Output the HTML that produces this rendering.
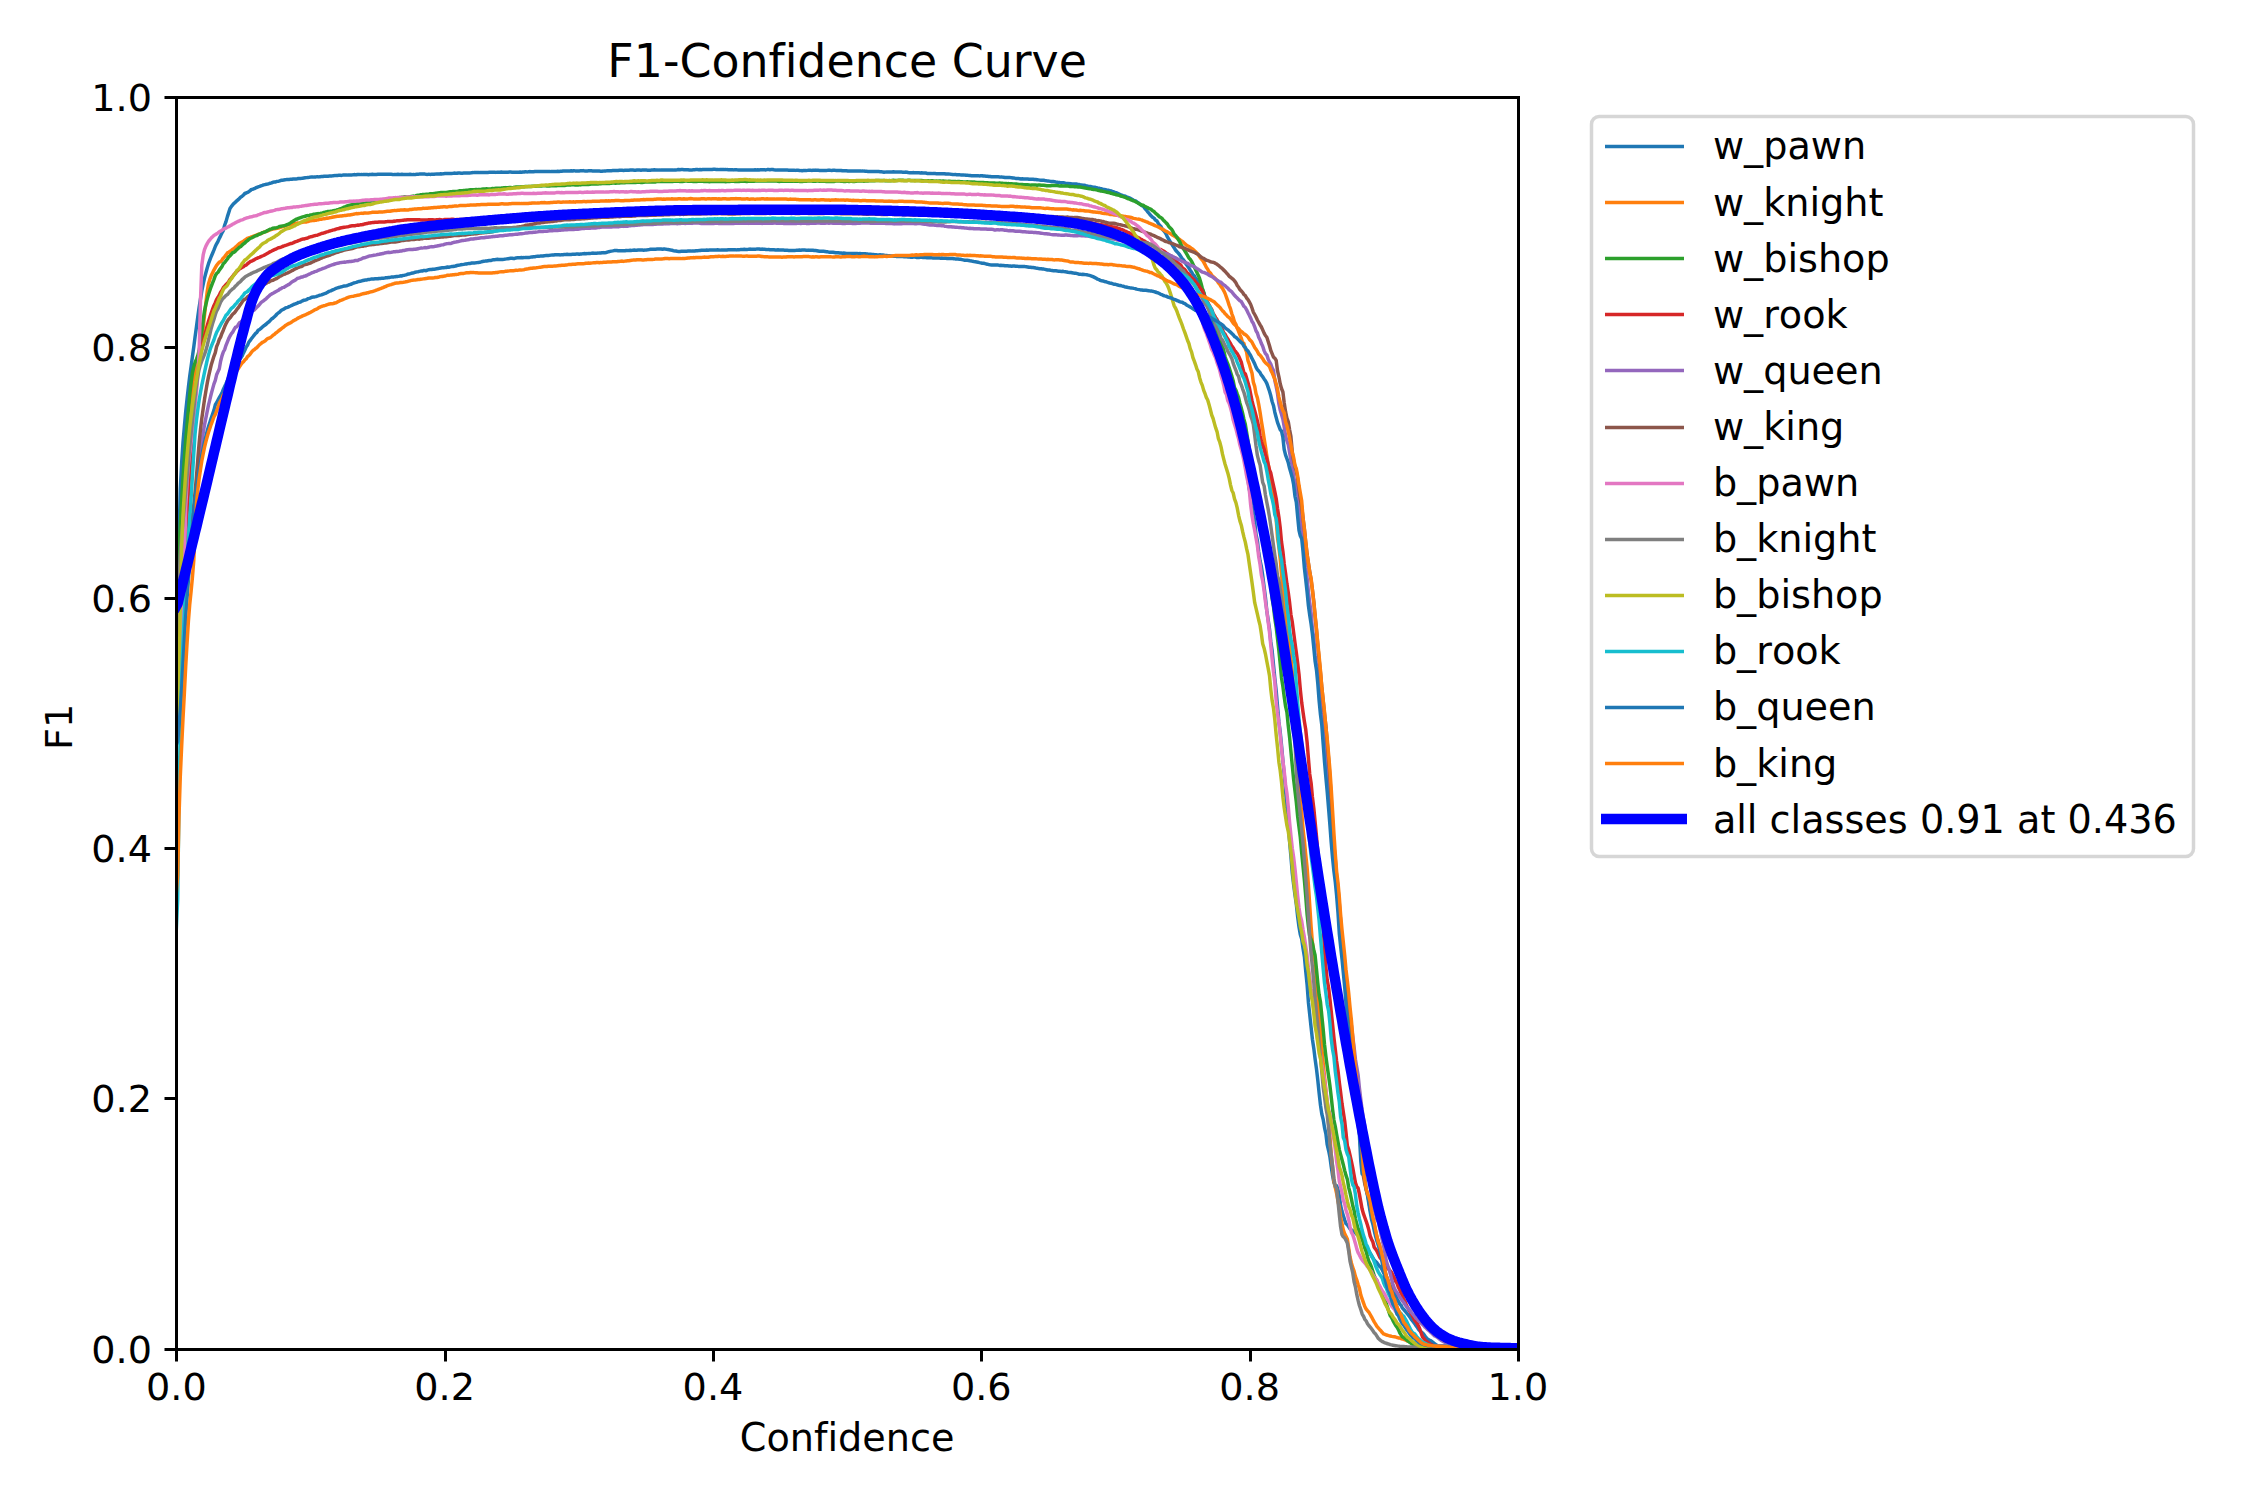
<!DOCTYPE html>
<html lang="en">
<head>
<meta charset="utf-8">
<title>F1-Confidence Curve</title>
<style>
html,body{margin:0;padding:0;background:#ffffff;}
body{width:2250px;height:1500px;overflow:hidden;}
svg{display:block;}
svg text{font-variant-ligatures:none;font-feature-settings:"liga" 0,"clig" 0;font-kerning:none;white-space:pre;}
</style>
</head>
<body>
<svg width="2250" height="1500" viewBox="0 0 2250 1500">
<rect x="0" y="0" width="2250" height="1500" fill="#ffffff"/>
<defs><clipPath id="axclip"><rect x="176.32" y="97.08" width="1341.58" height="1251.47"/></clipPath></defs>
<g fill="#000000">
<rect x="175" y="1349" width="3" height="12.5"/>
<rect x="444" y="1349" width="3" height="12.5"/>
<rect x="712" y="1349" width="3" height="12.5"/>
<rect x="980" y="1349" width="3" height="12.5"/>
<rect x="1249" y="1349" width="3" height="12.5"/>
<rect x="1517" y="1349" width="3" height="12.5"/>
<rect x="164.5" y="1348" width="12" height="3"/>
<rect x="164.5" y="1097" width="12" height="3"/>
<rect x="164.5" y="847" width="12" height="3"/>
<rect x="164.5" y="597" width="12" height="3"/>
<rect x="164.5" y="346" width="12" height="3"/>
<rect x="164.5" y="96" width="12" height="3"/>
</g>
<g clip-path="url(#axclip)" fill="none" stroke-linejoin="round" stroke-linecap="square" stroke-width="3.472">
<path stroke="#1f77b4" d="M176.3 640 177.7 615.6 179 538.3 180.3 488.8 181.7 462 183 442.4 184.4 426.4 185.7 411.7 187.1 398.8 188.4 387.2 189.7 376.5 191.1 366.5 192.4 356.7 193.8 346.7 195.1 336.6 196.5 326.6 197.8 316.8 199.1 307.6 200.5 298.9 201.8 291 203.2 284.1 204.5 278.1 205.9 272.7 207.2 268 208.5 263.7 209.9 259.9 211.2 256.5 212.6 253.3 213.9 250.2 215.3 246.5 216.6 243.8 218 241.3 219.3 238.4 220.6 235.9 222 232.8 223.3 230.7 224.7 225 226 221.6 227.4 216.6 228.7 212.6 230 208.4 231.4 206.4 232.7 204.8 234.1 203.3 235.4 202.2 236.8 200.7 238.1 199.8 239.4 198.5 240.8 197.1 242.1 196.2 243.5 195 244.8 193.5 246.2 193 247.5 192.4 248.8 191.7 250.2 190.6 251.5 189.4 252.9 189.2 254.2 188.7 255.6 187.9 256.9 187.3 258.2 186.8 259.6 186.4 260.9 185.9 262.3 185.4 263.6 184.9 265 184.6 266.3 184.3 267.6 184.1 269 183.7 270.3 183.2 271.7 182.9 273 182.2 274.4 182 275.7 181.9 277 181.4 278.4 181.2 279.7 180.9 281.1 180.3 282.4 180.2 283.8 180 285.1 179.8 286.4 179.6 287.8 179.5 289.1 179.4 290.5 179.3 291.8 179.2 293.2 179 294.5 179.1 295.8 179 297.2 178.8 298.5 178.5 299.9 178.5 301.2 178.4 302.6 178.2 303.9 178 305.2 177.8 306.6 177.6 307.9 177.4 309.3 177.3 310.6 177.1 313.3 177.1 314.6 176.9 316 176.9 317.3 176.7 318.7 176.9 320 176.7 321.4 176.6 322.7 176.6 324 176.3 326.7 176.3 328.1 176.2 329.4 176.1 330.8 176 332.1 175.9 333.4 175.7 334.8 175.6 336.1 175.4 337.5 175.4 338.8 175.3 340.2 175.3 341.5 175.4 342.8 175.1 346.9 175.1 348.2 174.9 349.6 174.9 350.9 175 352.2 174.9 353.6 174.7 354.9 174.6 356.3 174.8 357.6 174.5 359 174.4 360.3 174.6 361.6 174.4 363 174.6 364.3 174.6 365.7 174.5 367 174.6 368.4 174.7 369.7 174.5 371 174.4 372.4 174.3 373.7 174.4 375.1 174.5 376.4 174.5 377.8 174.3 380.4 174.3 381.8 174.2 385.8 174.2 387.2 174.3 388.5 174.2 389.8 174.2 391.2 174.3 392.5 174.4 393.9 174.6 395.2 174.6 396.6 174.5 397.9 174.3 399.2 174.5 400.6 174.4 401.9 174.3 403.3 174.4 404.6 174.5 406 174.4 408.6 174.4 410 174.3 411.3 174.4 412.7 174.6 414 174.6 415.4 174.4 416.7 174.3 418 174.3 419.4 174.1 420.7 174 422.1 174.1 423.4 174 424.8 174.1 426.1 174.3 427.4 174.4 428.8 174.2 430.1 174.4 431.5 174.3 432.8 174.2 434.2 174.2 435.5 174.1 436.8 173.9 438.2 174 439.5 174 440.9 173.8 442.2 173.9 443.6 173.7 444.9 173.6 446.2 173.5 447.6 173.5 448.9 173.4 450.3 173.5 451.6 173.4 453 173.3 454.3 173.1 455.6 173.2 457 173.3 458.3 173 459.7 173.1 461 173.2 462.4 173.2 463.7 173.1 465 173 466.4 172.9 467.7 173 469.1 172.9 470.4 172.9 471.8 172.7 473.1 172.6 474.4 172.4 475.8 172.4 477.1 172.5 478.5 172.4 479.8 172.6 481.2 172.5 482.5 172.4 483.8 172.5 486.5 172.5 487.9 172.4 489.2 172.3 491.9 172.3 493.3 172.2 494.6 172.2 495.9 172.4 497.3 172.2 498.6 172.3 500 172.2 501.3 172.1 502.7 172.2 504 172.2 505.3 172.3 506.7 172.2 508 172.2 509.4 172.1 510.7 172.1 512.1 172.2 513.4 172.2 514.7 172.3 516.1 172.3 517.4 172.2 518.8 172.2 520.1 172.1 521.5 172.2 522.8 172 524.1 172 525.5 171.7 526.8 171.9 528.2 171.8 529.5 171.6 530.9 171.7 532.2 171.8 533.5 171.7 534.9 171.5 537.6 171.5 538.9 171.6 540.3 171.5 544.3 171.5 545.6 171.6 547 171.5 548.3 171.5 549.7 171.4 551 171.6 552.3 171.6 553.7 171.5 555 171.4 556.4 171.4 557.7 171.3 559.1 171.5 560.4 171.3 561.7 171.2 563.1 171 564.4 171 565.8 171.1 567.1 171.1 568.5 171 569.8 170.9 571.1 170.8 572.5 171 573.8 170.7 575.2 170.9 576.5 170.9 577.9 171 579.2 170.9 580.5 170.8 581.9 170.8 583.2 170.6 584.6 170.9 585.9 171 587.3 170.9 588.6 170.8 589.9 170.7 591.3 170.8 592.6 170.9 594 170.9 595.3 171 598 171 599.3 171.1 600.7 171.2 602 171.2 603.4 171.1 604.7 170.9 606.1 170.9 607.4 170.7 611.4 170.7 612.8 170.6 615.5 170.6 616.8 170.5 618.1 170.5 619.5 170.3 622.2 170.3 623.5 170.4 624.9 170.3 626.2 170.2 628.9 170.2 630.2 170.1 632.9 170.1 634.3 170.2 635.6 170.2 636.9 170.1 639.6 170.1 641 170.2 642.3 170.1 643.7 170 645 170.1 646.3 170.1 647.7 170.2 650.4 170.2 651.7 170.1 653.1 170 654.4 169.8 655.7 169.9 657.1 169.9 658.4 170.1 659.8 170.1 661.1 169.9 662.5 170 663.8 170.1 665.1 170.1 666.5 170 667.8 169.9 669.2 170 670.5 170.1 671.9 170 673.2 170.1 674.5 169.9 675.9 169.9 677.2 169.8 678.6 169.5 679.9 169.7 681.3 169.6 682.6 169.6 683.9 169.7 686.6 169.7 688 169.8 689.3 170 690.7 170.1 692 169.9 693.3 169.8 694.7 169.7 696 169.6 697.4 169.6 698.7 169.7 700.1 169.6 701.4 169.7 702.7 169.5 706.8 169.5 708.1 169.6 709.5 169.5 712.1 169.5 713.5 169.3 714.8 169.3 716.2 169.4 717.5 169.4 718.9 169.6 720.2 169.4 721.5 169.4 722.9 169.5 724.2 169.6 725.6 169.4 726.9 169.6 728.3 169.7 729.6 169.8 730.9 169.7 732.3 169.7 733.6 169.9 735 169.7 736.3 169.7 737.7 169.9 739 170 740.3 170.1 741.7 170.1 743 170 744.4 170 745.7 170.1 747.1 170 748.4 169.9 749.7 170 751.1 170.1 752.4 170 753.8 169.9 755.1 169.8 756.5 169.9 757.8 169.8 759.1 169.9 760.5 169.8 761.8 169.7 763.2 169.8 764.5 169.8 765.9 169.9 767.2 169.6 768.5 169.5 769.9 169.7 771.2 169.6 772.6 169.5 773.9 169.8 775.3 169.9 776.6 170.1 778 170 780.6 170 782 170.1 783.3 170.1 784.7 170 786 170.1 787.4 170.1 788.7 170.2 790 170.3 791.4 170.2 794.1 170.2 795.4 170.4 796.8 170.2 798.1 170.3 799.4 170.4 800.8 170.6 802.1 170.7 803.5 170.5 804.8 170.6 806.2 170.6 807.5 170.4 808.8 170.2 810.2 170.2 811.5 170.4 812.9 170.3 814.2 170.3 815.6 170.1 816.9 170.3 818.2 170.3 819.6 170.4 820.9 170.4 822.3 170.5 825 170.5 826.3 170.4 827.6 170.3 829 170.1 830.3 170.3 831.7 170.4 833 170.3 834.4 170.2 835.7 170.4 837 170.5 838.4 170.4 839.7 170.5 841.1 170.5 842.4 170.8 846.4 170.8 847.8 171 849.1 170.9 850.5 170.9 851.8 171 854.5 171 855.8 170.9 857.2 171 858.5 171.1 861.2 171.1 862.6 170.9 863.9 171.1 865.2 171.2 866.6 171.3 867.9 171.4 869.3 171.5 870.6 171.4 872 171.5 873.3 171.4 874.6 171.5 876 171.6 878.7 171.6 880 171.7 881.4 171.8 882.7 171.9 884 172.2 885.4 172.1 886.7 171.9 888.1 171.9 889.4 172 890.8 171.9 892.1 172 893.4 171.8 894.8 172 896.1 171.9 897.5 172 898.8 172.1 901.5 172.1 902.8 172.2 904.2 172.3 905.5 172.1 906.9 172.2 908.2 172.5 909.6 172.7 912.2 172.7 913.6 172.6 914.9 172.8 919 172.8 920.3 172.9 921.6 172.8 923 172.9 924.3 172.9 925.7 173 927 173.4 931 173.4 932.4 173.6 935.1 173.6 936.4 173.7 939.1 173.7 940.4 173.8 943.1 173.8 944.5 173.7 945.8 174 947.2 173.9 948.5 173.9 949.8 174.1 951.2 174.3 952.5 174.4 953.9 174.6 955.2 174.4 956.6 174.7 957.9 174.8 959.2 174.7 960.6 174.9 963.3 174.9 964.6 175.1 966 175.2 967.3 175.2 968.6 175.4 970 175.4 971.3 175.7 972.7 175.7 974 175.8 975.4 175.8 976.7 175.7 978 175.7 979.4 175.9 980.7 175.8 982.1 175.7 983.4 176 984.8 176.1 986.1 176.2 987.4 176.3 988.8 176.5 990.1 176.5 991.5 176.7 994.2 176.7 995.5 176.8 996.8 176.7 998.2 176.8 999.5 176.9 1000.9 177.1 1002.2 177.1 1003.6 177.3 1004.9 177.5 1008.9 177.5 1010.3 177.6 1011.6 177.8 1013 178 1014.3 178.1 1015.6 178.4 1017 178.4 1018.3 178.5 1019.7 178.7 1021 179 1022.4 178.8 1023.7 178.9 1025 179 1026.4 179.1 1027.7 179 1029.1 179.2 1030.4 179.3 1031.8 179.2 1033.1 179.3 1034.4 179.5 1035.8 179.5 1037.1 179.7 1038.5 179.9 1039.8 180.1 1041.2 180.3 1042.5 180.2 1043.8 180.3 1045.2 180.6 1046.5 180.8 1047.9 180.9 1049.2 181.1 1050.6 181.4 1051.9 181.5 1053.3 181.6 1054.6 181.7 1055.9 182.1 1057.3 182.3 1058.6 182.6 1060 182.6 1061.3 182.8 1062.7 182.7 1064 182.8 1065.3 183.2 1066.7 183.5 1068 183.4 1069.4 183.6 1070.7 183.7 1072.1 183.9 1074.7 183.9 1076.1 184 1077.4 184.3 1078.8 184.5 1080.1 184.8 1081.5 184.9 1082.8 185.1 1084.1 185.3 1085.5 185.5 1086.8 186 1088.2 186.3 1089.5 186.4 1090.9 186.5 1092.2 187 1093.5 187.2 1094.9 187.3 1096.2 187.6 1097.6 188 1098.9 188.2 1100.3 188.7 1101.6 188.8 1102.9 189.2 1104.3 189.4 1105.6 189.7 1107 190.1 1108.3 190.3 1109.7 190.6 1111 190.9 1112.3 191.6 1113.7 191.8 1115 192.3 1116.4 192.7 1117.7 193.4 1119.1 194.1 1120.4 194.8 1121.7 195.1 1123.1 195.6 1124.4 196 1125.8 196.5 1127.1 197.1 1128.5 197.5 1129.8 198.1 1131.1 198.8 1132.5 199.7 1133.8 200.3 1135.2 200.8 1136.5 201.6 1137.9 202.6 1139.2 203.5 1140.5 204.6 1141.9 205.6 1143.2 206.2 1144.6 208 1145.9 209.5 1147.3 211.3 1148.6 212.8 1149.9 214.5 1151.3 215.9 1152.6 217.2 1154 218.1 1155.3 219.9 1156.7 220.7 1158 222.9 1159.3 224.9 1160.7 226.2 1162 228.6 1163.4 230.4 1164.7 231.9 1166.1 234.1 1167.4 236.9 1168.7 239.1 1170.1 241.4 1171.4 243.4 1172.8 245.8 1174.1 247.7 1175.5 250 1176.8 251.5 1178.1 252.9 1179.5 254.5 1180.8 256.5 1182.2 258.6 1183.5 260 1184.9 261.9 1186.2 264.3 1187.5 266.1 1188.9 268 1190.2 270.2 1191.6 272 1192.9 274.5 1194.3 275.7 1195.6 278.3 1196.9 279.5 1198.3 282.9 1199.6 285.8 1201 287 1202.3 289.3 1203.7 292.6 1205 297 1206.3 301.3 1207.7 305.7 1209 309.7 1210.4 315.8 1211.7 320.5 1213.1 325.9 1214.4 327.9 1215.7 333.3 1217.1 336.7 1218.4 342.8 1219.8 347.8 1221.1 352.3 1222.5 357.6 1223.8 362.2 1225.1 366.8 1226.5 371.9 1227.8 380.2 1229.2 387.6 1230.5 394.4 1231.9 398.5 1233.2 404.3 1234.5 408.5 1235.9 414.9 1237.2 420.9 1238.6 428.2 1239.9 433.1 1241.3 439.4 1242.6 447.5 1243.9 454.2 1245.3 460.1 1246.6 469.9 1248 479.7 1249.3 489.3 1250.7 496.7 1252 505.5 1253.3 513.4 1254.7 521.4 1256 534.5 1257.4 540.8 1258.7 552 1260.1 561 1261.4 566.7 1262.7 575.6 1264.1 586.9 1265.4 597.3 1266.8 610.8 1268.1 619.6 1269.5 629 1270.8 641.7 1272.1 650.4 1273.5 664.9 1274.8 678.1 1276.2 691 1277.5 705.8 1278.9 721.9 1280.2 731.8 1281.5 745.2 1282.9 760.7 1284.2 774.1 1285.6 791 1286.9 809.6 1288.3 824.4 1289.6 841.7 1290.9 856 1292.3 873.4 1293.6 884.4 1295 895 1296.3 904.1 1297.7 917.1 1299 927 1300.3 934.5 1301.7 938.9 1303 948.2 1304.4 956.7 1305.7 970.9 1307.1 984.6 1308.4 1002.2 1309.7 1014.4 1311.1 1027.3 1312.4 1039.2 1313.8 1048.4 1315.1 1059 1316.5 1069.1 1317.8 1080.2 1319.1 1092.9 1320.5 1105.3 1321.8 1114 1323.2 1119.5 1324.5 1127.5 1325.9 1133.8 1327.2 1144.7 1328.6 1150.5 1329.9 1156.8 1331.2 1166.5 1332.6 1175.7 1333.9 1182.6 1335.3 1185.7 1336.6 1185.7 1338 1189.5 1339.3 1195.6 1340.6 1205.4 1342 1211.3 1343.3 1215.4 1344.7 1220.1 1346 1223.6 1347.4 1224.8 1348.7 1226.9 1350 1228.9 1351.4 1229.9 1352.7 1230.8 1354.1 1232 1355.4 1232.8 1356.8 1234.3 1358.1 1234.9 1359.4 1235.8 1360.8 1237.2 1362.1 1238.7 1363.5 1240.5 1364.8 1242.9 1366.2 1245.7 1367.5 1249.3 1368.8 1251 1370.2 1253.1 1371.5 1255.3 1372.9 1257.8 1374.2 1260.1 1375.6 1261.4 1376.9 1262.8 1378.2 1264.7 1379.6 1266.3 1380.9 1267.4 1382.3 1270 1383.6 1272.6 1385 1273.5 1386.3 1276.2 1387.6 1279.8 1389 1283 1390.3 1285.7 1391.7 1288.1 1393 1290.7 1394.4 1293.2 1395.7 1295.7 1397 1298.9 1398.4 1301.3 1399.7 1303.9 1401.1 1305.2 1402.4 1308.1 1403.8 1309.5 1405.1 1311 1406.4 1312.7 1407.8 1314.3 1409.1 1316.1 1410.5 1318 1411.8 1320 1413.2 1321.8 1414.5 1323.4 1415.8 1325.4 1417.2 1327.2 1418.5 1329.3 1419.9 1330.8 1421.2 1331.8 1422.6 1333 1423.9 1334.4 1425.2 1336.5 1426.6 1338.1 1427.9 1339.4 1429.3 1340.1 1430.6 1340.6 1432 1341.7 1433.3 1342.7 1434.6 1343.8 1436 1344.7 1437.3 1345.5 1438.7 1346.1 1440 1346.4 1441.4 1346.5 1448.1 1346.5 1449.4 1346.4 1456.1 1346.4 1457.5 1346.3 1458.8 1346.4 1460.2 1346.4 1461.5 1346.5 1462.8 1346.4 1517.9 1346.4"/>
<path stroke="#ff7f0e" d="M176.3 650 177.7 632.3 179 575.4 180.3 539.2 181.7 513.5 183 491.3 184.4 470.6 185.7 451.7 187.1 435.1 188.4 420.9 189.7 408.1 191.1 396.2 192.4 385.7 193.8 376.7 195.1 369.4 196.5 364.3 197.8 360.5 199.1 356.5 200.5 350.9 201.8 340.7 203.2 327.4 204.5 315.3 205.9 302.7 207.2 291.6 208.5 283.8 209.9 279.2 211.2 275.6 212.6 272.7 213.9 270.1 215.3 267.6 216.6 265.3 218 263.7 219.3 262.2 220.6 261.7 222 260 223.3 258.1 224.7 256.6 226 254.9 227.4 252.9 228.7 252.4 230 251.2 231.4 250.4 232.7 249.3 234.1 248.5 235.4 247.2 236.8 246.1 238.1 244.7 239.4 243.5 240.8 242.7 242.1 242.1 243.5 241.1 244.8 240.1 246.2 239.2 247.5 238.3 248.8 237.8 250.2 237.3 251.5 236.8 252.9 236.3 254.2 235.9 255.6 235.5 256.9 234.9 258.2 234.3 259.6 233.9 260.9 233.6 262.3 232.9 263.6 232.2 265 231.8 266.3 231.4 267.6 231 269 230.2 270.3 229.9 271.7 229.4 273 229.1 274.4 228.8 275.7 228.5 277 228.2 278.4 228.1 279.7 227.7 281.1 227.2 282.4 226.6 283.8 226.3 285.1 225.8 286.4 225.4 287.8 225.1 289.1 224.9 290.5 224.6 291.8 224.4 293.2 223.9 294.5 223.6 295.8 223.4 297.2 223.1 298.5 223.1 299.9 222.9 301.2 222.6 302.6 222.3 303.9 221.9 305.2 222 306.6 221.9 307.9 221.6 309.3 221.1 310.6 220.9 312 220.5 313.3 220.5 314.6 220.4 316 220.2 317.3 219.9 318.7 219.7 320 219.3 321.4 219.2 322.7 218.9 324 218.7 325.4 218.5 326.7 218.1 328.1 218.2 329.4 217.8 330.8 217.6 332.1 217.3 333.4 217 334.8 216.7 336.1 216.5 337.5 216.3 338.8 216.3 340.2 215.9 341.5 216 342.8 215.8 344.2 215.6 345.5 215.5 346.9 215.3 348.2 214.9 349.6 215 350.9 214.7 352.2 214.6 353.6 214.2 354.9 213.9 356.3 213.6 357.6 213.7 359 213.6 360.3 213.4 361.6 213.2 363 213.4 364.3 213 365.7 212.9 367 213.1 368.4 212.9 369.7 212.8 371 212.6 372.4 212.3 373.7 212.2 377.8 212.2 379.1 212.1 380.4 212.1 381.8 212 383.1 211.9 384.5 211.7 385.8 211.6 387.2 211.3 389.8 211.3 391.2 211 392.5 210.8 393.9 210.6 395.2 210.6 396.6 210.4 397.9 210.3 399.2 210.2 400.6 210.1 401.9 210 403.3 210.1 404.6 209.8 406 209.9 408.6 209.9 410 209.5 411.3 209.5 412.7 209.3 414 209.1 415.4 209 416.7 208.9 418 208.8 419.4 208.7 420.7 208.7 422.1 208.5 423.4 208.2 424.8 208.4 426.1 208.2 427.4 208.2 428.8 208 430.1 208 431.5 207.8 432.8 207.7 434.2 207.5 435.5 207.5 436.8 207.4 438.2 207.2 439.5 207.2 440.9 207.1 442.2 207 443.6 206.8 444.9 206.8 446.2 206.9 447.6 206.9 448.9 206.6 450.3 206.6 451.6 206.5 453 206.3 454.3 206.1 455.6 206 457 206.1 458.3 205.9 459.7 205.6 461 205.5 462.4 205.4 466.4 205.4 467.7 205.2 469.1 205.2 470.4 205.1 471.8 205.1 473.1 204.9 474.4 205 475.8 205 477.1 204.8 478.5 204.7 479.8 204.7 481.2 204.6 485.2 204.6 486.5 204.5 487.9 204.3 489.2 204.2 493.3 204.2 494.6 204.3 495.9 204.2 497.3 204.3 498.6 204.2 500 204.1 501.3 203.8 502.7 203.8 504 203.9 505.3 204 506.7 203.9 508 204 509.4 203.8 510.7 203.7 512.1 203.6 520.1 203.6 521.5 203.4 522.8 203.6 524.1 203.5 525.5 203.4 526.8 203.4 528.2 203.5 529.5 203.3 530.9 203.3 532.2 203 533.5 203 534.9 202.9 536.2 203.1 537.6 202.9 538.9 202.9 540.3 202.8 541.6 202.6 542.9 202.7 544.3 202.6 545.6 202.7 547 202.9 548.3 202.7 549.7 202.7 551 202.4 552.3 202.4 553.7 202.3 555 202.2 556.4 202.2 557.7 202.1 559.1 202.1 560.4 202.2 561.7 202.2 563.1 202.1 564.4 202.1 565.8 201.9 567.1 201.9 568.5 202 569.8 201.8 571.1 201.9 572.5 202 573.8 201.8 575.2 202.2 576.5 201.7 577.9 201.8 580.5 201.8 581.9 201.7 583.2 201.6 584.6 201.6 585.9 201.7 587.3 201.5 589.9 201.5 591.3 201.4 592.6 201.3 594 201.3 595.3 201.2 596.7 201.3 598 201.3 599.3 201.2 600.7 201.1 602 201 603.4 200.9 604.7 200.9 606.1 200.8 607.4 200.9 608.7 200.8 610.1 200.9 611.4 200.8 612.8 200.7 614.1 200.7 615.5 200.6 616.8 200.5 618.1 200.6 619.5 200.6 620.8 200.8 623.5 200.8 624.9 200.5 626.2 200.5 627.5 200.4 630.2 200.4 631.6 200.2 632.9 200.2 634.3 200.1 635.6 200.1 636.9 199.9 638.3 200 639.6 199.9 641 199.8 642.3 199.7 643.7 199.6 645 199.7 646.3 199.6 647.7 199.5 649 199.4 650.4 199.5 651.7 199.5 653.1 199.4 654.4 199.3 655.7 199.2 657.1 199 661.1 199 662.5 199.2 663.8 199.1 665.1 199.2 666.5 199.1 667.8 199 669.2 198.9 670.5 199.1 671.9 198.8 673.2 198.9 674.5 199 675.9 199.1 677.2 199 678.6 198.8 679.9 198.8 681.3 199 682.6 199 683.9 198.8 685.3 198.9 688 198.9 689.3 198.7 690.7 198.6 692 198.7 693.3 198.9 694.7 198.9 696 199 697.4 199.1 698.7 198.9 700.1 198.9 701.4 198.8 704.1 198.8 705.4 198.9 706.8 198.9 708.1 198.7 709.5 198.7 710.8 198.9 712.1 198.8 713.5 198.7 714.8 198.7 716.2 198.8 717.5 198.9 718.9 198.8 720.2 198.9 721.5 198.9 722.9 198.8 724.2 198.7 725.6 198.8 726.9 198.9 728.3 199 729.6 198.9 730.9 198.8 732.3 198.7 735 198.7 736.3 198.6 737.7 198.8 739 198.7 740.3 198.8 741.7 198.9 745.7 198.9 747.1 198.7 748.4 199 749.7 199.2 751.1 199.1 752.4 199 753.8 199.1 755.1 199.3 756.5 199.1 757.8 199.1 759.1 198.9 760.5 198.9 761.8 198.8 763.2 198.8 764.5 198.9 765.9 199 767.2 198.8 768.5 198.9 769.9 199 772.6 199 773.9 199.1 775.3 199.1 776.6 198.9 778 199 779.3 199.1 786 199.1 787.4 199.2 788.7 199.4 790 199.1 791.4 199.2 792.7 199.3 794.1 199.2 795.4 199.2 796.8 199.6 798.1 199.5 799.4 199.7 800.8 199.8 802.1 199.7 804.8 199.7 806.2 199.8 810.2 199.8 811.5 200 812.9 200.1 814.2 199.8 815.6 199.8 816.9 199.9 819.6 199.9 820.9 199.8 823.6 199.8 825 199.9 826.3 199.9 827.6 200.1 829 200 830.3 200.2 831.7 200.1 833 200 834.4 200 835.7 199.8 837 199.9 838.4 199.9 839.7 200.1 841.1 199.9 842.4 200.1 843.8 200 845.1 200.2 846.4 200 847.8 200.1 849.1 200.2 850.5 200.3 851.8 200.4 853.2 200.3 854.5 200.5 855.8 200.5 857.2 200.6 858.5 200.6 859.9 200.7 861.2 200.7 862.6 200.6 863.9 200.5 865.2 200.6 866.6 200.7 870.6 200.7 872 200.8 873.3 200.8 874.6 200.7 876 201 877.3 201.1 878.7 201.1 880 201 881.4 201 882.7 201.1 884 201.2 888.1 201.2 889.4 201.1 890.8 201.3 892.1 201.3 893.4 201.6 894.8 201.5 896.1 201.4 897.5 201.4 898.8 201.3 900.2 201.2 901.5 201.2 902.8 201.3 904.2 201.4 905.5 201.5 906.9 201.6 908.2 201.6 909.6 201.5 910.9 201.5 912.2 201.6 913.6 201.6 914.9 201.8 916.3 202 919 202 920.3 201.9 921.6 201.9 923 202.2 924.3 202.3 925.7 202.6 927 202.6 928.4 202.8 929.7 202.9 931 203 932.4 202.9 936.4 202.9 937.8 203 939.1 203.3 940.4 203.2 941.8 203.4 943.1 203.4 944.5 203.3 945.8 203.3 947.2 203.2 948.5 203.3 949.8 203.4 951.2 203.7 952.5 203.9 953.9 204 955.2 204.1 956.6 204 957.9 204.1 959.2 204.2 960.6 204.3 961.9 204.3 963.3 204.6 964.6 204.8 966 204.8 967.3 204.9 968.6 205 971.3 205 972.7 204.9 974 205 975.4 205.2 976.7 205.3 978 205.3 979.4 205.2 980.7 205.2 982.1 205.3 983.4 205.4 984.8 205.5 986.1 205.7 987.4 205.8 988.8 205.7 990.1 205.8 991.5 205.9 992.8 206 995.5 206 996.8 206.1 998.2 206.2 999.5 206.2 1000.9 206.4 1004.9 206.4 1006.2 206.5 1008.9 206.5 1010.3 206.3 1013 206.3 1014.3 206.5 1015.6 206.7 1017 206.6 1018.3 206.7 1019.7 206.8 1021 206.9 1022.4 206.9 1023.7 207.1 1025 207.1 1026.4 207.2 1027.7 207.2 1029.1 207.3 1030.4 207.4 1031.8 207.7 1034.4 207.7 1035.8 207.8 1037.1 207.7 1038.5 207.8 1039.8 207.7 1041.2 207.9 1042.5 208.1 1043.8 208.3 1045.2 208.4 1046.5 208.3 1047.9 208.3 1049.2 208.4 1050.6 208.6 1051.9 208.8 1053.3 208.7 1054.6 208.9 1055.9 208.9 1057.3 209 1058.6 208.9 1060 208.9 1061.3 209 1064 209 1065.3 208.9 1066.7 209 1068 209.2 1069.4 209.5 1070.7 209.6 1072.1 209.9 1073.4 209.8 1074.7 209.9 1076.1 210 1077.4 210.3 1078.8 210.4 1080.1 210.3 1081.5 210.4 1082.8 210.6 1084.1 210.7 1085.5 211 1086.8 210.9 1088.2 211.1 1089.5 211.2 1090.9 211.5 1092.2 211.7 1093.5 212 1094.9 212.1 1096.2 212.2 1097.6 212.3 1098.9 212.6 1100.3 212.6 1101.6 213 1102.9 213.3 1104.3 213.4 1105.6 213.5 1107 213.7 1108.3 213.9 1109.7 214.4 1111 214.4 1112.3 214.6 1113.7 214.9 1115 214.9 1116.4 215.2 1117.7 215.4 1119.1 215.6 1120.4 215.7 1121.7 215.9 1123.1 216.2 1124.4 216.5 1125.8 216.6 1127.1 216.8 1128.5 216.9 1129.8 217.1 1131.1 217.5 1132.5 218 1133.8 218.4 1135.2 218.6 1136.5 218.9 1137.9 219.1 1139.2 219.2 1140.5 219.6 1141.9 219.9 1143.2 220.7 1144.6 221.1 1145.9 221.6 1147.3 222.1 1148.6 222.8 1149.9 223.3 1151.3 224 1152.6 224.4 1154 225.1 1155.3 225.8 1156.7 226.2 1158 226.8 1159.3 227.5 1160.7 228.4 1162 229 1163.4 229.8 1164.7 230.6 1166.1 231.4 1167.4 231.9 1168.7 232.7 1170.1 233.4 1171.4 234.3 1172.8 235.3 1174.1 236 1175.5 236.8 1176.8 237.8 1178.1 238.4 1179.5 239.4 1180.8 240.6 1182.2 241.3 1183.5 242.4 1184.9 243.7 1186.2 245 1187.5 245.8 1188.9 246.5 1190.2 247.4 1191.6 248.5 1192.9 249.3 1194.3 250.7 1195.6 251.8 1196.9 253.2 1198.3 254.9 1199.6 256.9 1201 258.5 1202.3 260 1203.7 262.1 1205 264.6 1206.3 267.3 1207.7 269.2 1209 271.7 1210.4 273 1211.7 275.1 1213.1 276.6 1214.4 277.6 1215.7 279 1217.1 280.6 1218.4 282.8 1219.8 284.4 1221.1 286.7 1222.5 288.4 1223.8 290.8 1225.1 293.5 1226.5 297.3 1227.8 301 1229.2 305.5 1230.5 308.9 1231.9 314 1233.2 317.4 1234.5 321.9 1235.9 324.4 1237.2 328 1238.6 331.4 1239.9 334.9 1241.3 338.1 1242.6 342.7 1243.9 343.4 1245.3 348.7 1246.6 352 1248 360.7 1249.3 364.1 1250.7 369.1 1252 373.1 1253.3 382.1 1254.7 386.4 1256 393.5 1257.4 397.9 1258.7 404.3 1260.1 412.5 1261.4 421.3 1262.7 429.1 1264.1 438.3 1265.4 446.6 1266.8 455.8 1268.1 463.5 1269.5 471.8 1270.8 482.8 1272.1 489.9 1273.5 498.9 1274.8 508.2 1276.2 519.1 1277.5 537.5 1278.9 547.1 1280.2 559.1 1281.5 574.8 1282.9 587.6 1284.2 602.5 1285.6 612.3 1286.9 625.4 1288.3 636.5 1289.6 646.9 1290.9 657.2 1292.3 671.6 1293.6 692.2 1295 711 1296.3 732.3 1297.7 758.3 1299 783.4 1300.3 801.3 1301.7 811.9 1303 828.6 1304.4 840.8 1305.7 854.3 1307.1 867.5 1308.4 884.9 1309.7 904.8 1311.1 926.6 1312.4 942.4 1313.8 952.3 1315.1 963.1 1316.5 981.5 1317.8 997.2 1319.1 1014.4 1320.5 1032.1 1321.8 1047.7 1323.2 1063.2 1324.5 1076.2 1325.9 1090.1 1327.2 1104.1 1328.6 1122.7 1329.9 1137 1331.2 1154 1332.6 1167.6 1333.9 1181.1 1335.3 1187.6 1336.6 1193.5 1338 1201.3 1339.3 1207.3 1340.6 1216.8 1342 1223.9 1343.3 1229.9 1344.7 1233.8 1346 1236.3 1347.4 1239.3 1348.7 1248.3 1350 1256.9 1351.4 1263 1352.7 1267.4 1354.1 1271.1 1355.4 1276.3 1356.8 1280.1 1358.1 1284.6 1359.4 1288.3 1360.8 1295.2 1362.1 1298.9 1363.5 1302.8 1364.8 1306.5 1366.2 1309.1 1367.5 1310.7 1368.8 1312.1 1370.2 1314.5 1371.5 1316.8 1372.9 1319.5 1374.2 1321.9 1375.6 1324.1 1376.9 1326.4 1378.2 1327.8 1379.6 1329.4 1380.9 1330.7 1382.3 1332.6 1383.6 1333.9 1385 1334.4 1386.3 1335 1387.6 1335.3 1389 1335.7 1390.3 1336 1391.7 1336.4 1393 1336.6 1394.4 1336.8 1395.7 1337 1397 1337.5 1398.4 1337.9 1399.7 1338 1401.1 1338.6 1402.4 1339 1403.8 1339.3 1405.1 1339.9 1406.4 1340.4 1407.8 1341.2 1409.1 1341.6 1410.5 1342.2 1411.8 1343 1413.2 1343.6 1414.5 1344.1 1415.8 1344.6 1417.2 1345.1 1418.5 1345.5 1419.9 1346.1 1421.2 1346.5 1422.6 1346.8 1426.6 1346.8 1427.9 1346.7 1432 1346.7 1433.3 1346.8 1434.6 1346.8 1436 1346.7 1437.3 1346.7 1438.7 1346.8 1505.8 1346.8 1507.2 1346.9 1508.5 1346.8 1509.8 1346.8 1511.2 1346.9 1512.5 1346.8 1517.9 1346.8"/>
<path stroke="#2ca02c" d="M176.3 620 177.7 603.4 179 554.4 180.3 524.1 181.7 500.2 183 478.2 184.4 458.2 185.7 440.2 187.1 424.3 188.4 409.3 189.7 395.1 191.1 382.7 192.4 373 193.8 366.7 195.1 362.5 196.5 359.1 197.8 355.6 199.1 350.8 200.5 342.9 201.8 331.8 203.2 320.1 204.5 310.8 205.9 304.4 207.2 299.1 208.5 294.5 209.9 290.3 211.2 286.5 212.6 282.9 213.9 279.6 215.3 275.6 216.6 273.5 218 272.3 219.3 270.1 220.6 268.4 222 266.5 223.3 263.8 224.7 262.5 226 260.8 227.4 259 228.7 256.8 230 255.8 231.4 254.3 232.7 252.6 234.1 252.3 235.4 251.1 236.8 249.6 238.1 248.5 239.4 247.3 240.8 246.5 242.1 245.1 243.5 243.9 244.8 243 246.2 241.5 247.5 240.6 248.8 239.4 250.2 238.5 251.5 238 252.9 237.3 254.2 236.5 255.6 235.8 256.9 235.5 258.2 234.7 259.6 234.1 260.9 233.6 262.3 232.7 263.6 232.3 265 231.8 266.3 231.3 267.6 230.5 269 229.8 270.3 229.2 271.7 228.8 273 228.2 274.4 228 275.7 227.9 277 227.6 278.4 227 279.7 226.4 281.1 226.3 282.4 225.9 283.8 225.7 285.1 225.4 286.4 224.9 287.8 224.3 289.1 223.8 290.5 222.9 291.8 222 293.2 221.1 294.5 220.4 295.8 219.5 297.2 219 298.5 218.4 299.9 217.9 301.2 217.5 302.6 216.9 303.9 216.6 305.2 216.3 306.6 215.7 307.9 215.6 309.3 215.4 310.6 214.9 312 214.7 313.3 214.3 314.6 214.2 316 213.9 317.3 213.7 318.7 213.6 320 213.4 321.4 213.1 322.7 212.9 324 212.4 325.4 212.1 326.7 212 328.1 211.5 329.4 211.6 330.8 211.3 332.1 211.1 333.4 210.7 334.8 210.4 336.1 210.1 337.5 209.7 338.8 209.4 340.2 208.7 341.5 208.4 342.8 207.8 344.2 207.1 345.5 206.6 346.9 206 348.2 205.6 349.6 205.2 350.9 205.1 352.2 204.6 353.6 204.4 354.9 204.2 356.3 204 357.6 203.5 359 203.2 360.3 202.7 361.6 202.5 363 202.3 364.3 202 365.7 201.9 367 201.6 368.4 201.4 369.7 201.3 371 201 372.4 200.7 373.7 200.8 375.1 200.6 376.4 200.3 377.8 200.1 379.1 200 380.4 199.8 381.8 199.7 383.1 199.7 384.5 199.6 385.8 199.4 387.2 199.2 388.5 199.1 389.8 199 391.2 198.8 392.5 198.7 393.9 198.7 395.2 198.3 396.6 198.2 397.9 197.9 399.2 197.6 400.6 197.6 401.9 197.3 403.3 197.1 404.6 196.7 406 196.9 407.3 196.9 408.6 196.8 410 196.6 411.3 196.4 412.7 196.2 414 196.1 415.4 195.9 416.7 195.5 418 195.3 419.4 195.1 420.7 194.8 422.1 194.6 424.8 194.6 426.1 194.3 427.4 194.3 428.8 194.1 430.1 193.8 431.5 193.7 432.8 193.7 434.2 193.6 435.5 193.3 436.8 193.1 438.2 193 439.5 192.7 440.9 192.6 442.2 192.5 443.6 192.4 446.2 192.4 447.6 192.2 448.9 192 450.3 191.8 451.6 191.7 453 191.6 454.3 191.5 455.6 191.5 457 191.4 458.3 191.1 459.7 190.8 461 190.7 462.4 190.7 463.7 190.6 465 190.5 466.4 190.2 467.7 190.2 469.1 190 470.4 189.8 471.8 189.7 473.1 189.8 474.4 189.7 475.8 189.6 477.1 189.6 478.5 189.4 479.8 189.4 481.2 189.3 482.5 189.1 483.8 189 485.2 188.9 486.5 188.8 487.9 188.9 490.6 188.9 491.9 188.6 493.3 188.6 494.6 188.4 495.9 188.3 497.3 188.3 498.6 188.2 500 188.3 501.3 188.1 502.7 188 504 187.8 505.3 187.6 506.7 187.8 508 187.7 509.4 187.6 510.7 187.6 512.1 187.7 513.4 187.5 514.7 187.2 516.1 187.1 517.4 187.1 518.8 187 520.1 186.9 521.5 186.7 522.8 186.8 524.1 186.7 525.5 186.5 526.8 186.5 528.2 186.4 529.5 186.5 530.9 186.5 532.2 186.3 533.5 186.2 534.9 186.2 536.2 186.3 537.6 186.1 540.3 186.1 541.6 185.9 542.9 185.8 545.6 185.8 547 185.9 548.3 185.8 549.7 185.9 551 185.8 552.3 185.7 553.7 185.8 555 185.6 556.4 185.7 557.7 185.6 559.1 185.5 560.4 185.5 561.7 185.4 563.1 185.4 564.4 185.5 565.8 185.2 567.1 185.1 568.5 185.1 569.8 184.9 571.1 184.9 572.5 184.7 573.8 184.8 575.2 184.9 576.5 185 577.9 185 579.2 184.7 580.5 184.9 581.9 184.6 583.2 184.5 584.6 184.5 585.9 184.4 588.6 184.4 589.9 184.3 591.3 184.1 592.6 184.1 594 183.9 595.3 184 596.7 184 598 183.9 599.3 183.8 600.7 183.7 602 183.5 603.4 183.5 604.7 183.4 606.1 183.5 607.4 183.4 610.1 183.4 611.4 183.2 612.8 183.1 614.1 183.1 615.5 183.2 616.8 183 618.1 182.8 619.5 182.9 620.8 182.8 622.2 182.8 623.5 182.7 624.9 182.7 626.2 182.4 628.9 182.4 630.2 182.5 631.6 182.5 632.9 182.4 634.3 182.5 635.6 182.5 636.9 182.3 638.3 182.2 639.6 182.3 641 182.4 642.3 182.4 643.7 182.3 645 182.1 646.3 182.1 647.7 182 649 182 650.4 181.9 655.7 181.9 657.1 181.6 658.4 181.6 659.8 181.5 661.1 181.4 662.5 181.4 663.8 181.5 665.1 181.6 666.5 181.6 667.8 181.5 669.2 181.4 670.5 181.3 671.9 181.5 673.2 181.4 674.5 181.2 675.9 181.2 677.2 181.3 678.6 181.3 679.9 181.4 681.3 181.5 682.6 181.4 683.9 181.3 685.3 181.1 686.6 181.1 688 181.2 689.3 181.1 690.7 181.3 692 181.3 693.3 181.5 694.7 181.5 696 181.4 697.4 181.4 698.7 181.2 701.4 181.2 702.7 181.3 704.1 181.5 708.1 181.5 709.5 181.7 710.8 181.6 712.1 181.5 714.8 181.5 716.2 181.3 717.5 181.4 721.5 181.4 722.9 181.5 724.2 181.6 725.6 181.7 726.9 181.5 728.3 181.4 729.6 181.5 730.9 181.3 733.6 181.3 735 181.5 739 181.5 740.3 181.2 741.7 181.2 743 181.3 744.4 181.2 745.7 181.4 747.1 181.4 748.4 181.3 749.7 181.3 751.1 181.2 752.4 181.3 753.8 181.3 755.1 181 756.5 181.1 759.1 181.1 760.5 180.9 761.8 180.8 763.2 181 764.5 181 765.9 180.9 771.2 180.9 772.6 181 773.9 181 775.3 181.1 776.6 181.1 778 181.3 779.3 181.4 780.6 181.3 782 181.2 783.3 181.3 786 181.3 787.4 181.1 788.7 181.2 790 181.3 791.4 181.3 792.7 181.2 798.1 181.2 799.4 181.4 800.8 181.4 802.1 181.5 803.5 181.2 804.8 181.1 806.2 181.2 807.5 181 808.8 181.1 811.5 181.1 812.9 181.2 814.2 181.1 815.6 181.2 816.9 181.1 818.2 181.1 819.6 181.3 820.9 181.2 822.3 181.1 823.6 181.2 825 181.3 826.3 181.5 827.6 181.5 829 181.4 830.3 181.4 831.7 181.5 833 181.5 834.4 181.4 835.7 181 837 180.9 838.4 181.1 839.7 181 841.1 181.2 842.4 181.3 843.8 181.4 845.1 181.6 846.4 181.3 847.8 181.3 849.1 181.5 850.5 181.3 851.8 181.3 853.2 181.5 854.5 181.4 855.8 181.3 857.2 181 861.2 181 862.6 180.9 863.9 181.2 865.2 181.1 866.6 180.9 867.9 180.9 869.3 180.8 870.6 180.7 874.6 180.7 876 180.5 877.3 180.5 878.7 180.6 880 180.5 881.4 180.6 882.7 180.6 884 180.5 885.4 180.7 888.1 180.7 889.4 180.6 890.8 180.7 892.1 180.5 893.4 180.3 894.8 180.4 897.5 180.4 898.8 180.3 900.2 180.3 901.5 180.2 902.8 180.3 904.2 180.5 905.5 180.4 906.9 180.5 908.2 180.3 909.6 180.3 910.9 180.5 912.2 180.6 913.6 180.6 914.9 180.5 916.3 180.4 917.6 180.5 920.3 180.5 921.6 180.6 923 180.7 928.4 180.7 929.7 180.9 931 180.8 932.4 180.7 933.7 181.1 935.1 181.2 936.4 181 937.8 181.2 939.1 181.1 940.4 181.1 941.8 181.2 943.1 181 944.5 181.3 945.8 181.3 947.2 181.4 948.5 181.3 949.8 181.3 951.2 181.4 955.2 181.4 956.6 181.7 957.9 181.6 959.2 181.6 960.6 181.7 961.9 181.7 963.3 181.9 966 181.9 967.3 181.8 968.6 181.9 970 182 971.3 182.1 972.7 182.1 974 181.9 975.4 182.3 976.7 182.5 978 182.6 983.4 182.6 984.8 182.7 987.4 182.7 988.8 182.9 990.1 183 991.5 182.9 992.8 183 994.2 182.9 995.5 183.2 998.2 183.2 999.5 183.1 1000.9 183.2 1002.2 183.3 1003.6 183.5 1006.2 183.5 1007.6 183.7 1008.9 183.6 1010.3 183.8 1011.6 183.8 1013 184 1015.6 184 1017 184.1 1018.3 184.3 1019.7 184.4 1021 184.5 1022.4 184.6 1023.7 184.7 1025 184.7 1026.4 184.8 1027.7 184.8 1029.1 184.9 1030.4 185.2 1031.8 185 1033.1 184.9 1034.4 185 1035.8 185.1 1037.1 185.2 1038.5 185.1 1039.8 185.1 1041.2 185.2 1042.5 185.2 1043.8 185.3 1045.2 185.4 1046.5 185.7 1050.6 185.7 1051.9 185.6 1054.6 185.6 1055.9 185.4 1057.3 185.6 1058.6 185.8 1060 185.9 1061.3 185.8 1062.7 186 1064 186.1 1065.3 186.1 1066.7 186 1068 186.1 1069.4 186.4 1070.7 186.4 1072.1 186.6 1073.4 186.6 1074.7 186.8 1076.1 186.7 1077.4 186.9 1078.8 186.9 1080.1 187 1081.5 187.3 1082.8 187.5 1084.1 187.7 1085.5 188 1086.8 188.3 1088.2 188.5 1089.5 188.7 1090.9 188.9 1092.2 189.3 1093.5 189.4 1094.9 189.6 1096.2 189.8 1097.6 190.2 1098.9 190.5 1100.3 190.9 1101.6 191 1102.9 191.4 1104.3 191.6 1105.6 191.9 1107 192.3 1108.3 192.5 1109.7 192.7 1111 193.3 1112.3 193.6 1113.7 194 1115 194.2 1116.4 194.8 1117.7 195.1 1119.1 195.3 1120.4 196 1121.7 196.3 1123.1 196.7 1124.4 197.2 1125.8 197.6 1127.1 198.3 1128.5 198.8 1129.8 199.2 1131.1 199.9 1132.5 200.5 1133.8 200.9 1135.2 201.5 1136.5 202.3 1137.9 203 1139.2 203.8 1140.5 204.5 1141.9 205 1143.2 205.3 1144.6 206.2 1145.9 206.9 1147.3 207.5 1148.6 208.3 1149.9 208.8 1151.3 209.6 1152.6 210.8 1154 211.6 1155.3 212.9 1156.7 214.2 1158 215.3 1159.3 216.7 1160.7 217.5 1162 218.4 1163.4 220.2 1164.7 221.4 1166.1 222.9 1167.4 224.1 1168.7 226.3 1170.1 227.9 1171.4 229 1172.8 231.1 1174.1 234 1175.5 235.4 1176.8 237 1178.1 239.2 1179.5 241.3 1180.8 244.3 1182.2 246.6 1183.5 248.9 1184.9 251 1186.2 253.2 1187.5 255.4 1188.9 258 1190.2 259.2 1191.6 261.4 1192.9 264 1194.3 266.9 1195.6 269.8 1196.9 272.5 1198.3 275.4 1199.6 278.5 1201 283.2 1202.3 288.2 1203.7 292.2 1205 297.8 1206.3 302.1 1207.7 305.3 1209 308.8 1210.4 311.2 1211.7 313.3 1213.1 316.1 1214.4 321.7 1215.7 324.1 1217.1 329 1218.4 333.7 1219.8 336.7 1221.1 341.8 1222.5 346.5 1223.8 350.8 1225.1 356.7 1226.5 360.7 1227.8 363.8 1229.2 367.8 1230.5 372.1 1231.9 376.4 1233.2 380.9 1234.5 387.6 1235.9 390.1 1237.2 393.9 1238.6 397.7 1239.9 403.2 1241.3 408.1 1242.6 413.1 1243.9 419.2 1245.3 424.2 1246.6 432.2 1248 440.7 1249.3 449 1250.7 457.5 1252 466.5 1253.3 472.9 1254.7 478.3 1256 483 1257.4 492.5 1258.7 497.7 1260.1 507.3 1261.4 518.1 1262.7 526.9 1264.1 537.4 1265.4 544.5 1266.8 551.1 1268.1 562.5 1269.5 573.5 1270.8 585.3 1272.1 598.1 1273.5 606.8 1274.8 618.2 1276.2 627.4 1277.5 638.6 1278.9 650.8 1280.2 663.5 1281.5 677.7 1282.9 686.6 1284.2 696.8 1285.6 706.4 1286.9 712.2 1288.3 726.2 1289.6 737.3 1290.9 751.2 1292.3 765.9 1293.6 779 1295 791 1296.3 802.1 1297.7 816.9 1299 827.1 1300.3 837.4 1301.7 852.9 1303 866.2 1304.4 880.4 1305.7 895.9 1307.1 914.2 1308.4 926.6 1309.7 936.3 1311.1 939.5 1312.4 943 1313.8 950.2 1315.1 955.3 1316.5 969.5 1317.8 982.8 1319.1 994.6 1320.5 1002.1 1321.8 1015.6 1323.2 1029.4 1324.5 1044.2 1325.9 1056.4 1327.2 1066.2 1328.6 1076.1 1329.9 1085.5 1331.2 1096.6 1332.6 1109.5 1333.9 1120 1335.3 1126.6 1336.6 1134.2 1338 1142.1 1339.3 1149.6 1340.6 1154.4 1342 1159.7 1343.3 1164.8 1344.7 1170.6 1346 1175.4 1347.4 1179.5 1348.7 1187.6 1350 1192.5 1351.4 1198.8 1352.7 1205.5 1354.1 1210.4 1355.4 1218.6 1356.8 1223.9 1358.1 1228.7 1359.4 1231.1 1360.8 1235.2 1362.1 1238.9 1363.5 1243.5 1364.8 1248.1 1366.2 1251.5 1367.5 1256.9 1368.8 1261.2 1370.2 1264 1371.5 1267.2 1372.9 1271.6 1374.2 1275.7 1375.6 1278.7 1376.9 1280.6 1378.2 1284.3 1379.6 1286.6 1380.9 1289.9 1382.3 1291.7 1383.6 1296.1 1385 1300 1386.3 1303.9 1387.6 1307.7 1389 1312.1 1390.3 1315.8 1391.7 1317.7 1393 1320.6 1394.4 1323.1 1395.7 1325.5 1397 1327.2 1398.4 1329.6 1399.7 1332.7 1401.1 1334.9 1402.4 1336.7 1403.8 1337.6 1405.1 1338.5 1406.4 1339.7 1407.8 1340.9 1409.1 1341.8 1410.5 1342.9 1411.8 1343.8 1413.2 1344.5 1414.5 1345 1415.8 1345.5 1417.2 1346 1418.5 1346.4 1419.9 1346.7 1421.2 1346.8 1468.2 1346.8 1469.6 1346.7 1470.9 1346.8 1504.5 1346.8 1505.8 1346.7 1507.2 1346.8 1517.9 1346.8"/>
<path stroke="#d62728" d="M176.3 660 177.7 652 179 624.8 180.3 602.2 181.7 585.4 183 571.3 184.4 554.9 185.7 534.6 187.1 513 188.4 492.3 189.7 471.6 191.1 451.3 192.4 432.3 193.8 415.2 195.1 398.8 196.5 383.9 197.8 371.5 199.1 362 200.5 354.2 201.8 347.6 203.2 341.5 204.5 335.9 205.9 330.7 207.2 325.8 208.5 321.3 209.9 317 211.2 313 212.6 309.2 213.9 305.7 215.3 302.7 216.6 299.4 218 297.3 219.3 295.1 220.6 292.2 222 290.3 223.3 287.7 224.7 286.1 226 284.6 227.4 283.4 228.7 281.7 230 279.4 231.4 278 232.7 276.2 234.1 274.4 235.4 273.1 236.8 271.4 238.1 270.2 239.4 268.9 240.8 268.2 242.1 267.3 243.5 266.7 244.8 265.5 246.2 265.1 247.5 263.7 248.8 262.8 250.2 261.7 251.5 261.2 252.9 260.4 254.2 259.8 255.6 258.8 256.9 258.4 258.2 257.7 259.6 257.3 260.9 256.6 262.3 256 263.6 255.5 265 254.7 266.3 254 267.6 253.3 269 252.3 270.3 251.7 271.7 251 273 250.3 274.4 249.7 275.7 249.2 277 248.5 278.4 247.8 279.7 247.5 281.1 247.1 282.4 246.5 283.8 246 285.1 245.5 286.4 245.1 287.8 244.6 289.1 244.1 290.5 243.6 291.8 243.5 293.2 242.8 294.5 242.2 295.8 241.6 297.2 241.3 298.5 240.6 299.9 240.1 301.2 239.5 302.6 239.1 303.9 239 305.2 238.6 306.6 238.3 307.9 237.8 309.3 237.2 310.6 236.8 312 236.5 313.3 236.1 314.6 235.7 316 235.4 317.3 235.2 318.7 234.7 320 234.2 321.4 233.5 322.7 233.3 324 232.9 325.4 232.5 326.7 231.9 328.1 231.6 329.4 231 330.8 230.7 332.1 230.3 333.4 229.9 334.8 229.7 336.1 229.1 337.5 228.7 338.8 228.5 340.2 228 341.5 227.7 342.8 227.5 344.2 227.3 345.5 227.1 346.9 226.9 348.2 226.7 349.6 226.3 350.9 226 352.2 225.8 353.6 225.8 354.9 225.7 356.3 225.4 357.6 225.1 359 225.2 360.3 224.8 361.6 224.7 363 224.6 364.3 224 365.7 223.7 367 223.6 368.4 223.1 369.7 223.1 371 222.8 372.4 222.6 373.7 222.5 375.1 222.3 376.4 222.3 377.8 222.2 379.1 221.9 380.4 222 381.8 222.1 383.1 222 384.5 222 385.8 221.8 387.2 221.6 388.5 221.5 389.8 221.4 391.2 221.5 392.5 221.5 393.9 221.1 395.2 221.2 396.6 220.8 397.9 220.8 399.2 220.7 400.6 220.6 401.9 220.4 403.3 220.2 404.6 220.1 406 220 407.3 219.8 408.6 219.8 410 219.7 411.3 219.8 412.7 219.8 414 219.7 415.4 219.8 419.4 219.8 420.7 219.9 422.1 220 423.4 220.1 424.8 220 426.1 219.9 427.4 219.9 428.8 219.8 432.8 219.8 434.2 219.9 435.5 220 436.8 219.8 438.2 219.7 439.5 219.6 440.9 219.7 442.2 219.9 443.6 219.8 444.9 219.5 446.2 219.6 447.6 219.5 448.9 219.5 450.3 219.4 451.6 219.2 453 219.3 454.3 219.6 455.6 219.7 457 219.5 458.3 219.5 459.7 219.4 461 219.7 462.4 219.6 463.7 219.5 465 219.7 466.4 219.6 467.7 219.7 469.1 219.7 470.4 219.6 471.8 219.6 473.1 219.4 475.8 219.4 477.1 219.3 478.5 219.2 479.8 219.3 481.2 219.3 482.5 219.2 483.8 219.3 485.2 219.2 486.5 219.1 487.9 219.1 489.2 219 490.6 219 491.9 218.7 493.3 218.6 494.6 218.7 495.9 218.7 497.3 218.4 498.6 218.2 500 218 501.3 217.9 502.7 218 504 217.8 505.3 217.7 506.7 217.5 508 217.6 509.4 217.4 510.7 217.5 512.1 217.3 513.4 217.2 514.7 217 516.1 216.7 517.4 216.8 518.8 216.5 520.1 216.2 521.5 216.1 522.8 216 524.1 215.8 525.5 215.8 526.8 215.5 528.2 215.3 529.5 215.4 530.9 215.4 532.2 215.2 533.5 215.1 534.9 215 536.2 215 537.6 214.7 538.9 214.6 540.3 214.3 541.6 214 542.9 213.6 544.3 213.7 545.6 213.6 547 213.6 548.3 213.7 549.7 213.5 551 213.4 552.3 213.3 553.7 213.3 555 213.1 556.4 213.1 557.7 213 559.1 213 560.4 212.8 561.7 212.7 563.1 212.4 564.4 212.4 565.8 212.3 567.1 212.4 568.5 212.3 573.8 212.3 575.2 212.2 576.5 212 577.9 212 579.2 211.9 580.5 211.8 581.9 211.7 583.2 211.8 584.6 211.8 585.9 211.7 587.3 211.7 588.6 211.6 589.9 211.3 591.3 211.4 592.6 211.3 594 211.1 595.3 211 596.7 211 598 210.9 599.3 211 600.7 211 602 210.7 603.4 210.7 604.7 210.8 606.1 210.8 607.4 210.6 608.7 210.5 610.1 210.3 612.8 210.3 614.1 210.4 615.5 210.3 616.8 210.2 618.1 210.1 619.5 210.2 620.8 210 622.2 210.1 623.5 210 624.9 210 626.2 209.9 627.5 210 628.9 210 630.2 209.9 631.6 209.8 632.9 209.8 634.3 209.6 635.6 209.4 638.3 209.4 639.6 209.2 641 209.1 642.3 209 643.7 209 645 208.9 646.3 208.9 647.7 209.1 649 209.1 650.4 209.2 651.7 209.2 653.1 209.3 654.4 209.1 655.7 209 657.1 209 658.4 209.1 661.1 209.1 662.5 209 663.8 209 665.1 208.9 666.5 209 667.8 209 669.2 208.9 670.5 208.8 671.9 208.9 673.2 208.7 674.5 208.8 675.9 208.7 677.2 208.6 678.6 208.5 679.9 208.5 681.3 208.6 682.6 208.6 683.9 208.8 685.3 208.7 686.6 208.7 688 209 689.3 208.8 690.7 208.6 692 208.6 693.3 208.5 694.7 208.5 696 208.6 697.4 208.5 698.7 208.4 701.4 208.4 702.7 208.2 704.1 208.4 706.8 208.4 708.1 208.5 710.8 208.5 712.1 208.6 716.2 208.6 717.5 208.5 718.9 208.6 720.2 208.6 721.5 208.5 722.9 208.4 724.2 208.3 725.6 208.1 726.9 208.2 728.3 208.3 729.6 208.3 730.9 208.4 732.3 208.7 733.6 208.8 735 208.6 736.3 208.5 737.7 208.3 739 208.2 740.3 208.3 741.7 208.6 743 208.7 744.4 208.6 748.4 208.6 749.7 208.3 751.1 208.2 752.4 208.3 753.8 208.3 755.1 208.4 756.5 208.4 757.8 208.5 759.1 208.4 760.5 208.4 761.8 208.6 763.2 208.5 764.5 208.4 765.9 208.5 767.2 208.3 768.5 208.1 769.9 208.3 771.2 208.4 772.6 208.5 773.9 208.4 775.3 208.5 778 208.5 779.3 208.3 780.6 208.4 782 208.5 783.3 208.6 784.7 208.4 786 208.3 787.4 208.5 790 208.5 791.4 208.4 792.7 208.5 794.1 208.4 795.4 208.4 796.8 208.3 799.4 208.3 800.8 208.6 802.1 208.5 803.5 208.4 804.8 208.6 806.2 208.5 807.5 208.4 808.8 208.5 810.2 208.7 811.5 208.3 812.9 208.5 814.2 208.6 815.6 208.6 816.9 208.3 818.2 208.3 819.6 208.2 820.9 208.4 822.3 208.5 823.6 208.4 825 208.5 827.6 208.5 829 208.4 830.3 208.4 831.7 208.5 833 208.6 837 208.6 838.4 208.3 839.7 208.4 841.1 208.5 842.4 208.6 843.8 208.5 845.1 208.7 846.4 208.8 847.8 208.8 849.1 208.7 850.5 208.6 851.8 208.9 853.2 208.7 854.5 208.8 855.8 208.9 857.2 208.9 858.5 208.8 859.9 209 861.2 209 862.6 209.1 863.9 209.2 865.2 209 867.9 209 869.3 209.2 873.3 209.2 874.6 209.3 876 209.2 877.3 209.3 880 209.3 881.4 209.4 882.7 209.2 884 209.4 888.1 209.4 889.4 209.6 890.8 209.4 892.1 209.6 893.4 209.7 894.8 209.8 896.1 209.9 897.5 210 898.8 209.8 900.2 210 901.5 210.1 902.8 210.2 904.2 210.3 905.5 210.4 906.9 210.4 908.2 210.5 909.6 210.7 910.9 210.5 912.2 210.7 914.9 210.7 916.3 210.8 917.6 210.9 919 211.1 920.3 211 921.6 210.9 923 210.9 924.3 211 925.7 210.8 927 211 928.4 210.9 929.7 211 931 211.2 932.4 211.1 933.7 211.3 935.1 211.4 937.8 211.4 939.1 211.5 940.4 211.6 941.8 211.7 943.1 211.8 944.5 212 945.8 211.9 947.2 212 948.5 212.1 949.8 212.1 951.2 212.2 952.5 212.2 953.9 212.3 955.2 212.3 956.6 212.4 957.9 212.5 959.2 212.5 960.6 212.7 963.3 212.7 964.6 212.8 966 212.9 967.3 213 968.6 212.9 970 213.1 971.3 213.1 972.7 213.3 974 213.3 975.4 213.4 976.7 213.5 978 213.7 979.4 213.8 982.1 213.8 983.4 213.9 984.8 214.2 986.1 214.2 987.4 214.3 988.8 214.4 990.1 214.4 991.5 214.7 992.8 214.5 994.2 214.9 995.5 214.7 996.8 214.8 998.2 215.1 999.5 214.9 1000.9 214.9 1002.2 215.2 1003.6 215.3 1004.9 215.3 1006.2 215.5 1007.6 215.4 1008.9 215.6 1010.3 215.7 1011.6 215.8 1013 216 1014.3 216.1 1015.6 216.4 1019.7 216.4 1021 216.3 1022.4 216.4 1023.7 216.5 1026.4 216.5 1027.7 216.7 1029.1 217 1030.4 217.1 1031.8 217.3 1033.1 217.5 1034.4 217.6 1035.8 217.8 1037.1 217.9 1038.5 218 1039.8 218.3 1041.2 218.1 1042.5 218 1043.8 218.1 1045.2 218.2 1046.5 218.3 1047.9 218.7 1049.2 218.7 1050.6 218.8 1051.9 218.9 1053.3 219.1 1054.6 219.1 1055.9 219.2 1057.3 219.3 1060 219.3 1061.3 219.4 1062.7 219.4 1064 219.3 1065.3 219.7 1066.7 219.9 1068 220 1069.4 220.3 1070.7 220.6 1072.1 220.8 1073.4 220.8 1074.7 221 1076.1 221.1 1077.4 221.1 1078.8 221.2 1080.1 221.4 1081.5 221.8 1082.8 221.9 1084.1 221.9 1085.5 222.1 1086.8 222.3 1088.2 222.4 1089.5 222.7 1090.9 222.8 1092.2 223 1093.5 223.4 1094.9 223.6 1096.2 223.9 1097.6 224.2 1098.9 224.5 1100.3 224.7 1101.6 224.8 1102.9 225 1104.3 225.3 1105.6 225.4 1107 225.6 1108.3 226 1109.7 226.3 1111 226.5 1112.3 226.9 1113.7 227 1115 227.3 1116.4 227.6 1117.7 228.3 1119.1 228.6 1120.4 229.2 1121.7 229.4 1123.1 230 1124.4 230.9 1125.8 231.4 1127.1 232.1 1128.5 232.6 1129.8 233.2 1131.1 234 1132.5 234.7 1133.8 235.3 1135.2 235.9 1136.5 237 1137.9 237.5 1139.2 238.1 1140.5 239.2 1141.9 239.7 1143.2 240.6 1144.6 241.2 1145.9 242.2 1147.3 242.8 1148.6 243.7 1149.9 244.4 1151.3 244.9 1152.6 245.6 1154 246.2 1155.3 246.8 1156.7 247.6 1158 248.4 1159.3 249.1 1160.7 249.5 1162 250.3 1163.4 251 1164.7 251.8 1166.1 252.9 1167.4 253.8 1168.7 254.8 1170.1 255.7 1171.4 257.2 1172.8 258.3 1174.1 259.2 1175.5 260.6 1176.8 261.9 1178.1 263.3 1179.5 264.2 1180.8 265.2 1182.2 267.6 1183.5 268.6 1184.9 269.7 1186.2 271.6 1187.5 273.3 1188.9 274.1 1190.2 276.2 1191.6 277.7 1192.9 278.8 1194.3 280.4 1195.6 282.1 1196.9 283.5 1198.3 285 1199.6 287.4 1201 289.1 1202.3 291 1203.7 294.3 1205 297 1206.3 299.9 1207.7 302.4 1209 304.8 1210.4 307.4 1211.7 309.4 1213.1 313.3 1214.4 315.4 1215.7 317.6 1217.1 319.8 1218.4 323.1 1219.8 324.5 1221.1 327.1 1222.5 330.1 1223.8 333 1225.1 334.3 1226.5 337 1227.8 338.9 1229.2 341.6 1230.5 343.5 1231.9 346.2 1233.2 347.8 1234.5 350.4 1235.9 352 1237.2 353.6 1238.6 356 1239.9 359 1241.3 362.2 1242.6 367.8 1243.9 372.5 1245.3 373.7 1246.6 378.1 1248 382.7 1249.3 387.4 1250.7 394.4 1252 400.7 1253.3 406.1 1254.7 410.8 1256 415.7 1257.4 421.2 1258.7 426.8 1260.1 435.5 1261.4 441.4 1262.7 445.7 1264.1 449.2 1265.4 454.3 1266.8 459 1268.1 464.1 1269.5 469.9 1270.8 473 1272.1 479.3 1273.5 485.6 1274.8 491.6 1276.2 498.5 1277.5 508.3 1278.9 517.2 1280.2 527.7 1281.5 541.8 1282.9 551.4 1284.2 563.7 1285.6 573.5 1286.9 583.6 1288.3 592.8 1289.6 602.6 1290.9 614.5 1292.3 622.1 1293.6 632.1 1295 642.9 1296.3 652.5 1297.7 663.5 1299 674.4 1300.3 689.4 1301.7 702.6 1303 712.1 1304.4 721.4 1305.7 729.3 1307.1 742.1 1308.4 758.1 1309.7 773.9 1311.1 782.9 1312.4 796.9 1313.8 808.2 1315.1 821.7 1316.5 836.5 1317.8 851.9 1319.1 873 1320.5 890.1 1321.8 907.5 1323.2 926.7 1324.5 950.3 1325.9 967.5 1327.2 980.2 1328.6 987.5 1329.9 999 1331.2 1011.1 1332.6 1024.8 1333.9 1037.5 1335.3 1049.4 1336.6 1060.9 1338 1070.8 1339.3 1082.1 1340.6 1092.2 1342 1103.6 1343.3 1111.9 1344.7 1120.9 1346 1132.6 1347.4 1145.9 1348.7 1149.6 1350 1155.2 1351.4 1161.5 1352.7 1167.5 1354.1 1175.3 1355.4 1182.6 1356.8 1186.9 1358.1 1188.1 1359.4 1194.1 1360.8 1201.9 1362.1 1209.1 1363.5 1213.9 1364.8 1217.5 1366.2 1221.3 1367.5 1225.2 1368.8 1229.9 1370.2 1236 1371.5 1239.2 1372.9 1242.1 1374.2 1247.2 1375.6 1249.1 1376.9 1251 1378.2 1253.8 1379.6 1256.9 1380.9 1258.8 1382.3 1260.6 1383.6 1263.3 1385 1265.4 1386.3 1266.7 1387.6 1268.2 1389 1269.6 1390.3 1270.9 1391.7 1272.6 1393 1275.5 1394.4 1278.3 1395.7 1281.4 1397 1283.1 1398.4 1287.4 1399.7 1289.7 1401.1 1293 1402.4 1295.7 1403.8 1299.6 1405.1 1301.5 1406.4 1305.1 1407.8 1307.7 1409.1 1310.5 1410.5 1312.3 1411.8 1314.7 1413.2 1317 1414.5 1320.1 1415.8 1321.5 1417.2 1323.6 1418.5 1326 1419.9 1329.2 1421.2 1333.2 1422.6 1337.1 1423.9 1338.6 1425.2 1340.3 1426.6 1341.5 1427.9 1342.5 1429.3 1343.3 1430.6 1344.2 1432 1344.9 1433.3 1345.7 1434.6 1346 1436 1346 1437.3 1346.1 1438.7 1346.1 1440 1346 1480.3 1346 1481.6 1346.1 1483 1346 1484.3 1346.1 1488.4 1346.1 1489.7 1346 1491 1346.1 1492.4 1346.1 1493.7 1346 1495.1 1346.1 1504.5 1346.1 1505.8 1346 1509.8 1346 1511.2 1346.1 1512.5 1346.1 1513.9 1346 1516.6 1346 1517.9 1346.1"/>
<path stroke="#9467bd" d="M176.3 640 177.7 638 179 630.3 180.3 622.4 181.7 614.3 183 606 184.4 597.7 185.7 589.5 187.1 581.4 188.4 572.4 189.7 562.1 191.1 548.7 192.4 531.6 193.8 513.8 195.1 498.8 196.5 486.1 197.8 473.9 199.1 462.4 200.5 451.6 201.8 441.7 203.2 432.8 204.5 424.9 205.9 417.8 207.2 411.3 208.5 405.1 209.9 399.4 211.2 394 212.6 388.9 213.9 384.1 215.3 380.3 216.6 374.8 218 371.6 219.3 368.7 220.6 361.3 222 355.9 223.3 352 224.7 349.5 226 345.3 227.4 341.8 228.7 338.6 230 336 231.4 333.7 232.7 332.1 234.1 329.5 235.4 327.4 236.8 326.7 238.1 325 239.4 322.8 240.8 322.1 242.1 320.7 243.5 319.6 244.8 317.9 246.2 316.4 247.5 315.1 248.8 313.1 250.2 312.1 251.5 311.2 252.9 310.7 254.2 309.9 255.6 308.5 256.9 307.1 258.2 306 259.6 304.4 260.9 302.7 262.3 301.6 263.6 300.7 265 299.6 266.3 298.6 267.6 297.3 269 296 270.3 294.7 271.7 293.9 273 293.2 274.4 292.4 275.7 291.7 277 291 278.4 290.3 279.7 289.2 281.1 288.6 282.4 287.6 283.8 287.4 285.1 286.6 286.4 285.7 287.8 284.9 289.1 284.3 290.5 283.2 291.8 282 293.2 281.2 294.5 280.6 295.8 279.7 297.2 278.5 298.5 278.1 299.9 277.8 301.2 277.1 302.6 277 303.9 276.3 305.2 276 306.6 275.5 307.9 274.8 309.3 274.1 310.6 273.5 312 272.7 313.3 272.4 314.6 271.7 316 271.3 317.3 270.8 318.7 270.1 320 269.6 321.4 269.1 322.7 268.5 324 268.1 325.4 267.6 326.7 267 328.1 266.4 329.4 265.8 330.8 265.3 332.1 264.9 333.4 264.5 334.8 264 336.1 263.6 337.5 263.3 338.8 263 340.2 262.6 341.5 262.4 342.8 262.3 344.2 262.1 345.5 262.2 346.9 261.8 348.2 261.7 349.6 261.5 350.9 261.5 352.2 261.3 353.6 261.1 354.9 260.6 356.3 260.6 357.6 260.5 359 259.7 360.3 259.3 361.6 258.9 363 258 364.3 257.8 365.7 257.3 367 256.9 368.4 256.3 369.7 255.9 371 255.8 372.4 255.6 373.7 255.3 375.1 255.1 376.4 254.9 377.8 254.4 379.1 254.3 380.4 254 381.8 253.7 383.1 253.6 384.5 253 385.8 252.8 387.2 252.4 388.5 252.3 389.8 252.4 391.2 252.3 392.5 252.1 393.9 251.7 395.2 251.7 396.6 251.4 397.9 251.4 399.2 251.3 400.6 251 401.9 250.9 403.3 250.4 404.6 250.4 406 250 407.3 249.8 408.6 249.6 411.3 249.6 412.7 249.5 414 249.3 415.4 249.3 416.7 249 418 248.7 419.4 248.4 420.7 248.1 422.1 248.1 423.4 247.9 424.8 247.6 426.1 247.7 427.4 247.5 428.8 247.2 430.1 246.9 431.5 246.6 432.8 246.8 434.2 246.6 435.5 246.2 436.8 246 438.2 245.7 439.5 245.6 440.9 245.1 442.2 244.9 443.6 244.7 444.9 244.2 446.2 243.8 447.6 243.6 448.9 243.4 450.3 243.5 451.6 243.2 453 242.6 454.3 242.3 455.6 242.1 457 241.8 458.3 241.6 459.7 241.2 461 240.8 462.4 240.5 463.7 240.4 465 240.2 466.4 239.9 467.7 239.8 469.1 239.5 470.4 239.1 471.8 239.1 473.1 239 474.4 238.7 475.8 238.5 477.1 238.4 478.5 238.2 479.8 238 481.2 237.8 482.5 237.7 483.8 237.8 485.2 237.5 486.5 237.2 487.9 237.2 489.2 237 490.6 236.9 491.9 236.7 493.3 236.5 494.6 236.4 495.9 236.3 497.3 236.3 498.6 236 500 235.8 501.3 235.7 502.7 235.7 504 235.5 505.3 235.3 506.7 235.2 508 235.1 509.4 234.8 510.7 234.7 512.1 234.7 513.4 234.6 514.7 234.4 516.1 234.2 517.4 234.2 518.8 233.9 520.1 233.8 521.5 233.8 522.8 233.6 524.1 233.4 525.5 233.1 526.8 233 528.2 232.8 529.5 232.5 530.9 232.6 532.2 232.5 533.5 232.3 534.9 232.2 536.2 232.1 537.6 231.9 538.9 231.6 540.3 231.5 541.6 231.6 542.9 231.5 544.3 231.3 545.6 231.3 547 231.2 548.3 230.9 549.7 230.8 552.3 230.8 553.7 230.6 555 230.3 556.4 230.4 557.7 230.4 559.1 230.3 560.4 230.2 561.7 230.1 563.1 230.1 564.4 229.9 565.8 229.7 567.1 229.7 568.5 229.6 571.1 229.6 572.5 229.3 573.8 229.4 575.2 229.3 576.5 229.3 577.9 229.2 579.2 229 580.5 228.8 581.9 228.6 583.2 228.5 584.6 228.4 585.9 228.1 587.3 228.3 588.6 228.2 589.9 228.3 591.3 228.1 592.6 228.1 594 228 595.3 228.1 596.7 227.8 598 227.6 599.3 227.6 600.7 227.2 602 227.1 603.4 227 604.7 226.9 610.1 226.9 611.4 227 612.8 226.8 615.5 226.8 616.8 226.7 618.1 226.9 619.5 226.6 620.8 226.3 622.2 226.2 623.5 226.4 624.9 226.2 627.5 226.2 628.9 225.9 630.2 225.7 631.6 225.5 632.9 225.5 634.3 225.4 635.6 225.3 636.9 225.2 638.3 225.1 639.6 224.9 641 224.8 642.3 224.7 643.7 224.6 649 224.6 650.4 224.4 651.7 224.5 653.1 224.4 654.4 224.3 655.7 224.3 657.1 224.1 658.4 224.1 659.8 224 661.1 223.8 662.5 224 663.8 223.7 665.1 223.9 666.5 223.7 667.8 223.8 669.2 223.7 670.5 223.6 671.9 223.5 673.2 223.4 674.5 223.3 675.9 223.4 677.2 223.7 678.6 223.6 679.9 223.6 681.3 223.3 683.9 223.3 685.3 223.4 686.6 223.3 689.3 223.3 690.7 223.2 692 223.4 693.3 223.1 698.7 223.1 700.1 223.3 701.4 223.5 702.7 223.6 704.1 223.4 708.1 223.4 709.5 223.5 710.8 223.5 712.1 223.6 713.5 223.5 714.8 223.2 716.2 223.1 717.5 223.3 718.9 223.4 720.2 223.6 721.5 223.4 724.2 223.4 725.6 223.6 726.9 223.5 729.6 223.5 730.9 223.6 732.3 223.5 733.6 223.4 735 223.3 736.3 223.2 741.7 223.2 743 223.3 744.4 223.2 745.7 223.3 747.1 223.2 748.4 223.4 749.7 223.2 753.8 223.2 755.1 223.3 756.5 223.1 757.8 223.2 760.5 223.2 761.8 223.4 763.2 223.3 764.5 223.3 765.9 223.1 767.2 223.2 769.9 223.2 771.2 223.1 772.6 223.3 773.9 223.1 775.3 223.1 776.6 223.2 778 223.2 779.3 223.3 780.6 223.3 782 223.2 783.3 223.4 787.4 223.4 788.7 223.3 790 223.5 791.4 223.4 792.7 223.3 794.1 223.4 795.4 223.3 796.8 223.4 798.1 223.2 799.4 223.3 800.8 223.4 802.1 223.3 803.5 223.3 804.8 223.2 806.2 223.4 807.5 223.5 808.8 223.5 810.2 223.2 811.5 223.3 812.9 223.2 814.2 223.3 815.6 223.3 816.9 223.1 819.6 223.1 820.9 223.3 822.3 223.3 823.6 223.2 825 223.3 826.3 223.1 827.6 223.1 829 223.2 830.3 223.1 831.7 223.1 833 223.2 834.4 223.3 835.7 223.2 837 223.1 838.4 223.3 841.1 223.3 842.4 223.4 845.1 223.4 846.4 223.3 847.8 223.2 849.1 223.3 850.5 223.2 851.8 223.4 855.8 223.4 857.2 223.3 858.5 223.2 859.9 223.2 861.2 223 862.6 223 863.9 222.9 865.2 223 866.6 222.9 867.9 223 869.3 223 870.6 223.2 872 223.3 873.3 223.2 874.6 223.3 878.7 223.3 880 223.1 881.4 223.2 882.7 223.2 884 223.1 885.4 223.4 886.7 223.5 888.1 223.6 889.4 223.4 890.8 223.4 892.1 223.5 893.4 223.7 894.8 223.9 896.1 223.7 898.8 223.7 900.2 223.8 901.5 223.7 902.8 223.5 904.2 223.6 905.5 223.5 908.2 223.5 909.6 223.4 910.9 223.5 912.2 223.4 913.6 223.6 914.9 223.7 916.3 223.7 917.6 223.6 919 223.4 920.3 223.6 921.6 223.8 923 224.1 924.3 224.2 925.7 224.2 927 224.6 928.4 224.8 929.7 224.9 931 225 932.4 225.1 933.7 225 935.1 225.2 936.4 225.4 937.8 225.5 939.1 225.4 940.4 225.5 941.8 225.8 943.1 225.7 944.5 226.2 945.8 226.4 947.2 226.6 948.5 226.8 949.8 226.7 951.2 226.7 952.5 227 953.9 227.1 955.2 227.2 956.6 227.2 957.9 227.4 959.2 227.6 960.6 227.6 961.9 227.7 963.3 227.8 964.6 227.9 966 228.1 967.3 228.2 968.6 228.4 970 228.3 971.3 228.4 972.7 228.5 974 228.8 975.4 228.8 976.7 228.7 978 228.7 979.4 228.8 980.7 228.9 982.1 229 983.4 228.9 984.8 228.9 986.1 229 987.4 229.2 988.8 229.3 990.1 229.3 991.5 229.2 992.8 229.4 994.2 229.9 995.5 229.9 996.8 229.8 998.2 229.8 999.5 229.9 1000.9 229.7 1002.2 229.8 1003.6 229.9 1004.9 230.3 1006.2 230.2 1007.6 230.5 1008.9 230.7 1010.3 230.6 1011.6 230.8 1013 230.8 1014.3 231 1015.6 231.2 1017 231.2 1018.3 231.3 1019.7 231.3 1021 231.4 1022.4 231.7 1023.7 231.8 1025 231.8 1026.4 231.9 1027.7 232.1 1029.1 232.2 1030.4 232.3 1031.8 232.2 1033.1 232.4 1034.4 232.5 1035.8 232.6 1037.1 232.7 1038.5 232.8 1039.8 233 1041.2 233.2 1042.5 233.4 1043.8 233.6 1045.2 233.8 1046.5 233.8 1047.9 234 1049.2 234.1 1050.6 234.4 1051.9 234.6 1053.3 234.8 1054.6 234.8 1055.9 234.7 1057.3 234.9 1058.6 234.9 1060 235.1 1061.3 235.3 1062.7 235.2 1064 235.3 1065.3 235 1066.7 235 1068 235.2 1069.4 235.3 1070.7 235.4 1072.1 235.6 1073.4 235.7 1074.7 235.7 1076.1 235.8 1077.4 235.7 1078.8 235.6 1080.1 235.6 1081.5 235.7 1082.8 235.7 1084.1 235.8 1085.5 235.9 1086.8 236 1088.2 236 1089.5 236.4 1090.9 236.3 1092.2 236.4 1093.5 236.7 1094.9 236.8 1096.2 236.8 1097.6 236.9 1098.9 237 1100.3 237.1 1101.6 237.2 1102.9 237.4 1104.3 237.6 1105.6 237.6 1107 238.2 1108.3 238.2 1109.7 238.5 1111 238.7 1112.3 238.9 1113.7 239 1115 239.4 1116.4 239.7 1117.7 240 1119.1 240.2 1120.4 240.5 1121.7 240.7 1123.1 240.9 1124.4 241.1 1125.8 241.3 1127.1 241.5 1128.5 241.6 1129.8 242 1131.1 242.6 1132.5 242.8 1133.8 243.1 1135.2 243.4 1136.5 243.6 1137.9 244 1139.2 244.4 1140.5 244.9 1141.9 245.4 1143.2 246.1 1144.6 246.5 1145.9 246.7 1147.3 247.4 1148.6 247.8 1149.9 248.1 1151.3 249 1152.6 249.4 1154 249.8 1155.3 250.2 1156.7 250.4 1158 250.7 1159.3 251.1 1160.7 251.5 1162 251.8 1163.4 252.6 1164.7 253.2 1166.1 253.5 1167.4 254.1 1168.7 254.5 1170.1 255.3 1171.4 255.7 1172.8 256.7 1174.1 257.2 1175.5 257.9 1176.8 258.6 1178.1 259.3 1179.5 260 1180.8 260.5 1182.2 261.4 1183.5 262 1184.9 262.3 1186.2 262.8 1187.5 263.3 1188.9 264.2 1190.2 265.1 1191.6 265.6 1192.9 266.2 1194.3 266.7 1195.6 267.8 1196.9 268.6 1198.3 269.3 1199.6 270.3 1201 271.2 1202.3 272.1 1203.7 272.4 1205 272.9 1206.3 273.5 1207.7 274 1209 275.2 1210.4 275.8 1211.7 276.4 1213.1 277.2 1214.4 278.4 1215.7 279.3 1217.1 280.3 1218.4 281.1 1219.8 281.8 1221.1 282.4 1222.5 283.8 1223.8 284.9 1225.1 285.8 1226.5 287.1 1227.8 288.1 1229.2 289.9 1230.5 290.8 1231.9 291.9 1233.2 293.7 1234.5 295.3 1235.9 296.8 1237.2 298.1 1238.6 299.5 1239.9 300.8 1241.3 301.6 1242.6 303.9 1243.9 306.3 1245.3 307.5 1246.6 309.8 1248 312.7 1249.3 315.2 1250.7 318.2 1252 321.4 1253.3 323.3 1254.7 326.8 1256 330.8 1257.4 333 1258.7 337.2 1260.1 340 1261.4 343.6 1262.7 346.3 1264.1 350.6 1265.4 353.5 1266.8 354.9 1268.1 358.9 1269.5 361.9 1270.8 364.2 1272.1 367.9 1273.5 370.6 1274.8 380.4 1276.2 386.6 1277.5 393.4 1278.9 404 1280.2 410 1281.5 414.2 1282.9 419.3 1284.2 426.7 1285.6 436 1286.9 440.7 1288.3 444.7 1289.6 452.5 1290.9 459.9 1292.3 465.8 1293.6 476.9 1295 482.3 1296.3 490.6 1297.7 493.3 1299 503 1300.3 515.8 1301.7 528 1303 541 1304.4 556.3 1305.7 567.8 1307.1 577.9 1308.4 591.6 1309.7 602.5 1311.1 613.1 1312.4 628.6 1313.8 638.5 1315.1 655.2 1316.5 666.2 1317.8 673.4 1319.1 684.5 1320.5 697.4 1321.8 712.5 1323.2 723 1324.5 734.6 1325.9 748.3 1327.2 767.2 1328.6 784 1329.9 802.1 1331.2 819.7 1332.6 834.7 1333.9 850.7 1335.3 868.2 1336.6 879 1338 894.7 1339.3 910.9 1340.6 927.5 1342 941.4 1343.3 958.5 1344.7 972.6 1346 982.5 1347.4 993.3 1348.7 1006.3 1350 1015.3 1351.4 1025.3 1352.7 1036.2 1354.1 1047.1 1355.4 1059.2 1356.8 1067.5 1358.1 1075 1359.4 1088 1360.8 1099.5 1362.1 1109.8 1363.5 1118.7 1364.8 1126.3 1366.2 1139 1367.5 1148.2 1368.8 1162.1 1370.2 1177.8 1371.5 1195 1372.9 1204.4 1374.2 1209.6 1375.6 1214 1376.9 1219.7 1378.2 1221.4 1379.6 1227.6 1380.9 1233.6 1382.3 1240.2 1383.6 1245.9 1385 1253.5 1386.3 1261 1387.6 1265.2 1389 1268.8 1390.3 1273.7 1391.7 1279.8 1393 1284.2 1394.4 1288.5 1395.7 1290.8 1397 1292.5 1398.4 1294.6 1399.7 1297 1401.1 1298.9 1402.4 1300.9 1403.8 1302.5 1405.1 1304.6 1406.4 1306.6 1407.8 1308.2 1409.1 1309.4 1410.5 1311 1411.8 1313.1 1413.2 1314.6 1414.5 1316.1 1415.8 1318.1 1417.2 1319.2 1418.5 1320.8 1419.9 1322 1421.2 1323.2 1422.6 1324.5 1423.9 1325.7 1425.2 1327.3 1426.6 1328.5 1427.9 1329.9 1429.3 1330.9 1430.6 1332.3 1432 1333.5 1433.3 1334.7 1434.6 1335.9 1436 1336.5 1437.3 1337.3 1438.7 1338.3 1440 1339.6 1441.4 1340.4 1442.7 1341.1 1444 1342 1445.4 1342.6 1446.7 1343.3 1448.1 1343.9 1449.4 1344.4 1450.8 1344.9 1452.1 1345.3 1453.4 1345.8 1454.8 1346.1 1456.1 1346.4 1464.2 1346.4 1465.5 1346.5 1466.9 1346.4 1468.2 1346.5 1469.6 1346.4 1470.9 1346.5 1474.9 1346.5 1476.3 1346.4 1477.6 1346.5 1479 1346.4 1491 1346.4 1492.4 1346.5 1493.7 1346.4 1517.9 1346.4"/>
<path stroke="#8c564b" d="M176.3 640 177.7 636.8 179 625.2 180.3 613.8 181.7 602.6 183 591.6 184.4 580.9 185.7 570.3 187.1 559.5 188.4 548.8 189.7 538.4 191.1 527.8 192.4 516.7 193.8 504.9 195.1 491.6 196.5 476 197.8 459.3 199.1 443.3 200.5 429.4 201.8 418.5 203.2 408.5 204.5 399.4 205.9 391 207.2 383.4 208.5 376.6 209.9 370.5 211.2 365.1 212.6 360.5 213.9 356.3 215.3 352.7 216.6 346.7 218 343.3 219.3 339.4 220.6 337.1 222 333.2 223.3 330.2 224.7 326.6 226 323.8 227.4 321.1 228.7 319.3 230 317.9 231.4 315.9 232.7 314.2 234.1 313.2 235.4 311.6 236.8 309.5 238.1 307.9 239.4 306.1 240.8 304.1 242.1 302.1 243.5 300.1 244.8 299.4 246.2 298.4 247.5 297 248.8 296 250.2 294.8 251.5 293.4 252.9 292.4 254.2 291.8 255.6 290.5 256.9 289.4 258.2 288 259.6 286.9 260.9 286 262.3 285.3 263.6 284.5 265 284 266.3 283.2 267.6 282.3 269 282 270.3 281.1 271.7 280.5 273 280.3 274.4 279.5 275.7 278.9 277 278.3 278.4 277.4 279.7 276.3 281.1 275.9 282.4 275 283.8 274.4 285.1 274.1 286.4 273.3 287.8 272.8 289.1 272.2 290.5 271.5 291.8 270.8 293.2 270.1 294.5 269.3 295.8 268.5 297.2 268 298.5 267.5 299.9 266.9 301.2 266.6 302.6 265.9 303.9 264.9 305.2 264.6 306.6 264.3 307.9 263.9 309.3 263.4 310.6 263 312 262.2 313.3 261.7 314.6 260.8 316 260.5 317.3 260 318.7 259.4 320 258.7 321.4 258.1 322.7 257.4 324 257.1 325.4 256.4 326.7 256.2 328.1 255.7 329.4 255.4 330.8 254.7 332.1 254.2 333.4 253.8 334.8 253.1 336.1 252.7 337.5 252.3 338.8 251.8 340.2 251.4 341.5 251 342.8 250.6 344.2 250.2 345.5 249.8 346.9 249.6 348.2 249.4 349.6 249.1 350.9 248.9 352.2 248.6 353.6 248.1 354.9 247.7 356.3 247.1 357.6 246.8 359 246.7 360.3 246.4 361.6 246.3 363 246.2 364.3 245.9 365.7 245.7 367 245.4 368.4 245.1 369.7 244.9 371 244.7 372.4 244.6 373.7 244.4 375.1 244.3 376.4 244.1 377.8 244 379.1 243.8 380.4 243.6 381.8 243.4 383.1 243.3 384.5 243 385.8 243 387.2 242.8 388.5 242.5 389.8 242.3 391.2 242.1 392.5 242.1 393.9 242 395.2 241.9 396.6 241.8 397.9 241.4 399.2 241.3 400.6 240.9 401.9 240.6 403.3 240.5 404.6 240.3 406 240.1 407.3 240.1 408.6 240 410 239.7 411.3 239.4 412.7 239.5 414 239.5 415.4 239.3 416.7 239.1 418 239.1 419.4 239.2 420.7 238.8 422.1 238.8 423.4 238.4 424.8 238.2 426.1 238.4 427.4 238.2 428.8 238.2 430.1 237.9 431.5 237.8 434.2 237.8 435.5 237.5 436.8 237.3 438.2 237.1 439.5 237.3 440.9 237.1 442.2 237 443.6 236.9 444.9 236.6 446.2 236.7 447.6 236.6 448.9 236.3 450.3 236.2 451.6 236 453 235.8 454.3 235.4 455.6 235.6 457 235.4 459.7 235.4 461 235.2 462.4 235.1 463.7 235.1 465 235 466.4 234.7 467.7 234.5 469.1 234.2 470.4 234.2 471.8 234.1 473.1 234 474.4 233.7 475.8 233.9 477.1 233.7 478.5 233.3 479.8 233.1 481.2 232.9 482.5 232.8 483.8 232.7 485.2 232.4 486.5 232.4 487.9 232.3 489.2 232.2 490.6 232 491.9 231.7 493.3 231.6 494.6 231.2 495.9 230.9 497.3 230.5 498.6 230.3 500 230.1 501.3 229.8 502.7 229.5 504 229.3 505.3 229 506.7 228.7 508 228.6 509.4 228.3 510.7 228.3 512.1 227.9 513.4 227.6 514.7 227.4 516.1 227.3 517.4 227.1 518.8 227 520.1 226.7 521.5 226.5 522.8 226.2 524.1 225.9 525.5 225.3 526.8 225.2 528.2 224.9 529.5 224.8 530.9 224.5 532.2 224.3 533.5 223.9 534.9 223.8 536.2 223.3 537.6 223 538.9 223 540.3 222.9 541.6 222.4 542.9 222.4 544.3 222.3 545.6 222.1 547 222 548.3 221.8 549.7 221.7 551 221.6 552.3 221.6 553.7 221.3 555 221.1 556.4 221 557.7 220.6 559.1 220.6 560.4 220.5 561.7 220.2 563.1 220.1 564.4 219.8 569.8 219.8 571.1 219.5 572.5 219.5 573.8 219.4 575.2 219.3 576.5 219.1 577.9 219.1 579.2 218.9 580.5 219 581.9 218.8 583.2 218.7 584.6 218.7 585.9 218.4 587.3 218.4 588.6 218.3 589.9 218.2 591.3 217.9 592.6 217.9 594 217.8 595.3 217.8 596.7 217.7 598 217.5 599.3 217.4 600.7 217.4 602 217.2 603.4 217.3 604.7 217.1 606.1 217.2 607.4 217.1 608.7 217.2 610.1 217.1 611.4 217.1 612.8 216.9 614.1 216.8 615.5 216.7 616.8 216.5 618.1 216.6 619.5 216.7 620.8 216.5 622.2 216.3 623.5 216.2 624.9 216.3 626.2 216.2 627.5 216.2 628.9 216.1 630.2 216.2 631.6 216.3 632.9 215.9 635.6 215.9 636.9 215.6 638.3 215.5 639.6 215.5 641 215.4 642.3 215.6 643.7 215.4 645 215.5 646.3 215.6 647.7 215.4 649 215.3 653.1 215.3 654.4 215.2 655.7 215.2 657.1 215 658.4 215 659.8 214.9 661.1 214.9 662.5 214.8 663.8 214.9 665.1 214.7 669.2 214.7 670.5 214.6 671.9 214.5 673.2 214.4 674.5 214.4 675.9 214.3 678.6 214.3 679.9 214.4 681.3 214.3 682.6 214.3 683.9 214.4 685.3 214.2 686.6 214.2 688 214.1 692 214.1 693.3 213.9 694.7 214 696 213.9 697.4 214 698.7 213.9 701.4 213.9 702.7 213.7 704.1 213.8 705.4 213.7 706.8 213.7 708.1 213.6 709.5 213.6 710.8 213.7 712.1 213.8 714.8 213.8 716.2 213.6 717.5 213.8 718.9 213.6 720.2 213.6 721.5 213.7 724.2 213.7 725.6 213.6 726.9 213.8 728.3 213.9 729.6 213.9 730.9 214 732.3 213.9 733.6 213.9 735 214 736.3 213.8 737.7 213.8 739 213.7 740.3 213.7 741.7 213.5 743 213.4 744.4 213.5 745.7 213.6 747.1 213.5 748.4 213.6 749.7 213.5 751.1 213.3 753.8 213.3 755.1 213.6 756.5 213.4 757.8 213.5 759.1 213.4 760.5 213.6 763.2 213.6 764.5 213.5 765.9 213.4 767.2 213.3 768.5 213.3 769.9 213.4 771.2 213.4 772.6 213.2 773.9 213.2 775.3 213.1 776.6 213.1 778 213.2 780.6 213.2 782 213.1 783.3 213.1 784.7 213.2 786 213.1 787.4 213.2 788.7 213.1 790 213.3 791.4 213.4 792.7 213.3 794.1 213.3 795.4 213.4 796.8 213.4 798.1 213.5 799.4 213.4 800.8 213.3 802.1 213.2 804.8 213.2 806.2 213.3 807.5 213.3 808.8 213.5 810.2 213.5 811.5 213.6 812.9 213.4 814.2 213.4 815.6 213.5 819.6 213.5 820.9 213.4 822.3 213.5 823.6 213.6 825 213.3 826.3 213.2 827.6 213.3 830.3 213.3 831.7 213.2 833 213.3 834.4 213.4 835.7 213.5 837 213.5 838.4 213.6 839.7 213.6 841.1 213.7 842.4 213.6 843.8 213.7 847.8 213.7 849.1 213.6 850.5 213.7 851.8 213.8 853.2 213.6 854.5 213.8 855.8 213.7 857.2 213.7 858.5 213.9 859.9 213.8 861.2 213.8 862.6 214 863.9 214.1 865.2 214.1 866.6 214.2 867.9 214.2 869.3 214 870.6 214.1 873.3 214.1 874.6 214 876 214.2 877.3 214.1 878.7 214.2 880 214.3 881.4 214.4 882.7 214.5 884 214.6 885.4 214.3 886.7 214.4 888.1 214.4 889.4 214.2 890.8 214.2 892.1 214.4 893.4 214.5 897.5 214.5 898.8 214.6 900.2 214.5 901.5 214.6 902.8 214.7 904.2 214.5 905.5 214.7 906.9 214.6 908.2 214.6 909.6 214.8 910.9 214.9 912.2 214.8 913.6 214.9 914.9 215 916.3 214.8 917.6 214.8 919 214.9 920.3 215 921.6 214.9 924.3 214.9 925.7 214.8 927 214.7 928.4 214.6 929.7 214.7 931 214.9 932.4 214.7 937.8 214.7 939.1 214.9 940.4 215 941.8 215.1 943.1 215 944.5 215.1 945.8 215.2 947.2 215.3 948.5 215.3 949.8 215.2 953.9 215.2 955.2 215.3 956.6 215.5 957.9 215.4 959.2 215.4 960.6 215.3 961.9 215.3 963.3 215.4 964.6 215.4 966 215.5 968.6 215.5 970 215.6 971.3 215.7 972.7 215.7 974 215.8 975.4 215.9 976.7 215.7 978 215.8 979.4 215.8 980.7 215.9 982.1 216 983.4 215.9 984.8 215.9 986.1 216 987.4 215.9 988.8 215.9 990.1 215.8 991.5 216 992.8 216.1 999.5 216.1 1000.9 216 1002.2 215.9 1003.6 216.1 1004.9 216.2 1007.6 216.2 1008.9 216.1 1010.3 215.9 1011.6 216.2 1013 216.3 1014.3 216.3 1015.6 216.4 1017 216.6 1018.3 216.5 1019.7 216.5 1021 216.8 1022.4 216.8 1023.7 216.7 1025 216.7 1026.4 216.6 1027.7 216.7 1030.4 216.7 1031.8 216.6 1033.1 216.9 1034.4 216.8 1035.8 216.7 1037.1 216.6 1038.5 216.9 1039.8 216.9 1041.2 216.8 1042.5 216.8 1043.8 216.9 1045.2 216.8 1046.5 216.7 1047.9 216.7 1049.2 216.8 1050.6 216.8 1051.9 216.7 1053.3 216.6 1054.6 216.9 1055.9 216.9 1057.3 216.8 1058.6 217.1 1060 216.9 1061.3 217 1062.7 217 1064 217.2 1065.3 217.3 1066.7 217.1 1068 217.1 1069.4 217.4 1070.7 217.5 1072.1 217.5 1073.4 217.7 1074.7 217.6 1076.1 217.5 1077.4 217.6 1078.8 217.7 1080.1 217.9 1081.5 218.2 1082.8 218.4 1084.1 218.6 1085.5 218.9 1086.8 218.9 1088.2 219.1 1089.5 219.3 1090.9 219.4 1092.2 219.5 1093.5 219.8 1094.9 220 1096.2 220.4 1097.6 220.6 1098.9 220.7 1100.3 220.9 1101.6 221.2 1102.9 221.4 1104.3 221.9 1105.6 222.3 1107 222.6 1108.3 222.9 1109.7 223.1 1111 223.3 1113.7 223.3 1115 223.5 1116.4 223.9 1117.7 224.3 1119.1 224.6 1120.4 224.8 1121.7 225.1 1123.1 225.4 1124.4 225.6 1125.8 226.1 1127.1 226.4 1128.5 226.9 1129.8 227.2 1131.1 227.8 1132.5 228.3 1133.8 228.7 1135.2 229.2 1136.5 229.3 1137.9 229.6 1139.2 230.1 1140.5 230.6 1141.9 231.2 1143.2 231.7 1144.6 232.1 1145.9 232.7 1147.3 233 1148.6 233.7 1149.9 234 1151.3 234.5 1152.6 235.2 1154 235.7 1155.3 236.3 1156.7 237 1158 237.7 1159.3 238.2 1160.7 238.8 1162 239.7 1163.4 240.2 1164.7 241 1166.1 241.5 1167.4 242 1168.7 242.5 1170.1 242.9 1171.4 243.3 1172.8 243.7 1174.1 244.4 1175.5 244.9 1176.8 245.3 1178.1 245.9 1179.5 246.8 1180.8 247.1 1182.2 247.5 1183.5 247.8 1184.9 248.4 1186.2 249 1187.5 249.6 1188.9 250.4 1190.2 250.9 1191.6 251.4 1192.9 251.8 1194.3 252.3 1195.6 253.1 1196.9 253.8 1198.3 254.5 1199.6 255.7 1201 257 1202.3 257.9 1203.7 258.3 1205 259.3 1206.3 260.2 1207.7 260.5 1209 261 1210.4 261.8 1211.7 262.1 1213.1 262.3 1214.4 262.7 1215.7 263.5 1217.1 264.3 1218.4 265.3 1219.8 266.6 1221.1 267.6 1222.5 268.8 1223.8 270.2 1225.1 271.3 1226.5 273 1227.8 274.4 1229.2 276.3 1230.5 277.2 1231.9 278.3 1233.2 279.4 1234.5 280.9 1235.9 282.8 1237.2 285.5 1238.6 287.3 1239.9 289.5 1241.3 291 1242.6 292.4 1243.9 294.5 1245.3 295.6 1246.6 298 1248 299.6 1249.3 301.9 1250.7 304.5 1252 308 1253.3 312.1 1254.7 314.5 1256 317 1257.4 320 1258.7 322.3 1260.1 324.9 1261.4 327 1262.7 329.9 1264.1 333.1 1265.4 335.5 1266.8 337.3 1268.1 341.3 1269.5 345.7 1270.8 350.5 1272.1 353.6 1273.5 357.2 1274.8 358.2 1276.2 360.4 1277.5 370.7 1278.9 376.8 1280.2 383.7 1281.5 388.5 1282.9 392 1284.2 402.8 1285.6 411.9 1286.9 418 1288.3 421.9 1289.6 429.8 1290.9 436.4 1292.3 451.8 1293.6 460.4 1295 466.3 1296.3 471.2 1297.7 478.7 1299 489.7 1300.3 498.7 1301.7 506.9 1303 517.6 1304.4 529 1305.7 542.1 1307.1 554.1 1308.4 563.2 1309.7 571.3 1311.1 580.1 1312.4 589.7 1313.8 601.6 1315.1 616.2 1316.5 629.9 1317.8 644.9 1319.1 659.5 1320.5 673 1321.8 687.1 1323.2 700.6 1324.5 713.9 1325.9 725.9 1327.2 742.1 1328.6 759 1329.9 777.2 1331.2 798.1 1332.6 825.1 1333.9 845.1 1335.3 859.4 1336.6 876.8 1338 887.8 1339.3 903.3 1340.6 920.3 1342 941.2 1343.3 950.4 1344.7 962.8 1346 976.5 1347.4 988.9 1348.7 1002 1350 1014.3 1351.4 1029.9 1352.7 1051.2 1354.1 1064.7 1355.4 1078 1356.8 1090.4 1358.1 1112.4 1359.4 1131.3 1360.8 1147.9 1362.1 1165.2 1363.5 1176.8 1364.8 1184 1366.2 1189.7 1367.5 1194.6 1368.8 1200.6 1370.2 1209.5 1371.5 1214.1 1372.9 1220.8 1374.2 1225.2 1375.6 1231.3 1376.9 1237 1378.2 1241 1379.6 1245.8 1380.9 1252 1382.3 1258.6 1383.6 1264.3 1385 1271.5 1386.3 1276.1 1387.6 1280.6 1389 1284.9 1390.3 1288.5 1391.7 1292.4 1393 1296.2 1394.4 1300.1 1395.7 1303.9 1397 1307.3 1398.4 1311 1399.7 1314.3 1401.1 1318.3 1402.4 1320.9 1403.8 1322.7 1405.1 1324.7 1406.4 1326.2 1407.8 1327.9 1409.1 1329.5 1410.5 1332 1411.8 1333.6 1413.2 1335.3 1414.5 1336.9 1415.8 1338.1 1417.2 1339.5 1418.5 1340.8 1419.9 1341.9 1421.2 1343 1422.6 1343.8 1423.9 1344.3 1425.2 1344.7 1426.6 1345.1 1427.9 1345.4 1429.3 1345.7 1430.6 1345.9 1432 1346.1 1433.3 1346.3 1434.6 1346.4 1436 1346.5 1437.3 1346.6 1450.8 1346.6 1452.1 1346.5 1453.4 1346.6 1469.6 1346.6 1470.9 1346.5 1472.2 1346.5 1473.6 1346.6 1500.4 1346.6 1501.8 1346.5 1503.1 1346.6 1513.9 1346.6 1515.2 1346.5 1516.6 1346.6 1517.9 1346.5"/>
<path stroke="#e377c2" d="M176.3 690 177.7 689.5 179 680.3 180.3 662 181.7 637.9 183 609.6 184.4 564.4 185.7 507.6 187.1 482.1 188.4 465.6 189.7 453.4 191.1 442.7 192.4 431 193.8 416.9 195.1 404.6 196.5 392 197.8 376.1 199.1 353.7 200.5 299.8 201.8 265.2 203.2 254.9 204.5 249.6 205.9 246.1 207.2 243.6 208.5 241.4 209.9 239.6 211.2 238.1 212.6 236.7 213.9 235.5 215.3 234.6 216.6 233.9 218 232.9 219.3 231.8 220.6 231.1 222 230.2 223.3 229.2 224.7 228.7 226 228.1 227.4 227.2 228.7 226.7 230 225.8 231.4 225.1 232.7 224.1 234.1 223.6 235.4 222.8 236.8 222 238.1 221.4 239.4 220.8 240.8 220.2 242.1 219.8 243.5 219.3 244.8 218.6 246.2 218.1 247.5 217.7 248.8 217.4 250.2 216.9 251.5 216.8 252.9 216.3 254.2 215.9 255.6 215.8 256.9 215.5 258.2 214.8 259.6 214.3 260.9 213.8 262.3 213.3 263.6 212.8 265 212.5 266.3 212.4 267.6 212 269 211.6 270.3 211.3 271.7 211 273 210.7 274.4 210.3 275.7 209.8 277 209.6 278.4 209.5 279.7 209.3 281.1 208.8 282.4 208.7 283.8 208.4 285.1 208.3 286.4 208 287.8 207.8 289.1 207.7 290.5 207.6 291.8 207.6 293.2 207 294.5 206.9 295.8 206.9 297.2 206.7 298.5 206.7 299.9 206.4 301.2 206.2 302.6 205.9 303.9 205.8 305.2 205.6 306.6 205.6 307.9 205.2 309.3 205.1 310.6 204.8 312 204.6 313.3 204.4 314.6 204.3 316 204.2 317.3 204.2 318.7 203.8 321.4 203.8 322.7 203.6 324 203.4 325.4 203.3 326.7 203.2 328.1 203.2 329.4 203 330.8 202.8 332.1 202.7 333.4 202.6 334.8 202.5 336.1 202.6 337.5 202.4 338.8 202.4 340.2 202 341.5 202 342.8 201.9 344.2 202 345.5 201.7 346.9 201.7 348.2 201.6 349.6 201.2 350.9 201.3 352.2 201.3 353.6 201.1 354.9 201.2 356.3 201.1 357.6 201.1 359 201 360.3 200.7 361.6 200.5 363 200.3 364.3 200.3 365.7 200 367 200 368.4 200.1 369.7 199.9 371 199.8 372.4 199.8 373.7 199.6 375.1 199.6 376.4 199.5 377.8 199.4 379.1 199.4 380.4 199.2 381.8 199.2 383.1 199 384.5 199 385.8 198.7 387.2 198.4 388.5 198.1 389.8 198 391.2 197.9 392.5 198 393.9 197.8 395.2 197.6 396.6 197.7 397.9 197.6 399.2 197.6 400.6 197.4 401.9 197.5 403.3 197.3 404.6 197.3 406 197.2 407.3 197.1 410 197.1 411.3 197 412.7 196.8 414 196.9 415.4 196.8 416.7 196.8 418 196.9 419.4 196.8 420.7 196.7 422.1 196.8 423.4 196.8 424.8 196.7 426.1 196.6 427.4 196.7 428.8 196.7 430.1 196.5 431.5 196.5 432.8 196.3 434.2 196.5 435.5 196.3 436.8 196.1 439.5 196.1 440.9 196 442.2 196 443.6 195.9 444.9 196 446.2 196.2 447.6 196.1 448.9 196 450.3 195.9 451.6 196 453 195.8 454.3 195.8 455.6 195.7 457 195.8 458.3 195.6 459.7 195.7 461 195.5 462.4 195.6 463.7 195.5 465 195.4 466.4 195.5 467.7 195.4 469.1 195.3 470.4 195.2 471.8 195.1 473.1 195.1 474.4 195 475.8 195.1 477.1 195.2 478.5 195 479.8 194.8 481.2 194.8 482.5 194.6 483.8 194.8 485.2 194.8 486.5 194.7 487.9 194.8 489.2 194.9 490.6 194.6 491.9 194.4 493.3 194.5 494.6 194.5 495.9 194.4 497.3 194.2 498.6 194.1 501.3 194.1 502.7 193.9 504 193.8 505.3 194 506.7 194.2 508 194.2 509.4 194 510.7 194 512.1 193.9 513.4 193.8 514.7 193.8 516.1 193.7 517.4 193.5 518.8 193.4 520.1 193.5 521.5 193.3 522.8 193.3 524.1 193.4 525.5 193.4 526.8 193.5 528.2 193.5 529.5 193.6 530.9 193.6 532.2 193.4 533.5 193.3 534.9 193.5 536.2 193.4 537.6 193.3 538.9 193.2 541.6 193.2 542.9 193.1 544.3 193.1 545.6 192.8 547 192.9 548.3 192.9 549.7 193.1 551 193 552.3 192.9 555 192.9 556.4 192.6 559.1 192.6 560.4 192.7 561.7 192.6 563.1 192.7 564.4 192.7 565.8 192.6 568.5 192.6 569.8 192.5 571.1 192.4 572.5 192.4 573.8 192.5 575.2 192.5 576.5 192.4 577.9 192.4 579.2 192.3 580.5 192.3 581.9 192.4 583.2 192.4 584.6 192.3 585.9 192.2 587.3 192 588.6 192.2 589.9 192.3 591.3 192.2 592.6 192.1 594 192.2 595.3 192 596.7 192.1 598 192 599.3 192 600.7 192.1 602 192 603.4 191.9 604.7 192.1 606.1 191.9 608.7 191.9 610.1 191.8 611.4 191.7 612.8 191.7 614.1 191.4 615.5 191.8 616.8 191.7 618.1 191.8 619.5 191.9 620.8 191.8 623.5 191.8 624.9 191.9 626.2 191.8 627.5 191.9 628.9 191.8 630.2 191.6 631.6 191.6 632.9 191.7 634.3 191.7 635.6 191.8 636.9 191.9 638.3 191.8 639.6 192 641 191.9 642.3 191.8 643.7 191.8 645 191.7 646.3 191.6 647.7 191.6 649 191.5 650.4 191.3 654.4 191.3 655.7 191.2 657.1 191.3 658.4 191.5 661.1 191.5 662.5 191.4 663.8 191.3 665.1 191.2 667.8 191.2 669.2 191.1 670.5 191.1 671.9 191 673.2 191.1 674.5 190.9 675.9 190.9 677.2 190.8 678.6 190.7 679.9 190.6 681.3 190.7 682.6 190.8 685.3 190.8 686.6 191 688 191 689.3 190.8 690.7 190.9 692 190.8 693.3 191 697.4 191 698.7 190.9 700.1 190.9 701.4 190.6 702.7 190.7 704.1 190.6 705.4 190.6 706.8 190.7 708.1 190.7 709.5 190.6 710.8 190.7 712.1 190.8 713.5 190.7 714.8 190.8 716.2 190.7 717.5 190.7 718.9 190.6 720.2 190.7 721.5 190.6 722.9 190.6 724.2 190.7 725.6 190.7 726.9 190.6 728.3 190.5 729.6 190.5 730.9 190.6 732.3 190.6 733.6 190.4 735 190.2 736.3 190.3 737.7 190.2 739 190.3 740.3 190.3 741.7 190.4 743 190.2 744.4 190.2 745.7 190.4 747.1 190.3 749.7 190.3 751.1 190.4 752.4 190.3 753.8 190.5 755.1 190.5 756.5 190.4 757.8 190.4 759.1 190.3 760.5 190.4 761.8 190.3 763.2 190.2 764.5 190.3 765.9 190.4 767.2 190.4 768.5 190.2 769.9 190.3 771.2 190.2 772.6 190.3 773.9 190.5 778 190.5 779.3 190.3 780.6 190.3 782 190.2 783.3 190.4 784.7 190.3 788.7 190.3 790 190.4 791.4 190.3 792.7 190.3 794.1 190.5 795.4 190.4 796.8 190.5 799.4 190.5 800.8 190.6 802.1 190.6 803.5 190.5 804.8 190.5 806.2 190.6 807.5 190.7 808.8 190.6 810.2 190.6 811.5 190.5 812.9 190.4 814.2 190.3 815.6 190.2 816.9 190.3 818.2 190.3 819.6 190.1 820.9 190.1 822.3 190.3 823.6 190.1 825 190.2 826.3 190.3 827.6 190 830.3 190 831.7 190.1 833 190.2 834.4 190.2 835.7 190.3 837 190.4 838.4 190.4 839.7 190.5 841.1 190.6 842.4 190.6 843.8 190.8 845.1 190.9 846.4 190.8 849.1 190.8 850.5 191 853.2 191 854.5 190.9 855.8 190.9 857.2 191 858.5 191.1 859.9 191.2 861.2 191.2 862.6 191.1 863.9 191.1 865.2 191.2 866.6 191.2 867.9 191.4 869.3 191.3 870.6 191.4 872 191.3 873.3 191.5 876 191.5 877.3 191.4 878.7 191.5 880 191.5 881.4 191.6 882.7 191.7 884 191.8 885.4 192 886.7 192.1 889.4 192.1 890.8 192 892.1 192 893.4 191.9 894.8 191.9 896.1 192 897.5 192.1 898.8 192.2 900.2 192.3 901.5 192.4 902.8 192.4 904.2 192.3 905.5 192.5 906.9 192.7 908.2 192.6 909.6 192.8 910.9 192.9 912.2 193 913.6 192.9 914.9 192.7 916.3 192.7 917.6 192.6 919 192.9 920.3 193.1 921.6 193.1 923 193.2 924.3 193 925.7 193 927 192.9 928.4 193 929.7 193 931 193.2 932.4 193.1 933.7 193.2 935.1 193.3 936.4 193.2 937.8 193.2 939.1 193.1 940.4 193.3 941.8 193.6 944.5 193.6 945.8 193.4 947.2 193.4 948.5 193.6 949.8 193.6 951.2 193.7 952.5 193.8 953.9 193.8 955.2 193.9 956.6 194 957.9 194 959.2 194.1 964.6 194.1 966 194.4 967.3 194.4 968.6 194.3 970 194.1 971.3 194.4 972.7 194.5 974 194.6 975.4 194.5 976.7 194.4 978 194.2 979.4 194.6 980.7 194.7 982.1 194.7 983.4 194.9 984.8 194.8 986.1 194.9 988.8 194.9 990.1 195 991.5 194.9 992.8 195.1 994.2 195.2 995.5 195.4 996.8 195.5 998.2 195.6 999.5 195.5 1000.9 195.9 1004.9 195.9 1006.2 196 1007.6 196.1 1008.9 196.2 1010.3 196.1 1011.6 196.4 1013 196.7 1014.3 196.6 1015.6 196.8 1017 196.9 1018.3 197.1 1019.7 197.3 1021 197.2 1022.4 197.4 1023.7 197.4 1025 197.8 1026.4 197.7 1027.7 197.8 1029.1 198.1 1030.4 198.2 1031.8 198.3 1033.1 198.5 1034.4 198.7 1035.8 198.9 1037.1 198.9 1038.5 198.8 1039.8 198.9 1041.2 199 1042.5 199.1 1043.8 199 1045.2 199.4 1046.5 199.5 1047.9 199.7 1049.2 199.8 1050.6 200 1051.9 200.3 1053.3 200.6 1054.6 200.7 1055.9 201 1057.3 201.1 1058.6 201.3 1060 201.3 1061.3 201.5 1062.7 201.5 1064 201.6 1065.3 201.6 1066.7 201.9 1068 202.2 1069.4 202.3 1070.7 202.5 1072.1 202.6 1073.4 202.7 1074.7 203 1076.1 203.1 1077.4 203.4 1078.8 203.6 1080.1 203.7 1081.5 203.8 1082.8 204.2 1084.1 204.5 1085.5 204.7 1086.8 205 1088.2 205 1089.5 205.7 1090.9 205.9 1092.2 206.4 1093.5 206.7 1094.9 207 1096.2 207.4 1097.6 207.7 1098.9 208.4 1100.3 208.5 1101.6 209 1102.9 209.2 1104.3 209.7 1105.6 210.4 1107 210.7 1108.3 211.1 1109.7 211.8 1111 212.3 1112.3 212.9 1113.7 213.5 1115 213.9 1116.4 214.4 1117.7 215.2 1119.1 216 1120.4 216.4 1121.7 217.2 1123.1 217.8 1124.4 218.5 1125.8 219.1 1127.1 219.6 1128.5 220.3 1129.8 220.9 1131.1 221.6 1132.5 222.8 1133.8 223.2 1135.2 224.1 1136.5 225.2 1137.9 226.2 1139.2 227.3 1140.5 228.5 1141.9 230.2 1143.2 231.2 1144.6 232.5 1145.9 234.1 1147.3 235.8 1148.6 236.6 1149.9 238.1 1151.3 239.7 1152.6 241.9 1154 243.1 1155.3 244.2 1156.7 245.7 1158 247.4 1159.3 249.2 1160.7 250.5 1162 252.2 1163.4 253.4 1164.7 255.2 1166.1 256.3 1167.4 257.7 1168.7 258.5 1170.1 259.8 1171.4 261.1 1172.8 262.4 1174.1 264.2 1175.5 265.3 1176.8 266.5 1178.1 268.1 1179.5 268.8 1180.8 270 1182.2 271.2 1183.5 273 1184.9 275.4 1186.2 278.1 1187.5 281.2 1188.9 283.3 1190.2 285.8 1191.6 288.3 1192.9 292.5 1194.3 296.8 1195.6 301.2 1196.9 304.8 1198.3 308.5 1199.6 313.2 1201 315.4 1202.3 320.3 1203.7 327 1205 330.4 1206.3 333.4 1207.7 337.3 1209 341.2 1210.4 345 1211.7 349.4 1213.1 351.9 1214.4 355.3 1215.7 358 1217.1 362.8 1218.4 366.3 1219.8 370.5 1221.1 376 1222.5 380.4 1223.8 385.5 1225.1 392.2 1226.5 394.7 1227.8 400.8 1229.2 403.5 1230.5 407.7 1231.9 413.1 1233.2 420.1 1234.5 424.2 1235.9 428.6 1237.2 433.9 1238.6 438.8 1239.9 445.1 1241.3 449.7 1242.6 454.7 1243.9 460.6 1245.3 468.1 1246.6 475.9 1248 482.3 1249.3 490.2 1250.7 505.3 1252 515.4 1253.3 523.5 1254.7 530.5 1256 538 1257.4 545.8 1258.7 556.7 1260.1 564.7 1261.4 575.2 1262.7 581.2 1264.1 590.7 1265.4 601.6 1266.8 610.7 1268.1 621.4 1269.5 632.4 1270.8 645.5 1272.1 659 1273.5 672.3 1274.8 681.9 1276.2 702 1277.5 713 1278.9 722.5 1280.2 734.6 1281.5 748.2 1282.9 760.9 1284.2 770.9 1285.6 784.7 1286.9 793 1288.3 807 1289.6 822.4 1290.9 835.3 1292.3 848.5 1293.6 856.9 1295 868.9 1296.3 881.9 1297.7 896.2 1299 907.7 1300.3 916.1 1301.7 921 1303 929.5 1304.4 937.2 1305.7 946.1 1307.1 955.6 1308.4 967.8 1309.7 976.9 1311.1 988.7 1312.4 997 1313.8 1008.5 1315.1 1019.4 1316.5 1030.9 1317.8 1041 1319.1 1048.4 1320.5 1054.9 1321.8 1064.6 1323.2 1071.6 1324.5 1080.6 1325.9 1091.1 1327.2 1100.4 1328.6 1110.2 1329.9 1113.5 1331.2 1122.4 1332.6 1133.2 1333.9 1139.2 1335.3 1149.6 1336.6 1161.4 1338 1170.2 1339.3 1181.2 1340.6 1186.3 1342 1192.6 1343.3 1200.2 1344.7 1203.9 1346 1210.4 1347.4 1214.3 1348.7 1219.7 1350 1226.4 1351.4 1232.4 1352.7 1234.7 1354.1 1238.9 1355.4 1243.4 1356.8 1248.9 1358.1 1252.7 1359.4 1254.9 1360.8 1257.8 1362.1 1259.9 1363.5 1261.6 1364.8 1262.9 1366.2 1264.8 1367.5 1266.7 1368.8 1268.1 1370.2 1270.4 1371.5 1271.7 1372.9 1274.9 1374.2 1277 1375.6 1278.6 1376.9 1280.5 1378.2 1283.3 1379.6 1285.8 1380.9 1288.5 1382.3 1290.6 1383.6 1292.5 1385 1294.7 1386.3 1297.6 1387.6 1299.8 1389 1301.7 1390.3 1303.5 1391.7 1306.1 1393 1307.8 1394.4 1309.2 1395.7 1311.6 1397 1313.4 1398.4 1314.2 1399.7 1315.5 1401.1 1317.7 1402.4 1318.8 1403.8 1320.5 1405.1 1323.6 1406.4 1326.1 1407.8 1328.2 1409.1 1329.8 1410.5 1331.5 1411.8 1333.1 1413.2 1334.7 1414.5 1337.2 1415.8 1338.7 1417.2 1339.9 1418.5 1341.2 1419.9 1341.8 1421.2 1342.8 1422.6 1343.6 1423.9 1344.3 1425.2 1345 1426.6 1345.6 1427.9 1346.2 1429.3 1346.3 1438.7 1346.3 1440 1346.2 1465.5 1346.2 1466.9 1346.3 1487 1346.3 1488.4 1346.2 1508.5 1346.2 1509.8 1346.3 1517.9 1346.3"/>
<path stroke="#7f7f7f" d="M176.3 630 177.7 618.9 179 581.1 180.3 554.3 181.7 535.7 183 520.8 184.4 506.8 185.7 491.8 187.1 476.5 188.4 461.5 189.7 447.1 191.1 433.5 192.4 421 193.8 408.6 195.1 396.5 196.5 385.4 197.8 376.2 199.1 369.4 200.5 364.6 201.8 360.9 203.2 357.6 204.5 354.3 205.9 350.4 207.2 345.5 208.5 339.9 209.9 334 211.2 328.4 212.6 323.6 213.9 319.5 215.3 314.8 216.6 311 218 308.7 219.3 305.4 220.6 302.2 222 299.8 223.3 298.1 224.7 296.9 226 295.4 227.4 294.6 228.7 293 230 291.2 231.4 290 232.7 288.8 234.1 287.8 235.4 286.1 236.8 285 238.1 283.4 239.4 282.4 240.8 281.2 242.1 279.6 243.5 278.4 244.8 277.2 246.2 276.2 247.5 275.5 248.8 274.8 250.2 274.1 251.5 273.4 252.9 272.7 254.2 272.2 255.6 271.7 256.9 271.1 258.2 270.3 259.6 269.7 260.9 269.1 262.3 268.4 263.6 267.7 265 267.2 266.3 266.7 267.6 266.2 269 265.6 270.3 265.1 271.7 264.6 273 263.7 274.4 263.1 275.7 262.7 277 262 278.4 261.2 279.7 260.5 281.1 260 282.4 259.3 283.8 259.2 285.1 258.6 286.4 258.2 287.8 257.6 289.1 257.3 290.5 256.6 291.8 256.1 293.2 255.4 294.5 255.2 295.8 254.7 297.2 254.3 298.5 254 299.9 253.5 301.2 253.2 302.6 252.8 303.9 252.5 305.2 252 306.6 251.7 307.9 251.4 309.3 251 310.6 250.7 312 250.5 313.3 250.1 314.6 249.8 316 249.8 317.3 249.6 318.7 249.5 320 249.2 321.4 248.7 322.7 248.3 324 248.3 325.4 248.1 326.7 247.7 328.1 247.3 329.4 247.3 330.8 247 332.1 246.8 333.4 246.7 334.8 246.3 336.1 246 337.5 245.6 338.8 245.5 340.2 245.3 341.5 245 342.8 244.7 344.2 244.2 345.5 243.9 346.9 243.6 348.2 243.4 349.6 243 350.9 242.9 352.2 242.6 353.6 242.5 354.9 242.3 356.3 241.9 357.6 241.6 359 241.4 360.3 241.1 361.6 240.9 363 240.4 364.3 240.4 365.7 240 367 240 368.4 239.8 369.7 239.6 371 239.3 372.4 239 373.7 238.7 375.1 238.5 376.4 238.4 377.8 238.3 379.1 238.2 380.4 238.1 381.8 237.9 383.1 237.8 384.5 237.7 385.8 237.4 387.2 237.2 388.5 237.2 389.8 237.1 391.2 236.9 392.5 236.9 393.9 236.6 395.2 236.5 396.6 236.2 397.9 236.1 399.2 235.9 400.6 235.5 401.9 235.3 403.3 235.3 404.6 235.2 406 235.1 407.3 234.7 408.6 234.6 410 234.6 411.3 234.3 412.7 234 414 233.9 415.4 233.8 416.7 233.7 418 233.6 419.4 233.4 420.7 233.2 422.1 232.9 423.4 232.9 424.8 232.6 426.1 232.4 427.4 232.1 428.8 232 430.1 232 431.5 231.9 432.8 231.8 434.2 231.7 435.5 231.5 436.8 231.2 438.2 230.9 439.5 230.8 440.9 231 442.2 230.9 443.6 230.7 444.9 230.6 446.2 230.5 447.6 230.4 448.9 230.2 450.3 229.8 451.6 229.9 453 229.8 454.3 229.6 455.6 229.5 457 229.1 458.3 229.1 459.7 229 461 229 462.4 229.1 463.7 228.7 465 228.7 466.4 228.4 467.7 228.5 469.1 228.4 471.8 228.4 473.1 228.5 474.4 228.5 475.8 228.4 477.1 228.5 478.5 228.4 481.2 228.4 482.5 228.3 483.8 228.2 485.2 228.2 486.5 228.3 487.9 228.4 489.2 228.5 490.6 228.2 491.9 228.1 493.3 227.9 494.6 227.8 495.9 227.7 497.3 228 498.6 228 500 227.9 501.3 227.8 502.7 227.8 504 227.7 505.3 227.7 506.7 227.8 512.1 227.8 513.4 227.5 514.7 227.7 517.4 227.7 518.8 227.8 520.1 227.6 521.5 227.5 522.8 227.5 524.1 227.7 525.5 227.8 526.8 227.6 528.2 227.8 529.5 227.6 530.9 227.6 532.2 227.5 533.5 227.6 534.9 227.6 536.2 227.7 537.6 227.5 538.9 227.6 540.3 227.5 541.6 227.4 542.9 227.4 544.3 227.3 545.6 227.2 547 227.3 548.3 227.2 549.7 227.4 551 227.3 552.3 227.2 553.7 227.1 555 227 556.4 226.9 557.7 227 560.4 227 561.7 227.1 563.1 227 565.8 227 567.1 226.8 571.1 226.8 572.5 227 573.8 226.9 575.2 226.6 576.5 226.5 577.9 226.4 579.2 226.2 580.5 226.4 581.9 226.5 583.2 226.3 584.6 226.2 585.9 226.2 587.3 226 588.6 225.9 589.9 226 591.3 226 592.6 226.1 594 225.9 595.3 225.8 596.7 225.7 598 225.6 599.3 225.9 600.7 225.6 602 225.4 603.4 225.4 604.7 225.3 606.1 225.4 607.4 225.3 611.4 225.3 612.8 225.2 614.1 225 615.5 225.1 616.8 225 618.1 224.9 619.5 224.9 620.8 224.8 622.2 224.8 623.5 224.7 624.9 224.6 626.2 224.4 627.5 224.4 628.9 224.2 630.2 224.4 631.6 224.5 632.9 224.4 634.3 224.3 635.6 224.2 636.9 224 638.3 224 639.6 223.9 641 224 642.3 223.8 643.7 223.7 646.3 223.7 647.7 223.5 649 223.4 650.4 223.5 651.7 223.5 653.1 223.1 654.4 223.2 655.7 223.1 657.1 223.3 658.4 223.2 659.8 223 661.1 222.9 662.5 222.8 663.8 222.6 666.5 222.6 667.8 222.5 669.2 222.6 671.9 222.6 673.2 222.7 674.5 222.5 675.9 222.5 677.2 222.6 678.6 222.5 679.9 222.4 683.9 222.4 685.3 222.1 686.6 222.3 688 222.2 689.3 222.2 690.7 221.9 692 221.8 693.3 221.7 694.7 221.6 696 221.7 697.4 221.8 698.7 221.8 700.1 221.6 702.7 221.6 704.1 221.7 705.4 221.4 706.8 221.6 708.1 221.7 709.5 221.6 710.8 221.7 712.1 221.6 714.8 221.6 716.2 221.5 717.5 221.5 718.9 221.6 720.2 221.7 721.5 221.7 722.9 221.5 724.2 221.6 725.6 221.5 728.3 221.5 729.6 221.4 730.9 221.5 732.3 221.3 733.6 221.3 735 221.2 736.3 221.3 737.7 221.3 739 221.4 740.3 221.2 741.7 221 743 221 744.4 220.9 745.7 220.9 747.1 220.8 748.4 220.8 749.7 220.9 753.8 220.9 755.1 220.8 759.1 220.8 760.5 221 761.8 221.1 763.2 221 764.5 221 765.9 220.9 767.2 220.9 768.5 221 769.9 220.7 771.2 220.9 772.6 220.8 773.9 220.8 775.3 220.7 776.6 220.8 779.3 220.8 780.6 220.7 782 220.7 783.3 220.9 784.7 220.7 786 220.8 787.4 220.7 788.7 220.8 790 220.7 791.4 220.9 794.1 220.9 795.4 221.1 796.8 220.9 798.1 220.8 799.4 220.9 800.8 220.9 802.1 221 803.5 220.9 804.8 220.9 806.2 221 807.5 221.1 808.8 221 810.2 220.9 811.5 220.8 812.9 220.9 814.2 220.8 815.6 220.9 816.9 220.9 818.2 220.8 819.6 220.9 820.9 220.9 822.3 221 823.6 221 825 220.9 826.3 220.9 827.6 221.1 829 221 830.3 220.8 831.7 221 833 220.9 835.7 220.9 837 221.1 838.4 220.9 839.7 221 843.8 221 845.1 221.2 846.4 221.1 847.8 221.2 849.1 220.9 850.5 221 851.8 221.1 853.2 220.9 854.5 220.8 855.8 220.8 857.2 220.9 858.5 221 859.9 221 861.2 221.1 862.6 221 863.9 221.2 865.2 221.2 866.6 221.3 867.9 221.2 869.3 221.3 870.6 221.4 872 221.3 873.3 221.4 874.6 221.3 876 221.2 877.3 221.2 878.7 221.3 880 221.3 881.4 221.2 882.7 221.2 884 221.3 886.7 221.3 888.1 221.4 889.4 221 890.8 221.1 892.1 221.2 896.1 221.2 897.5 221.1 898.8 221.1 900.2 221 901.5 221.1 902.8 221.1 904.2 221.2 905.5 221.3 906.9 221.4 908.2 221.3 909.6 221.1 910.9 221.2 912.2 221.3 913.6 221.4 917.6 221.4 919 221.3 920.3 221.4 921.6 221.2 923 221.5 924.3 221.6 925.7 221.5 927 221.6 928.4 221.5 929.7 221.7 931 221.8 932.4 221.9 933.7 221.8 935.1 221.8 936.4 221.7 937.8 221.9 940.4 221.9 941.8 221.8 943.1 221.9 945.8 221.9 947.2 221.8 948.5 221.7 949.8 221.7 951.2 221.5 952.5 221.6 956.6 221.6 957.9 221.7 959.2 221.7 960.6 221.8 961.9 221.7 963.3 221.7 964.6 221.9 966 221.9 967.3 221.8 968.6 221.8 970 222 971.3 222 972.7 221.8 974 221.8 975.4 221.9 976.7 222 978 222 979.4 222.1 980.7 222.2 982.1 222.2 983.4 222.3 986.1 222.3 987.4 222.4 988.8 222.4 990.1 222.5 991.5 222.3 992.8 222.6 998.2 222.6 999.5 222.7 1000.9 222.7 1002.2 222.8 1003.6 223 1004.9 222.9 1006.2 222.9 1007.6 223.1 1008.9 223.2 1010.3 223 1011.6 223.1 1013 223.4 1014.3 223.6 1015.6 223.7 1017 223.8 1018.3 223.9 1019.7 224.1 1021 224.2 1022.4 224.4 1023.7 224.5 1025 224.6 1026.4 224.7 1027.7 225 1029.1 225 1030.4 225.1 1031.8 225.3 1033.1 225.4 1034.4 225.6 1035.8 225.6 1037.1 225.8 1038.5 226 1039.8 226 1041.2 226.4 1042.5 226.1 1043.8 226.3 1045.2 226.4 1046.5 226.7 1047.9 227 1049.2 227 1050.6 227.1 1051.9 227.4 1053.3 227.3 1054.6 227.3 1055.9 227.5 1057.3 227.7 1058.6 227.8 1060 228.1 1061.3 228.2 1062.7 228.3 1064 228.4 1065.3 228.7 1066.7 229 1068 229 1069.4 229.5 1070.7 229.9 1072.1 230.1 1073.4 230.4 1074.7 230.3 1076.1 230.6 1077.4 230.7 1078.8 231 1080.1 231.2 1081.5 231.6 1082.8 231.8 1084.1 232 1085.5 232.6 1086.8 232.8 1088.2 232.8 1089.5 233 1090.9 233.4 1092.2 233.6 1093.5 234 1094.9 234.2 1096.2 234.2 1097.6 234.5 1098.9 234.9 1100.3 235.3 1101.6 235.7 1102.9 236.1 1104.3 236.3 1105.6 236.5 1107 236.8 1108.3 237.1 1109.7 237.3 1111 237.5 1112.3 237.8 1113.7 238.2 1115 238.4 1116.4 238.4 1117.7 238.7 1119.1 238.8 1120.4 239.1 1121.7 239.4 1123.1 239.5 1124.4 239.7 1125.8 240.1 1127.1 240.5 1128.5 240.9 1129.8 241 1131.1 241.1 1132.5 241.3 1133.8 241.4 1135.2 241.4 1136.5 241.8 1137.9 241.8 1139.2 242.1 1140.5 242 1141.9 242.3 1143.2 242.6 1144.6 242.9 1145.9 242.8 1147.3 243.2 1148.6 243.6 1149.9 244 1151.3 244.6 1152.6 245.5 1154 246.3 1155.3 247.3 1156.7 248.4 1158 249.4 1159.3 250.5 1160.7 252 1162 252.7 1163.4 253.3 1164.7 254.8 1166.1 255.9 1167.4 256.7 1168.7 257.8 1170.1 259.3 1171.4 260.1 1172.8 261.1 1174.1 262.6 1175.5 264.1 1176.8 265.2 1178.1 266.1 1179.5 267.5 1180.8 269 1182.2 270.4 1183.5 271.1 1184.9 273.4 1186.2 274.7 1187.5 276.5 1188.9 277.6 1190.2 279.3 1191.6 280.9 1192.9 282.9 1194.3 285 1195.6 286.8 1196.9 289.2 1198.3 291.7 1199.6 293.1 1201 295.3 1202.3 298.2 1203.7 301.6 1205 303.9 1206.3 305.1 1207.7 308 1209 310.5 1210.4 313.7 1211.7 316.2 1213.1 318.4 1214.4 320.4 1215.7 325 1217.1 328.4 1218.4 330.7 1219.8 334.8 1221.1 338.7 1222.5 340.1 1223.8 342.9 1225.1 345.7 1226.5 347.8 1227.8 351.3 1229.2 353.7 1230.5 355.9 1231.9 358.8 1233.2 363.4 1234.5 366.8 1235.9 370.3 1237.2 374.1 1238.6 376.4 1239.9 381.8 1241.3 384.9 1242.6 388.8 1243.9 392.3 1245.3 397.3 1246.6 402.4 1248 405.8 1249.3 410.2 1250.7 415.9 1252 419.5 1253.3 424.2 1254.7 434.9 1256 445.8 1257.4 455.4 1258.7 460.6 1260.1 465 1261.4 474.1 1262.7 482.4 1264.1 485.8 1265.4 494.8 1266.8 502.3 1268.1 508.9 1269.5 517 1270.8 526.1 1272.1 535.4 1273.5 545.5 1274.8 554.9 1276.2 563.8 1277.5 576.2 1278.9 579.9 1280.2 588.8 1281.5 598.4 1282.9 611.5 1284.2 623.3 1285.6 628.4 1286.9 643.1 1288.3 652.3 1289.6 667.5 1290.9 676.6 1292.3 692.6 1293.6 713.6 1295 742.9 1296.3 771.5 1297.7 789.8 1299 803 1300.3 815.2 1301.7 830.2 1303 843.1 1304.4 860 1305.7 877.7 1307.1 896 1308.4 915.3 1309.7 936.6 1311.1 953.7 1312.4 967.2 1313.8 982.5 1315.1 999 1316.5 1013.8 1317.8 1025.7 1319.1 1043.3 1320.5 1057.2 1321.8 1071.7 1323.2 1087.3 1324.5 1096.8 1325.9 1107.9 1327.2 1114.6 1328.6 1127.8 1329.9 1143.2 1331.2 1154.7 1332.6 1165.8 1333.9 1178.3 1335.3 1186.6 1336.6 1188.3 1338 1201.6 1339.3 1214.7 1340.6 1226.8 1342 1234.6 1343.3 1236.8 1344.7 1238 1346 1240.3 1347.4 1243.4 1348.7 1251.1 1350 1261 1351.4 1267.2 1352.7 1272.6 1354.1 1281.7 1355.4 1286.7 1356.8 1294.7 1358.1 1300.4 1359.4 1305.5 1360.8 1309.5 1362.1 1313.8 1363.5 1316.3 1364.8 1319.3 1366.2 1321 1367.5 1323.7 1368.8 1325.5 1370.2 1327.1 1371.5 1328.8 1372.9 1330.8 1374.2 1332.7 1375.6 1334.1 1376.9 1336.2 1378.2 1338.2 1379.6 1339.6 1380.9 1340.6 1382.3 1341.6 1383.6 1342.2 1385 1342.9 1386.3 1343.2 1387.6 1343.8 1389 1344.1 1390.3 1344.6 1391.7 1344.9 1393 1345.3 1394.4 1345.5 1395.7 1345.7 1397 1345.9 1398.4 1346.1 1399.7 1346.3 1401.1 1346.4 1402.4 1346.5 1403.8 1346.6 1405.1 1346.7 1406.4 1346.8 1407.8 1346.9 1409.1 1346.9 1410.5 1347 1411.8 1347.1 1414.5 1347.1 1415.8 1347.2 1477.6 1347.2 1479 1347.3 1480.3 1347.3 1481.6 1347.2 1517.9 1347.2"/>
<path stroke="#bcbd22" d="M176.3 723 177.7 721.3 179 691.8 180.3 600.1 181.7 545.3 183 515 184.4 492.3 185.7 472.6 187.1 455.4 188.4 440.4 189.7 427.3 191.1 415.7 192.4 405.2 193.8 395.7 195.1 387 196.5 378.9 197.8 371.1 199.1 363.6 200.5 356.8 201.8 350.7 203.2 345.4 204.5 340.6 205.9 336.2 207.2 331.9 208.5 327.8 209.9 323.7 211.2 319.4 212.6 315.1 213.9 310.9 215.3 308.2 216.6 305.1 218 301.8 219.3 298.2 220.6 296.2 222 292.5 223.3 289.6 224.7 287.6 226 286.7 227.4 285.3 228.7 282.7 230 280.5 231.4 278.7 232.7 276.7 234.1 274.9 235.4 273.2 236.8 270.7 238.1 269.6 239.4 268.1 240.8 266.1 242.1 263.4 243.5 262 244.8 260.1 246.2 259.4 247.5 258 248.8 256.9 250.2 255.4 251.5 254.3 252.9 253.2 254.2 251.8 255.6 250.4 256.9 249.2 258.2 247.9 259.6 247.1 260.9 245.3 262.3 244 263.6 243.1 265 242.5 266.3 241.7 267.6 240.4 269 239.7 270.3 239.1 271.7 238.4 273 237.6 274.4 236.9 275.7 235.8 277 235.1 278.4 234.1 279.7 233.1 281.1 231.8 282.4 231.1 283.8 230.2 285.1 229.5 286.4 228.9 287.8 228.5 289.1 228.3 290.5 227.7 291.8 227.2 293.2 226.5 294.5 226 295.8 225 297.2 224.4 298.5 223.8 299.9 223 301.2 222.1 302.6 221.5 303.9 220.8 305.2 220.3 306.6 219.8 307.9 219.3 309.3 218.7 310.6 218.5 312 218 313.3 217.4 314.6 217 316 216.9 317.3 216.5 318.7 216.2 320 215.8 321.4 215.5 322.7 215 324 214.6 325.4 214.4 326.7 214 328.1 213.6 329.4 213.3 330.8 213 332.1 212.8 333.4 212.3 334.8 212.1 336.1 211.8 337.5 211.1 338.8 210.7 340.2 210.4 341.5 210.2 342.8 209.8 344.2 209.7 345.5 209.2 346.9 208.8 348.2 208.7 349.6 208.2 350.9 207.9 352.2 207.6 353.6 207.4 354.9 206.9 356.3 206.7 357.6 206.6 359 206.4 360.3 206 361.6 205.7 363 205.6 364.3 205.5 365.7 205.1 367 204.7 368.4 204.4 371 204.4 372.4 204.1 373.7 203.5 375.1 203.1 376.4 202.8 377.8 202.6 379.1 202.3 380.4 201.9 381.8 201.9 383.1 201.7 384.5 201.3 385.8 201.3 387.2 201 388.5 200.9 389.8 200.5 391.2 200.3 392.5 200.1 393.9 199.7 395.2 199.5 396.6 199.5 397.9 199.6 399.2 199.5 400.6 199.1 401.9 198.9 403.3 198.5 404.6 198.4 406 198.2 407.3 198.1 408.6 198 411.3 198 412.7 197.8 414 197.6 415.4 197.3 416.7 197.2 418 197.1 419.4 197.1 420.7 196.9 422.1 196.7 423.4 196.5 424.8 196.3 426.1 196.3 427.4 196.1 431.5 196.1 432.8 196.2 434.2 195.8 435.5 195.7 436.8 195.4 438.2 195.1 439.5 195.1 440.9 194.8 442.2 194.8 443.6 194.6 444.9 194.6 446.2 194.5 447.6 194.4 448.9 194.2 450.3 194 451.6 194 453 193.8 454.3 193.7 455.6 193.5 457 193.2 458.3 193.2 459.7 193.3 461 193.2 462.4 193 463.7 192.9 465 192.8 466.4 192.8 467.7 192.6 469.1 192.3 470.4 192.1 471.8 191.9 473.1 191.6 474.4 191.3 475.8 191.4 477.1 191.3 483.8 191.3 485.2 191.1 486.5 190.9 487.9 190.7 489.2 190.6 490.6 190.5 491.9 190.5 493.3 190.3 494.6 190.1 495.9 189.9 497.3 189.9 498.6 189.8 500 190 501.3 189.7 502.7 189.5 504 189.3 505.3 189.1 506.7 188.9 508 188.6 509.4 188.4 510.7 188.5 512.1 188.3 513.4 188.1 514.7 188 516.1 187.9 517.4 187.7 518.8 187.7 520.1 187.5 521.5 187.1 522.8 187.1 524.1 187 525.5 186.8 526.8 186.8 528.2 186.6 529.5 186.5 530.9 186.4 532.2 186.4 533.5 186.3 534.9 186 536.2 185.9 537.6 185.9 538.9 185.7 540.3 185.5 541.6 185.3 542.9 185.2 544.3 185.2 545.6 185.1 547 185.1 548.3 184.9 549.7 184.8 551 184.7 552.3 184.6 553.7 184.5 555 184.3 557.7 184.3 559.1 184.2 560.4 184.3 561.7 184 563.1 183.9 564.4 183.9 565.8 183.8 567.1 183.6 568.5 183.6 569.8 183.3 571.1 183.4 572.5 183.3 573.8 183.1 575.2 183.3 576.5 183.1 577.9 183.2 580.5 183.2 581.9 183 583.2 182.9 585.9 182.9 587.3 182.8 588.6 182.8 589.9 182.6 595.3 182.6 596.7 182.5 598 182.7 599.3 182.6 600.7 182.6 602 182.4 603.4 182.5 604.7 182.5 606.1 182.2 607.4 182.3 608.7 182.2 610.1 182.2 611.4 182.1 612.8 182.1 614.1 181.8 615.5 181.6 616.8 181.6 618.1 181.7 619.5 181.5 620.8 181.6 622.2 181.6 623.5 181.7 624.9 181.5 627.5 181.5 628.9 181.4 630.2 181.3 631.6 181.2 632.9 181 634.3 180.8 635.6 181 636.9 180.9 638.3 180.8 639.6 181 641 180.8 643.7 180.8 645 180.7 646.3 180.9 647.7 180.9 649 180.8 650.4 180.7 651.7 180.5 653.1 180.4 654.4 180.4 655.7 180.5 657.1 180.3 658.4 180.4 659.8 180.4 661.1 180 662.5 180.1 663.8 180.2 665.1 180.3 670.5 180.3 671.9 180.2 673.2 180.3 675.9 180.3 677.2 180.2 679.9 180.2 681.3 179.9 682.6 180.1 683.9 180 685.3 180.2 686.6 180.3 688 180.2 689.3 180.2 690.7 180 692 180 693.3 180.1 694.7 180.1 696 180 697.4 180.1 698.7 180 700.1 179.9 701.4 180 702.7 179.8 704.1 180.1 705.4 180 706.8 179.8 708.1 179.9 709.5 180 710.8 180.1 713.5 180.1 714.8 179.9 716.2 180 717.5 179.9 720.2 179.9 721.5 179.8 722.9 180.1 725.6 180.1 726.9 180.2 728.3 180.3 729.6 180.2 730.9 180.2 732.3 180 733.6 180.2 735 180.1 736.3 180 737.7 179.9 739 179.8 740.3 179.8 741.7 179.7 743 179.7 744.4 179.6 745.7 179.6 747.1 179.7 748.4 179.9 749.7 179.8 751.1 179.9 753.8 179.9 755.1 180.1 756.5 180.2 757.8 180.1 759.1 180.2 760.5 180.1 761.8 180.2 763.2 180.2 764.5 180 765.9 180.2 767.2 180 771.2 180 772.6 180.1 775.3 180.1 776.6 180 778 180 779.3 179.9 782 179.9 783.3 180.2 784.7 180.3 786 180.3 787.4 180.2 788.7 180.3 792.7 180.3 794.1 180.4 795.4 180.2 796.8 180.2 798.1 180.4 799.4 180.5 800.8 180.5 802.1 180.4 803.5 180.5 804.8 180.5 806.2 180.4 807.5 180.4 808.8 180.3 810.2 180.5 811.5 180.4 812.9 180.3 814.2 180.3 815.6 180.2 816.9 180.3 818.2 180.2 819.6 180.2 820.9 180.5 825 180.5 826.3 180.4 827.6 180.4 829 180.5 830.3 180.5 831.7 180.6 834.4 180.6 835.7 180.4 837 180.6 838.4 180.6 839.7 180.5 841.1 180.5 842.4 180.4 843.8 180.4 845.1 180.5 846.4 180.5 847.8 180.4 849.1 180.6 850.5 180.8 854.5 180.8 855.8 180.6 858.5 180.6 859.9 180.5 861.2 180.4 862.6 180.4 863.9 180.5 865.2 180.6 866.6 180.6 867.9 180.3 869.3 180.4 870.6 180.6 872 180.5 876 180.5 877.3 180.6 878.7 180.6 880 180.7 881.4 180.8 882.7 180.7 884 180.6 886.7 180.6 888.1 180.7 889.4 180.8 892.1 180.8 893.4 180.9 894.8 180.9 896.1 180.8 897.5 180.6 898.8 180.5 900.2 180.5 901.5 180.7 902.8 180.6 904.2 180.7 906.9 180.7 908.2 180.6 909.6 180.6 910.9 180.7 912.2 180.7 913.6 180.8 914.9 180.9 916.3 180.8 917.6 180.7 919 180.8 920.3 180.9 921.6 181.2 923 181.3 924.3 181.1 925.7 181 927 181.1 928.4 181.4 929.7 181.3 931 181.4 932.4 181.6 933.7 181.6 935.1 181.5 936.4 181.6 937.8 181.6 939.1 181.7 940.4 181.9 941.8 182 943.1 182.2 944.5 182.2 945.8 182 947.2 182 948.5 182.2 949.8 182.3 951.2 182.4 952.5 182.4 953.9 182.5 956.6 182.5 957.9 182.6 959.2 182.6 960.6 182.7 961.9 182.8 963.3 182.7 964.6 182.8 966 182.9 967.3 183 968.6 183 970 183.3 971.3 183.5 972.7 183.7 974 183.6 975.4 183.7 976.7 183.7 978 183.9 979.4 183.9 980.7 184.1 982.1 184 983.4 184.2 984.8 184.2 986.1 184.3 987.4 184.4 988.8 184.5 990.1 184.7 991.5 184.8 992.8 185 994.2 185.2 995.5 185.2 996.8 185.1 998.2 185.2 999.5 185.1 1000.9 185.4 1002.2 185.6 1003.6 185.5 1004.9 185.7 1006.2 185.9 1007.6 186.2 1008.9 186.1 1010.3 186.1 1011.6 185.9 1013 186.2 1014.3 186.3 1015.6 186.7 1017 186.7 1018.3 187 1019.7 187 1021 187.1 1022.4 187.3 1023.7 187.4 1025 187.7 1026.4 187.9 1029.1 187.9 1030.4 188.2 1031.8 188.4 1033.1 188.3 1034.4 188.5 1035.8 188.6 1037.1 188.8 1038.5 189.1 1039.8 189.3 1041.2 189.6 1042.5 190 1043.8 190.1 1045.2 190.4 1046.5 190.5 1047.9 190.6 1049.2 191.1 1050.6 191.2 1051.9 191.4 1053.3 191.6 1054.6 191.8 1055.9 192.2 1057.3 192.3 1058.6 192.6 1060 192.6 1061.3 193 1062.7 193.1 1064 193.4 1065.3 193.6 1066.7 193.7 1068 193.9 1069.4 194.2 1070.7 194.4 1072.1 194.5 1073.4 194.6 1074.7 195 1076.1 195.3 1077.4 195.5 1078.8 195.5 1080.1 196 1081.5 196.2 1082.8 196.6 1084.1 197.2 1085.5 197.9 1086.8 198.1 1088.2 198.7 1089.5 199 1090.9 199.4 1092.2 199.9 1093.5 200.4 1094.9 201.2 1096.2 201.6 1097.6 202 1098.9 203 1100.3 203.4 1101.6 204.1 1102.9 204.8 1104.3 205.3 1105.6 206.1 1107 207.1 1108.3 207.5 1109.7 208.2 1111 208.9 1112.3 209.5 1113.7 210.1 1115 211.1 1116.4 211.9 1117.7 213.1 1119.1 214.4 1120.4 215.6 1121.7 216.7 1123.1 217.9 1124.4 219.7 1125.8 221.5 1127.1 223.2 1128.5 225 1129.8 226.9 1131.1 228.7 1132.5 230.6 1133.8 232.7 1135.2 235.1 1136.5 236.5 1137.9 238.8 1139.2 240.8 1140.5 242.8 1141.9 243.9 1143.2 245.6 1144.6 246.7 1145.9 248.3 1147.3 249.6 1148.6 251.5 1149.9 254.2 1151.3 257.3 1152.6 260.2 1154 265.2 1155.3 268.3 1156.7 269.8 1158 271.8 1159.3 272.8 1160.7 274.8 1162 276.1 1163.4 278.5 1164.7 281.1 1166.1 283 1167.4 285.3 1168.7 288.3 1170.1 292.4 1171.4 296.5 1172.8 301.2 1174.1 305.6 1175.5 308.1 1176.8 310.9 1178.1 314.7 1179.5 318.4 1180.8 321.5 1182.2 325.2 1183.5 329 1184.9 332.7 1186.2 336.4 1187.5 340.2 1188.9 343.5 1190.2 348.6 1191.6 352.2 1192.9 357.5 1194.3 361.1 1195.6 364.8 1196.9 369 1198.3 371.8 1199.6 377.7 1201 382.3 1202.3 385.4 1203.7 390.4 1205 393.5 1206.3 397.4 1207.7 400 1209 404.4 1210.4 409.8 1211.7 415 1213.1 418.5 1214.4 423.4 1215.7 427.9 1217.1 431.8 1218.4 438.7 1219.8 442.2 1221.1 447.1 1222.5 454.2 1223.8 459.4 1225.1 464.2 1226.5 468.8 1227.8 472.9 1229.2 478.4 1230.5 484.8 1231.9 490.5 1233.2 493 1234.5 498.8 1235.9 502.7 1237.2 507.9 1238.6 515.3 1239.9 520.9 1241.3 525.2 1242.6 531.4 1243.9 536.9 1245.3 542.1 1246.6 548.7 1248 554.7 1249.3 563.9 1250.7 573.4 1252 582.4 1253.3 592 1254.7 602.7 1256 608.1 1257.4 614.1 1258.7 620 1260.1 625.4 1261.4 633.9 1262.7 643.8 1264.1 648.2 1265.4 653.8 1266.8 661.2 1268.1 668 1269.5 675.6 1270.8 689.6 1272.1 700.4 1273.5 708.3 1274.8 719.5 1276.2 735 1277.5 747.2 1278.9 762.2 1280.2 770.6 1281.5 781.8 1282.9 797.2 1284.2 807.7 1285.6 817.1 1286.9 825.4 1288.3 831.6 1289.6 841.2 1290.9 851.7 1292.3 866 1293.6 881.2 1295 892.2 1296.3 902.8 1297.7 910.5 1299 917.8 1300.3 926.3 1301.7 932.2 1303 941.4 1304.4 945.4 1305.7 952.3 1307.1 965.1 1308.4 972 1309.7 983.7 1311.1 995.3 1312.4 1001.7 1313.8 1013.2 1315.1 1026 1316.5 1033.5 1317.8 1043.3 1319.1 1053 1320.5 1058.5 1321.8 1069.3 1323.2 1078.4 1324.5 1087 1325.9 1095.1 1327.2 1102.8 1328.6 1110.6 1329.9 1115.6 1331.2 1122.9 1332.6 1128.8 1333.9 1135.9 1335.3 1144 1336.6 1150.3 1338 1157.7 1339.3 1166.8 1340.6 1170.3 1342 1175.4 1343.3 1182.7 1344.7 1188.3 1346 1195 1347.4 1201.4 1348.7 1206.6 1350 1209.4 1351.4 1214.9 1352.7 1217.7 1354.1 1224.2 1355.4 1229.9 1356.8 1233.3 1358.1 1236.7 1359.4 1241.2 1360.8 1246.7 1362.1 1251.5 1363.5 1255.4 1364.8 1259.3 1366.2 1263.1 1367.5 1265.7 1368.8 1268 1370.2 1270.6 1371.5 1273.5 1372.9 1276.4 1374.2 1279 1375.6 1281.9 1376.9 1284.8 1378.2 1288.3 1379.6 1291.3 1380.9 1293.9 1382.3 1297.2 1383.6 1300 1385 1303.6 1386.3 1306 1387.6 1308.5 1389 1311.4 1390.3 1313.1 1391.7 1314.5 1393 1317 1394.4 1318.8 1395.7 1320.5 1397 1323.2 1398.4 1324.3 1399.7 1326 1401.1 1328.3 1402.4 1330.3 1403.8 1331.9 1405.1 1333.8 1406.4 1336 1407.8 1337.5 1409.1 1338.2 1410.5 1339.7 1411.8 1340.8 1413.2 1342 1414.5 1343 1415.8 1344 1417.2 1344.8 1418.5 1345.5 1419.9 1346 1421.2 1346.5 1422.6 1346.8 1517.9 1346.8"/>
<path stroke="#17becf" d="M176.3 930 177.7 898.6 179 799.7 180.3 726.7 181.7 677.5 183 642.2 184.4 611.5 185.7 583.6 187.1 558.9 188.4 537.6 189.7 518.2 191.1 498.6 192.4 476.3 193.8 453.3 195.1 433.5 196.5 420.1 197.8 409.5 199.1 400.3 200.5 392.3 201.8 385.2 203.2 378.6 204.5 372.3 205.9 366 207.2 360.2 208.5 354.9 209.9 350.3 211.2 346.5 212.6 343.1 213.9 340 215.3 335.8 216.6 332.3 218 329.9 219.3 327.4 220.6 324.9 222 322.4 223.3 320.5 224.7 317.7 226 315.2 227.4 314.1 228.7 312.2 230 310.3 231.4 308.4 232.7 307.4 234.1 306 235.4 304.2 236.8 303 238.1 301 239.4 299.9 240.8 298.3 242.1 296.7 243.5 295 244.8 293 246.2 292.3 247.5 291.5 248.8 290 250.2 288.8 251.5 287.3 252.9 285.9 254.2 285 255.6 283.8 256.9 282.8 258.2 281.9 259.6 280.8 260.9 279.5 262.3 278.5 263.6 278 265 277.1 266.3 276.7 267.6 276.4 269 276 270.3 275.9 271.7 275.7 273 275.5 274.4 275.1 275.7 274.7 277 274.1 278.4 273.9 279.7 273.1 281.1 272.4 282.4 271.8 283.8 270.7 285.1 269.9 286.4 269 287.8 268.2 289.1 267.3 290.5 266.9 291.8 266.4 293.2 265.8 294.5 265.5 295.8 265.1 297.2 264.7 298.5 263.9 299.9 263.3 301.2 262.9 302.6 262.5 303.9 262 305.2 261.2 306.6 260.5 307.9 260.1 309.3 259.4 310.6 259.1 312 258.4 313.3 258 314.6 257.3 316 257.1 317.3 256.5 318.7 256 320 255.5 321.4 255 322.7 254.8 324 254.4 325.4 253.6 326.7 253.3 328.1 253 329.4 252.7 330.8 252.4 332.1 251.8 333.4 251.6 334.8 251.1 336.1 250.7 337.5 250.5 338.8 250.2 340.2 249.8 341.5 249.4 342.8 249.3 344.2 248.9 345.5 248.5 346.9 248.4 348.2 248 349.6 247.5 350.9 247.3 352.2 246.8 353.6 246.4 354.9 246.2 356.3 246.1 357.6 245.7 359 245.3 360.3 245 361.6 244.6 363 244.3 364.3 244.1 365.7 244 367 243.8 368.4 243.4 369.7 243.1 371 242.8 372.4 242.6 373.7 242.5 375.1 242.4 376.4 242.4 377.8 242.2 379.1 242 380.4 241.7 381.8 241.4 383.1 241.3 384.5 241.1 385.8 241 387.2 240.8 388.5 240.6 389.8 240.4 391.2 240.2 392.5 240 393.9 239.9 395.2 239.7 396.6 239.8 397.9 239.4 399.2 239.3 400.6 239 401.9 238.9 403.3 238.8 404.6 238.7 406 238.6 407.3 238.3 408.6 238.1 410 238 411.3 237.8 412.7 237.7 414 237.4 415.4 237.3 416.7 237.2 418 237 419.4 236.9 420.7 236.6 422.1 236.6 423.4 236.7 424.8 236.5 426.1 236.3 427.4 236.3 428.8 236 430.1 235.9 431.5 235.8 432.8 235.6 434.2 235.5 435.5 235.3 436.8 235.2 438.2 235 439.5 234.9 440.9 234.7 442.2 234.5 443.6 234.5 444.9 234.4 447.6 234.4 448.9 234.2 450.3 234 451.6 234.1 453 234.2 454.3 234.1 455.6 234 457 233.8 458.3 233.6 459.7 233.6 461 233.5 462.4 233.3 463.7 233.5 465 233.3 466.4 233.3 467.7 233.1 471.8 233.1 473.1 232.9 474.4 232.5 475.8 232.6 477.1 232.4 478.5 232.3 479.8 232.2 481.2 232.2 482.5 232.3 483.8 232.2 485.2 232 486.5 232 487.9 231.8 489.2 231.8 490.6 231.7 491.9 231.7 493.3 231.5 494.6 231.3 495.9 230.9 497.3 230.9 498.6 230.8 500 230.6 501.3 230.4 504 230.4 505.3 230.2 506.7 230.1 508 230.1 509.4 229.9 510.7 229.9 512.1 229.7 513.4 229.6 514.7 229.5 516.1 229.4 518.8 229.4 520.1 229.1 521.5 228.9 522.8 228.6 525.5 228.6 526.8 228.5 528.2 228.4 529.5 228.2 530.9 228.2 532.2 228.1 533.5 227.9 534.9 227.7 536.2 227.6 537.6 227.5 538.9 227.5 540.3 227.4 541.6 227.2 544.3 227.2 545.6 227 547 226.9 548.3 226.8 549.7 226.6 551 226.7 552.3 226.6 553.7 226.4 555 226.3 556.4 226.2 557.7 226.2 559.1 226.1 560.4 225.9 561.7 225.7 563.1 225.4 564.4 225.3 565.8 225.2 567.1 225.1 568.5 225.2 569.8 225.1 571.1 224.9 572.5 225 575.2 225 576.5 224.8 577.9 224.8 579.2 224.7 580.5 224.6 583.2 224.6 584.6 224.4 585.9 224.3 587.3 224.2 588.6 224.1 589.9 224.1 591.3 223.8 592.6 223.7 594 223.6 595.3 223.5 596.7 223.7 598 223.8 599.3 223.5 600.7 223.4 602 223.2 603.4 223.2 604.7 223.3 606.1 223.2 607.4 223.2 608.7 223 611.4 223 612.8 222.9 614.1 222.6 615.5 222.5 616.8 222.5 618.1 222.3 619.5 222.4 620.8 222.2 622.2 222.2 623.5 222 624.9 221.9 626.2 221.8 627.5 222 628.9 222.3 630.2 222 631.6 221.9 632.9 221.9 634.3 221.8 635.6 221.7 636.9 221.6 638.3 221.6 639.6 221.4 641 221.2 642.3 221.1 643.7 221 645 221.2 646.3 221 647.7 220.9 650.4 220.9 651.7 220.8 653.1 220.6 655.7 220.6 657.1 220.4 661.1 220.4 662.5 220.1 665.1 220.1 666.5 220 667.8 220 669.2 219.9 670.5 219.9 671.9 220.1 673.2 220.2 674.5 220.2 675.9 220.1 677.2 220 678.6 219.9 679.9 219.8 681.3 219.8 682.6 219.9 683.9 219.9 685.3 220 686.6 220 688 219.9 689.3 219.7 690.7 219.7 692 219.6 693.3 219.6 694.7 219.7 696 219.5 697.4 219.4 698.7 219.4 700.1 219.5 701.4 219.6 702.7 219.4 704.1 219.3 705.4 219.4 706.8 219.2 708.1 219.1 709.5 218.9 713.5 218.9 714.8 218.8 716.2 218.9 717.5 218.8 718.9 218.9 720.2 218.8 722.9 218.8 724.2 218.9 725.6 218.8 726.9 218.9 728.3 219 729.6 218.8 730.9 218.7 732.3 218.6 733.6 218.7 735 218.8 736.3 218.7 739 218.7 740.3 218.6 741.7 218.7 743 218.5 744.4 218.5 745.7 218.7 747.1 218.6 749.7 218.6 751.1 218.5 753.8 218.5 755.1 218.6 756.5 218.5 759.1 218.5 760.5 218.6 761.8 218.5 763.2 218.7 764.5 218.5 765.9 218.4 767.2 218.6 768.5 218.5 769.9 218.4 771.2 218.3 772.6 218.1 773.9 218.2 775.3 218.3 776.6 218.4 778 218.4 779.3 218.5 780.6 218.4 782 218.2 783.3 218.3 784.7 218.4 786 218.5 787.4 218.6 788.7 218.4 790 218.3 791.4 218.1 792.7 218.3 794.1 218.3 795.4 218.4 796.8 218.6 798.1 218.4 799.4 218.4 800.8 218.3 802.1 218.2 803.5 218.3 804.8 218.2 806.2 218.2 807.5 218.3 810.2 218.3 811.5 218.2 812.9 218.4 814.2 218.3 815.6 218.2 816.9 218.2 818.2 218 819.6 218.1 820.9 218.2 822.3 218.2 823.6 218.1 825 218 827.6 218 829 218.1 830.3 218.2 831.7 218.2 833 218.4 834.4 218.2 835.7 218 837 218 838.4 218.3 839.7 218.2 841.1 218.3 842.4 218.5 843.8 218.4 845.1 218.6 847.8 218.6 849.1 218.5 850.5 218.5 851.8 218.8 853.2 218.9 854.5 219 857.2 219 858.5 219.2 859.9 219.1 861.2 219.2 862.6 219.1 866.6 219.1 867.9 219 869.3 218.8 870.6 219.1 873.3 219.1 874.6 219 876 219.2 877.3 219.5 878.7 219.6 880 219.4 881.4 219.4 882.7 219.5 884 219.4 885.4 219.6 886.7 219.6 888.1 219.5 889.4 219.4 890.8 219.7 892.1 219.8 893.4 219.9 894.8 219.8 896.1 220 897.5 219.8 898.8 219.7 900.2 219.6 901.5 219.4 902.8 219.5 904.2 219.4 905.5 219.7 906.9 219.8 910.9 219.8 912.2 219.9 913.6 219.9 914.9 219.8 916.3 220 917.6 220.1 920.3 220.1 921.6 220.3 923 220.2 925.7 220.2 927 220.3 928.4 220.4 929.7 220.2 931 220.4 932.4 220.6 933.7 220.7 935.1 220.8 936.4 220.8 937.8 220.9 939.1 220.9 940.4 220.8 941.8 220.8 943.1 221 944.5 221.1 945.8 221 947.2 221.1 948.5 221.2 949.8 221.3 951.2 221.2 952.5 221 953.9 221.2 955.2 221.4 956.6 221.3 957.9 221.6 959.2 221.7 960.6 221.5 961.9 221.8 963.3 221.9 964.6 221.9 966 221.8 967.3 221.9 968.6 222.3 972.7 222.3 974 222.1 975.4 222.3 976.7 222.2 978 222.4 979.4 222.4 980.7 222.5 982.1 222.8 983.4 222.8 984.8 223 986.1 222.9 987.4 222.9 988.8 223 990.1 223.2 991.5 223.2 992.8 223 994.2 223.1 995.5 223.1 996.8 223.4 998.2 223.7 999.5 223.8 1000.9 224 1003.6 224 1004.9 224.2 1006.2 224.4 1007.6 224.5 1008.9 224.5 1010.3 224.6 1011.6 224.7 1014.3 224.7 1015.6 224.9 1017 225.1 1019.7 225.1 1021 225.2 1022.4 225.2 1023.7 225.3 1025 225.6 1026.4 225.8 1027.7 225.8 1029.1 226 1030.4 226.1 1033.1 226.1 1034.4 226.3 1035.8 226.6 1037.1 226.8 1038.5 226.9 1039.8 227 1041.2 227.5 1042.5 227.8 1043.8 228 1045.2 228.2 1046.5 228.1 1047.9 228.3 1049.2 228.3 1050.6 228.7 1053.3 228.7 1054.6 228.9 1055.9 229 1057.3 229.2 1058.6 229.1 1060 229.3 1061.3 229.4 1062.7 229.8 1064 230.2 1065.3 230.4 1066.7 230.4 1068 230.5 1069.4 230.9 1070.7 231.1 1072.1 231.3 1073.4 231.4 1074.7 231.7 1076.1 232 1077.4 232.4 1078.8 232.7 1080.1 233.2 1081.5 233.5 1082.8 233.9 1084.1 234.4 1085.5 234.9 1086.8 235.4 1088.2 235.6 1089.5 236.2 1090.9 236.6 1092.2 237 1093.5 237.3 1094.9 237.7 1096.2 238.1 1097.6 238.6 1098.9 238.9 1100.3 239.1 1101.6 239.4 1102.9 239.8 1104.3 240.1 1105.6 240.4 1107 241.1 1108.3 241.4 1109.7 241.8 1111 242.2 1112.3 242.6 1113.7 243 1115 243.7 1116.4 243.8 1117.7 243.9 1119.1 244.3 1120.4 244.7 1121.7 245 1123.1 245.3 1124.4 245.7 1125.8 246.1 1127.1 246.6 1128.5 247.2 1129.8 247.4 1131.1 247.9 1132.5 248.2 1133.8 248.6 1135.2 248.6 1136.5 249 1137.9 249.5 1139.2 250.3 1140.5 250.8 1141.9 251.4 1143.2 252.1 1144.6 252.7 1145.9 253.5 1147.3 253.9 1148.6 254.6 1149.9 255.2 1151.3 255.7 1152.6 256.6 1154 257.3 1155.3 257.8 1156.7 258.4 1158 259.2 1159.3 260.3 1160.7 261 1162 262 1163.4 262.4 1164.7 263.7 1166.1 264.7 1167.4 265.7 1168.7 267 1170.1 267.5 1171.4 268.4 1172.8 268.9 1174.1 269.3 1175.5 270 1176.8 270.5 1178.1 271.5 1179.5 272.5 1180.8 273.2 1182.2 274 1183.5 274.9 1184.9 275.8 1186.2 276.9 1187.5 277.3 1188.9 278.7 1190.2 280 1191.6 281.4 1192.9 283.3 1194.3 284.6 1195.6 287 1196.9 289.1 1198.3 291.5 1199.6 293.6 1201 294.9 1202.3 296.4 1203.7 297.9 1205 299.3 1206.3 301 1207.7 303.2 1209 305.4 1210.4 307.6 1211.7 310.5 1213.1 314 1214.4 317.6 1215.7 319.4 1217.1 322.4 1218.4 324.3 1219.8 327 1221.1 329.6 1222.5 332.1 1223.8 334.4 1225.1 337 1226.5 339.7 1227.8 342.7 1229.2 346.6 1230.5 348.4 1231.9 351.4 1233.2 353.4 1234.5 356.1 1235.9 358.3 1237.2 362.1 1238.6 365.2 1239.9 368.7 1241.3 372.1 1242.6 376 1243.9 378.3 1245.3 382.4 1246.6 387 1248 391.5 1249.3 399.9 1250.7 404.9 1252 409.7 1253.3 415.5 1254.7 422.3 1256 428.1 1257.4 432.6 1258.7 440.2 1260.1 447 1261.4 451.9 1262.7 456.2 1264.1 461.7 1265.4 464.3 1266.8 471.1 1268.1 478.8 1269.5 486.1 1270.8 493.7 1272.1 498.7 1273.5 505.1 1274.8 514.7 1276.2 518.7 1277.5 528.8 1278.9 545.2 1280.2 553.9 1281.5 559.9 1282.9 572.1 1284.2 581 1285.6 591.1 1286.9 605.6 1288.3 616.3 1289.6 630.8 1290.9 639.2 1292.3 645.7 1293.6 655.6 1295 664 1296.3 684 1297.7 703.6 1299 718.6 1300.3 732 1301.7 744.8 1303 755.8 1304.4 769.8 1305.7 787.1 1307.1 805.3 1308.4 823 1309.7 842.2 1311.1 856.5 1312.4 866.2 1313.8 876.8 1315.1 887.3 1316.5 896.3 1317.8 908.5 1319.1 920.5 1320.5 937.7 1321.8 952.8 1323.2 969.1 1324.5 983.1 1325.9 993.4 1327.2 1004.3 1328.6 1010.8 1329.9 1023.1 1331.2 1038.8 1332.6 1049.8 1333.9 1056.8 1335.3 1071.5 1336.6 1081.4 1338 1093.3 1339.3 1102.1 1340.6 1116.9 1342 1124.2 1343.3 1137.5 1344.7 1140.9 1346 1149.7 1347.4 1154.1 1348.7 1157 1350 1167.7 1351.4 1179.1 1352.7 1184.7 1354.1 1186.9 1355.4 1194.2 1356.8 1206.2 1358.1 1212.9 1359.4 1218.7 1360.8 1224.1 1362.1 1230.3 1363.5 1235.4 1364.8 1239.1 1366.2 1244.3 1367.5 1246.7 1368.8 1249.9 1370.2 1253.6 1371.5 1256.2 1372.9 1258.4 1374.2 1261.7 1375.6 1265.8 1376.9 1269.1 1378.2 1271.8 1379.6 1274.2 1380.9 1276 1382.3 1278.3 1383.6 1282.9 1385 1286 1386.3 1288 1387.6 1291.6 1389 1294.8 1390.3 1297 1391.7 1300.5 1393 1304.1 1394.4 1306.6 1395.7 1307.8 1397 1309 1398.4 1310.4 1399.7 1312.3 1401.1 1313.5 1402.4 1315.4 1403.8 1316.3 1405.1 1318.7 1406.4 1320.9 1407.8 1323.7 1409.1 1326.4 1410.5 1329.3 1411.8 1331.5 1413.2 1333.2 1414.5 1333.6 1415.8 1335.3 1417.2 1337.4 1418.5 1338.6 1419.9 1339.7 1421.2 1341.1 1422.6 1342 1423.9 1342.7 1425.2 1343.4 1426.6 1344.1 1427.9 1344.6 1429.3 1345.1 1430.6 1345.5 1432 1346 1433.3 1346.4 1434.6 1346.6 1436 1346.6 1437.3 1346.5 1438.7 1346.6 1441.4 1346.6 1442.7 1346.5 1444 1346.6 1446.7 1346.6 1448.1 1346.5 1452.1 1346.5 1453.4 1346.6 1462.8 1346.6 1464.2 1346.5 1469.6 1346.5 1470.9 1346.6 1472.2 1346.5 1473.6 1346.5 1474.9 1346.6 1476.3 1346.5 1480.3 1346.5 1481.6 1346.6 1483 1346.5 1489.7 1346.5 1491 1346.6 1492.4 1346.6 1493.7 1346.5 1495.1 1346.5 1496.4 1346.6 1497.8 1346.5 1499.1 1346.5 1500.4 1346.6 1516.6 1346.6 1517.9 1346.5"/>
<path stroke="#1f77b4" d="M176.3 745 177.7 741.4 179 726.4 180.3 709.1 181.7 689.2 183 664.6 184.4 639.1 185.7 616.7 187.1 597.6 188.4 580.1 189.7 563.2 191.1 545.7 192.4 527.9 193.8 511.7 195.1 499.1 196.5 488.9 197.8 479.5 199.1 470.7 200.5 462.7 201.8 455.2 203.2 448.4 204.5 442.1 205.9 436.4 207.2 431.2 208.5 426.5 209.9 422.2 211.2 418.1 212.6 414.1 213.9 410.4 215.3 404.8 216.6 402.8 218 400.1 219.3 397.6 220.6 395.3 222 393 223.3 389.4 224.7 386.4 226 383.7 227.4 380.3 228.7 377.2 230 375.8 231.4 373 232.7 369.8 234.1 367.2 235.4 364.5 236.8 363.5 238.1 361.3 239.4 359.7 240.8 357.9 242.1 356.1 243.5 352.9 244.8 350.2 246.2 347 247.5 345.3 248.8 342.2 250.2 340.4 251.5 338.5 252.9 336.8 254.2 335.1 255.6 333.4 256.9 332.3 258.2 330.3 259.6 329.5 260.9 328.4 262.3 327.1 263.6 326 265 325 266.3 324 267.6 322.7 269 321.8 270.3 320.4 271.7 318.8 273 318.1 274.4 316.8 275.7 315.5 277 314 278.4 312.9 279.7 312 281.1 310.6 282.4 309.8 283.8 309.1 285.1 308.2 286.4 307.7 287.8 307.3 289.1 306.6 290.5 306 291.8 305.4 293.2 304.7 294.5 304.1 295.8 303.8 297.2 303.1 298.5 302.4 299.9 302.2 301.2 301.6 302.6 300.8 303.9 300.2 305.2 300 306.6 299.6 307.9 298.7 309.3 298.3 310.6 297.8 312 297.2 313.3 297 314.6 296.9 316 296.6 317.3 296.1 318.7 295.7 320 295.2 321.4 294.8 322.7 294.3 324 293.8 325.4 293.4 326.7 292.7 328.1 291.9 329.4 291.2 330.8 290.8 332.1 290.2 333.4 289.6 334.8 289 336.1 288.3 337.5 287.9 338.8 287.5 340.2 287.1 341.5 286.8 342.8 286.4 344.2 286 345.5 285.9 346.9 285.7 348.2 285.2 349.6 284.6 350.9 284.3 352.2 283.7 353.6 283 354.9 282.7 356.3 282.3 357.6 281.8 359 281.4 360.3 281.3 361.6 280.9 363 280.5 364.3 280.2 365.7 279.9 367 279.9 368.4 279.4 369.7 279.4 371 279.1 372.4 279 373.7 278.9 375.1 278.8 377.8 278.8 379.1 278.5 380.4 278.4 381.8 278.3 383.1 278.3 384.5 278.1 385.8 277.8 387.2 277.7 388.5 277.5 389.8 277.4 391.2 277.1 392.5 277 393.9 276.9 395.2 276.7 396.6 276.5 397.9 276.4 399.2 276.2 400.6 275.8 401.9 275.9 403.3 275.4 404.6 275.2 406 274.8 407.3 274.3 408.6 274 410 273.7 411.3 273.3 412.7 273 414 272.7 415.4 272.2 416.7 271.9 418 271.7 419.4 271.4 420.7 271.1 422.1 271.1 423.4 270.6 424.8 270.6 426.1 270.7 427.4 270.1 428.8 269.7 430.1 269.6 431.5 269.5 432.8 269.2 434.2 269.2 435.5 269.1 436.8 268.7 438.2 268.6 439.5 268.2 440.9 268 442.2 267.8 443.6 267.8 444.9 267.6 446.2 267.5 447.6 267 448.9 267.2 450.3 266.9 451.6 266.6 453 266.5 454.3 266.2 455.6 266 457 265.5 458.3 265.3 459.7 265.1 461 264.7 462.4 264.6 463.7 264.4 465 264.1 466.4 264 467.7 263.6 469.1 263.4 470.4 263.4 471.8 263 473.1 262.9 474.4 262.9 475.8 262.8 477.1 262.6 478.5 262.4 479.8 262.3 481.2 261.9 482.5 261.5 483.8 261.3 485.2 261.1 486.5 261 487.9 260.7 489.2 260.5 490.6 260.6 491.9 260.1 493.3 259.8 494.6 259.7 495.9 259.6 497.3 259.3 498.6 259.5 501.3 259.5 502.7 259.4 504 259.3 505.3 259.1 506.7 258.9 508 258.7 509.4 258.6 510.7 258.2 512.1 258.3 513.4 258.5 514.7 258.4 516.1 257.9 517.4 257.8 518.8 257.8 520.1 257.7 521.5 257.6 522.8 257.7 524.1 257.6 525.5 257.4 529.5 257.4 530.9 257.1 532.2 257 533.5 256.8 534.9 256.7 536.2 256.4 537.6 256.2 538.9 256.3 540.3 256.1 541.6 256 542.9 256 544.3 255.8 545.6 255.6 547 255.5 548.3 255.4 549.7 255.3 551 255.1 552.3 254.9 553.7 255 555 254.8 556.4 254.7 557.7 254.7 559.1 254.8 560.4 254.9 561.7 254.7 563.1 254.7 564.4 254.4 565.8 254.4 567.1 254.3 568.5 254.4 571.1 254.4 572.5 254.3 573.8 254.2 575.2 254.2 576.5 254.1 577.9 254 579.2 254.2 580.5 254 581.9 253.9 583.2 253.7 584.6 253.6 585.9 253.7 587.3 253.6 588.6 253.4 589.9 253.4 591.3 253.3 592.6 253.1 594 253.2 595.3 253.3 596.7 253.2 598 253.1 599.3 252.9 600.7 253 602 252.8 603.4 252.6 604.7 252.8 606.1 252.5 607.4 252.1 608.7 251.7 610.1 251.4 611.4 251.1 612.8 250.9 614.1 250.6 615.5 250.6 616.8 250.5 618.1 250.7 619.5 250.8 620.8 250.8 622.2 250.7 623.5 250.8 624.9 250.8 626.2 250.5 627.5 250.6 628.9 250.4 630.2 250.3 631.6 250.4 632.9 250.2 634.3 250.1 635.6 250.2 636.9 250.2 638.3 249.9 639.6 250 642.3 250 643.7 250.2 645 250.1 646.3 249.9 647.7 249.8 649 249.6 650.4 249.3 651.7 249.2 655.7 249.2 657.1 249.1 658.4 249.1 659.8 249 661.1 249 662.5 249.2 663.8 249 665.1 249.1 666.5 249.3 667.8 249.4 669.2 249.7 670.5 250.1 671.9 250.2 673.2 250.7 674.5 250.9 675.9 251 677.2 251.3 678.6 251.5 679.9 251.4 681.3 251.3 682.6 251.3 683.9 251.2 685.3 251.3 686.6 251.2 688 251.1 689.3 251 690.7 250.9 692 251.1 693.3 251 694.7 251 696 250.8 697.4 250.8 698.7 250.6 700.1 250.5 701.4 250.3 704.1 250.3 705.4 250.2 706.8 250.1 708.1 250.2 709.5 250.1 710.8 250 713.5 250 714.8 250.1 716.2 250.1 717.5 249.8 718.9 249.9 720.2 250.1 721.5 249.9 722.9 250 724.2 250 725.6 249.9 726.9 250 728.3 249.8 729.6 249.7 730.9 249.8 732.3 249.8 733.6 249.7 735 249.7 736.3 249.9 737.7 249.7 739 249.8 740.3 249.6 741.7 249.6 743 249.5 744.4 249.3 745.7 249.4 747.1 249.4 748.4 249.3 749.7 249.1 751.1 249.2 753.8 249.2 755.1 249.3 756.5 249.1 757.8 249 759.1 249 760.5 249.3 761.8 249.1 763.2 249.2 764.5 249.3 765.9 249.4 767.2 249.6 768.5 249.4 769.9 249.7 772.6 249.7 773.9 249.8 775.3 249.9 776.6 249.9 778 249.8 779.3 249.9 780.6 250 782 250.1 783.3 250.1 784.7 250.2 786 250.2 787.4 250.3 788.7 250.4 790 250.5 792.7 250.5 794.1 250.4 795.4 250.4 796.8 250.2 798.1 250.2 799.4 250.1 800.8 250.2 802.1 250 803.5 250 804.8 250.1 806.2 250.2 807.5 250.3 808.8 250.1 810.2 250.3 812.9 250.3 814.2 250.5 815.6 250.5 816.9 250.7 818.2 251 819.6 251.3 820.9 251.2 822.3 251.2 823.6 251.3 825 251.4 826.3 251.7 827.6 251.8 829 252.2 830.3 252.2 831.7 252.3 833 252.3 834.4 252.5 835.7 252.7 837 252.8 838.4 252.8 839.7 253 841.1 253 842.4 253.2 843.8 253.1 845.1 253.2 846.4 253.4 849.1 253.4 850.5 253.5 851.8 253.5 853.2 253.4 854.5 253.5 857.2 253.5 858.5 253.7 859.9 253.6 861.2 253.7 865.2 253.7 866.6 254 867.9 254.1 869.3 254.3 870.6 254.3 872 254.5 873.3 254.5 874.6 254.7 876 254.8 877.3 255 878.7 254.9 880 254.8 881.4 254.9 882.7 255 884 255.3 885.4 255.6 886.7 255.6 888.1 255.7 889.4 255.7 890.8 256 892.1 256.1 893.4 256.2 894.8 256.2 896.1 256.4 897.5 256.5 900.2 256.5 901.5 256.6 902.8 256.5 904.2 256.7 905.5 256.6 906.9 256.8 908.2 257 909.6 257 910.9 257.2 912.2 257.2 913.6 257.1 914.9 257.1 916.3 257.4 917.6 257.3 919 257.4 920.3 257.3 921.6 257.3 923 257.4 924.3 257.5 925.7 257.5 927 257.7 928.4 257.8 929.7 257.7 931 257.7 932.4 257.9 933.7 258 935.1 257.9 936.4 258 937.8 258 939.1 257.9 940.4 258.2 941.8 258.1 943.1 258.2 944.5 258.3 945.8 258.3 947.2 258.5 948.5 258.5 949.8 258.4 951.2 258.4 952.5 258.5 953.9 258.7 955.2 258.9 957.9 258.9 959.2 259.2 960.6 259.3 961.9 259.6 963.3 259.9 964.6 260.2 966 260.3 967.3 260.3 968.6 260.5 970 260.8 971.3 260.9 972.7 261.3 974 261.6 975.4 261.8 976.7 262 978 262.2 979.4 262.6 980.7 262.9 982.1 263.2 983.4 263.3 984.8 263.5 986.1 264 987.4 264.2 988.8 264.6 990.1 264.8 991.5 264.9 992.8 265 994.2 265.1 998.2 265.1 999.5 265.4 1000.9 265.3 1002.2 265.6 1003.6 265.5 1004.9 265.7 1006.2 265.7 1007.6 265.8 1008.9 265.9 1010.3 266 1011.6 266.2 1013 266 1014.3 266 1015.6 266.2 1017 266.2 1018.3 266.4 1019.7 266.5 1023.7 266.5 1025 266.6 1026.4 266.8 1027.7 267 1029.1 267.3 1030.4 267.2 1031.8 267.5 1033.1 267.5 1034.4 267.7 1035.8 268 1037.1 268.2 1038.5 268.6 1039.8 268.7 1041.2 268.8 1042.5 269 1043.8 269.1 1045.2 269.4 1046.5 269.7 1047.9 270 1049.2 270 1050.6 270.3 1051.9 270.4 1053.3 270.7 1055.9 270.7 1057.3 271.1 1058.6 271.2 1060 271.3 1061.3 271.4 1062.7 271.3 1064 271.6 1065.3 271.8 1066.7 272 1068 272.3 1069.4 272.4 1070.7 272.5 1072.1 272.8 1073.4 273.1 1074.7 273.2 1076.1 273.3 1077.4 273.7 1078.8 274.2 1080.1 274.2 1081.5 274.4 1082.8 274.3 1084.1 274.4 1085.5 274.6 1086.8 274.8 1088.2 275.1 1089.5 275.4 1090.9 275.8 1092.2 276.3 1093.5 276.9 1094.9 277.6 1096.2 278.3 1097.6 279.2 1098.9 279.6 1100.3 280.4 1101.6 280.8 1102.9 280.9 1104.3 281.5 1105.6 281.7 1107 282.2 1108.3 282.6 1109.7 283 1111 283.2 1112.3 283.7 1113.7 284.2 1115 284.2 1116.4 284.6 1117.7 285 1119.1 285.4 1120.4 285.5 1121.7 285.9 1123.1 286.2 1124.4 286.7 1125.8 287 1127.1 287.3 1128.5 287.6 1129.8 287.8 1131.1 287.9 1132.5 288.1 1133.8 288.4 1135.2 288.6 1136.5 289.1 1137.9 289.4 1139.2 289.6 1140.5 289.9 1141.9 290 1143.2 290.2 1144.6 290.3 1145.9 290.3 1147.3 290.5 1148.6 290.7 1149.9 290.9 1151.3 290.9 1152.6 291.3 1154 291.6 1155.3 292 1156.7 292.5 1158 292.9 1159.3 293.5 1160.7 294.3 1162 294.7 1163.4 295.5 1164.7 295.9 1166.1 296.2 1167.4 296.8 1168.7 297.4 1170.1 297.7 1171.4 298 1172.8 298.9 1174.1 299.3 1175.5 299.7 1176.8 300.5 1178.1 300.9 1179.5 301.6 1180.8 302 1182.2 302.2 1183.5 303.2 1184.9 303.7 1186.2 304.7 1187.5 305.5 1188.9 306.2 1190.2 307 1191.6 307.9 1192.9 308.7 1194.3 309.6 1195.6 310.4 1196.9 311 1198.3 311.7 1199.6 312.3 1201 313.3 1202.3 314.1 1203.7 314.6 1205 315.1 1206.3 315.6 1207.7 316.2 1209 317.1 1210.4 317.5 1211.7 318.2 1213.1 319.1 1214.4 319.9 1215.7 320.6 1217.1 321.2 1218.4 322 1219.8 323.1 1221.1 324 1222.5 324.9 1223.8 326.3 1225.1 327.9 1226.5 329 1227.8 329.7 1229.2 331.1 1230.5 332.2 1231.9 333.6 1233.2 334.8 1234.5 336.6 1235.9 337.3 1237.2 338.6 1238.6 339.9 1239.9 341.4 1241.3 342.6 1242.6 343.7 1243.9 346.2 1245.3 347.5 1246.6 349.8 1248 351.1 1249.3 353.4 1250.7 355.7 1252 358.4 1253.3 361.1 1254.7 363.9 1256 367.1 1257.4 369.6 1258.7 371 1260.1 372.7 1261.4 375.2 1262.7 376.7 1264.1 378.9 1265.4 380.7 1266.8 383.4 1268.1 387.1 1269.5 391.3 1270.8 395.8 1272.1 401.5 1273.5 405.7 1274.8 412.2 1276.2 417.5 1277.5 422.4 1278.9 426.2 1280.2 429.7 1281.5 431 1282.9 437.5 1284.2 449.5 1285.6 455.1 1286.9 458.7 1288.3 462.8 1289.6 468.3 1290.9 472.7 1292.3 477.7 1293.6 484.5 1295 496.3 1296.3 502.1 1297.7 517 1299 530.3 1300.3 535.8 1301.7 538.6 1303 551.3 1304.4 568.1 1305.7 579.3 1307.1 592 1308.4 605.6 1309.7 615.1 1311.1 624 1312.4 634 1313.8 647.7 1315.1 661.3 1316.5 670.2 1317.8 683.5 1319.1 700.6 1320.5 714.9 1321.8 725 1323.2 744 1324.5 761.6 1325.9 777.5 1327.2 791.7 1328.6 808.7 1329.9 824.8 1331.2 842.3 1332.6 858.3 1333.9 871.1 1335.3 882.1 1336.6 895.4 1338 912.9 1339.3 933.5 1340.6 946 1342 958.8 1343.3 972.7 1344.7 987.1 1346 1003.7 1347.4 1018.8 1348.7 1031.6 1350 1042.9 1351.4 1055 1352.7 1071.1 1354.1 1083 1355.4 1096.6 1356.8 1112.3 1358.1 1123.2 1359.4 1135.1 1360.8 1161.3 1362.1 1173.9 1363.5 1166.9 1364.8 1178.6 1366.2 1189.6 1367.5 1195.4 1368.8 1203.4 1370.2 1211.9 1371.5 1219.3 1372.9 1224.2 1374.2 1230.5 1375.6 1236.3 1376.9 1241 1378.2 1245 1379.6 1249.4 1380.9 1254.8 1382.3 1263.2 1383.6 1270.1 1385 1278.6 1386.3 1283.9 1387.6 1288.7 1389 1291.5 1390.3 1294.7 1391.7 1299.9 1393 1304 1394.4 1306.3 1395.7 1309.5 1397 1314 1398.4 1315.6 1399.7 1318.9 1401.1 1321.5 1402.4 1323.7 1403.8 1325.3 1405.1 1327.4 1406.4 1329.4 1407.8 1331.1 1409.1 1333 1410.5 1335 1411.8 1335.9 1413.2 1337.5 1414.5 1338.4 1415.8 1339.5 1417.2 1340.9 1418.5 1342 1419.9 1343 1421.2 1343.7 1422.6 1344.2 1423.9 1344.7 1425.2 1345 1426.6 1345.4 1427.9 1345.7 1429.3 1345.8 1430.6 1346 1432 1346.2 1433.3 1346.3 1434.6 1346.4 1436 1346.5 1437.3 1346.6 1440 1346.6 1441.4 1346.5 1442.7 1346.5 1444 1346.6 1453.4 1346.6 1454.8 1346.5 1457.5 1346.5 1458.8 1346.6 1461.5 1346.6 1462.8 1346.5 1464.2 1346.6 1465.5 1346.6 1466.9 1346.5 1468.2 1346.6 1472.2 1346.6 1473.6 1346.5 1474.9 1346.5 1476.3 1346.6 1477.6 1346.5 1483 1346.5 1484.3 1346.6 1485.7 1346.5 1492.4 1346.5 1493.7 1346.6 1495.1 1346.6 1496.4 1346.5 1500.4 1346.5 1501.8 1346.6 1504.5 1346.6 1505.8 1346.5 1507.2 1346.5 1508.5 1346.6 1509.8 1346.5 1517.9 1346.5"/>
<path stroke="#ff7f0e" d="M176.3 893 177.7 875.4 179 816.8 180.3 776.4 181.7 745.4 183 718.7 184.4 692.6 185.7 666.6 187.1 642.4 188.4 621.3 189.7 604.8 191.1 591.3 192.4 577.6 193.8 560.3 195.1 531.3 196.5 502.8 197.8 489.9 199.1 478.9 200.5 469.4 201.8 461 203.2 453.7 204.5 447.3 205.9 441.7 207.2 436.8 208.5 432.3 209.9 428.2 211.2 424.3 212.6 420.6 213.9 417 215.3 414.5 216.6 411 218 407.5 219.3 403.4 220.6 400.9 222 398.4 223.3 394.9 224.7 392.9 226 389.2 227.4 387.5 228.7 385.2 230 382.4 231.4 379.7 232.7 376.6 234.1 375.2 235.4 373.6 236.8 370.7 238.1 369 239.4 366.9 240.8 364.7 242.1 362.9 243.5 361.7 244.8 359.9 246.2 358.9 247.5 356.7 248.8 355.7 250.2 354.1 251.5 352.2 252.9 350.6 254.2 349.8 255.6 348.4 256.9 347.7 258.2 346.1 259.6 344.6 260.9 343.6 262.3 342.4 263.6 341.8 265 341 266.3 339.7 267.6 338.7 269 338.1 270.3 337.6 271.7 336.5 273 335.3 274.4 334.4 275.7 333.1 277 332.2 278.4 331 279.7 330 281.1 329 282.4 327.9 283.8 327 285.1 325.8 286.4 324.9 287.8 324.1 289.1 323.4 290.5 322.8 291.8 322 293.2 320.9 294.5 320.2 295.8 319.6 297.2 318.6 298.5 317.9 299.9 317.2 301.2 316.6 302.6 315.9 303.9 315.4 305.2 314.9 306.6 314.2 307.9 313.7 309.3 312.8 310.6 312.3 312 311.5 313.3 310.8 314.6 309.9 316 309.4 317.3 308.7 318.7 307.8 320 307.1 321.4 306.5 322.7 306.1 324 305.7 325.4 305.4 326.7 304.9 328.1 304.4 329.4 304 330.8 303.8 332.1 303.8 333.4 303.5 334.8 303 336.1 302.7 337.5 301.9 338.8 301.4 340.2 300.5 341.5 300.1 342.8 299.6 344.2 299 345.5 298.5 346.9 297.9 348.2 297.4 349.6 296.9 350.9 296.6 352.2 296.4 353.6 296.2 354.9 295.8 356.3 295.6 357.6 295.2 359 295 360.3 294.6 361.6 294.1 363 293.8 364.3 293.5 365.7 293.3 367 292.8 368.4 292.7 369.7 292.2 371 291.8 372.4 291.5 373.7 291.1 375.1 290.6 376.4 290.1 377.8 289.7 379.1 289.1 380.4 288.7 381.8 288 383.1 287.6 384.5 286.9 385.8 286.5 387.2 285.7 388.5 285.3 389.8 284.9 391.2 284.6 392.5 284 393.9 283.7 395.2 283.2 396.6 283 397.9 282.9 399.2 282.8 400.6 282.5 401.9 282.4 403.3 282.3 404.6 282.1 406 281.8 407.3 281.6 408.6 281.2 410 280.8 411.3 280.4 412.7 280.2 414 280.1 415.4 279.9 416.7 279.8 418 279.5 419.4 279.5 420.7 279.3 422.1 279.1 423.4 278.9 424.8 278.7 426.1 278.6 427.4 278.3 428.8 278 430.1 278.1 431.5 278 432.8 277.9 434.2 277.8 435.5 277.5 436.8 277.5 438.2 277.3 439.5 276.8 440.9 276.6 442.2 276.5 443.6 276.2 444.9 276.1 446.2 275.7 447.6 275.2 448.9 275.3 450.3 275.1 451.6 275 453 274.8 454.3 274.7 455.6 274.4 457 274.4 458.3 274.2 459.7 273.7 461 273.6 462.4 273.5 463.7 273.4 465 273.1 466.4 272.8 467.7 272.8 469.1 272.7 470.4 272.6 471.8 272.6 473.1 272.4 474.4 272.6 475.8 272.8 477.1 272.8 478.5 272.9 479.8 272.9 481.2 273 482.5 273.1 483.8 273.1 485.2 273 486.5 273.1 487.9 273 489.2 273 490.6 272.9 491.9 272.9 493.3 272.8 494.6 272.7 495.9 272.6 497.3 272.5 498.6 272.1 500 271.9 501.3 271.7 502.7 271.8 504 271.7 505.3 271.3 506.7 271.2 508 271.1 509.4 270.9 510.7 270.7 512.1 270.8 513.4 270.7 514.7 270.6 516.1 270.2 517.4 270.4 518.8 270.1 521.5 270.1 522.8 269.9 524.1 269.7 525.5 269.2 526.8 269 528.2 268.8 529.5 268.5 530.9 268.3 532.2 268.3 533.5 268 534.9 267.9 536.2 267.8 537.6 267.6 538.9 267.4 540.3 267.2 541.6 267 542.9 266.7 544.3 266.6 545.6 266.5 547 266.5 548.3 266.3 552.3 266.3 553.7 266.1 555 266 556.4 265.9 557.7 265.7 559.1 265.6 560.4 265.5 561.7 265.3 563.1 265.3 564.4 265.2 565.8 265 567.1 264.9 568.5 264.6 569.8 264.5 571.1 264.5 572.5 264.3 573.8 264.2 575.2 264.3 576.5 263.9 577.9 263.8 581.9 263.8 583.2 263.7 584.6 263.5 585.9 263.2 587.3 263.2 588.6 263.1 589.9 263.2 591.3 263.1 592.6 262.9 594 262.7 595.3 262.7 596.7 262.5 598 262.6 599.3 262.7 600.7 262.4 602 262.6 603.4 262.3 604.7 262.2 606.1 262.2 607.4 262.1 610.1 262.1 611.4 262 612.8 261.8 614.1 261.7 615.5 261.8 616.8 261.7 618.1 261.5 619.5 261.4 620.8 261.2 622.2 261.1 623.5 261.4 624.9 261.1 626.2 260.9 627.5 260.8 628.9 260.7 630.2 260.5 631.6 260.3 632.9 260.1 634.3 260.1 635.6 260 636.9 259.8 641 259.8 642.3 259.9 643.7 259.9 645 259.8 646.3 259.7 647.7 259.4 649 259.5 650.4 259.4 651.7 259.5 653.1 259.4 654.4 259.2 655.7 258.9 657.1 259 658.4 259.1 659.8 259.1 661.1 258.9 662.5 258.9 663.8 258.7 665.1 258.5 666.5 258.5 667.8 258.6 669.2 258.7 670.5 258.6 671.9 258.5 674.5 258.5 675.9 258.6 677.2 258.6 678.6 258.5 679.9 258.4 681.3 258.6 682.6 258.4 683.9 258.5 685.3 258.4 686.6 258.2 688 258 689.3 258 690.7 257.8 692 257.8 693.3 257.6 694.7 257.7 696 257.5 700.1 257.5 701.4 257.4 702.7 257.3 704.1 257.1 705.4 257.2 708.1 257.2 709.5 257 710.8 256.8 713.5 256.8 714.8 256.6 716.2 256.5 717.5 256.5 718.9 256.2 720.2 256.4 721.5 256.4 722.9 256.3 724.2 256.4 725.6 256.4 726.9 256.3 728.3 256.2 729.6 256.1 730.9 256 732.3 256 733.6 255.9 735 256.1 736.3 256.1 737.7 256 740.3 256 741.7 256.1 743 256.3 744.4 256.3 745.7 256.1 747.1 256.1 748.4 256.2 749.7 256.3 751.1 256.2 752.4 256.3 753.8 256.2 756.5 256.2 757.8 256.1 759.1 256.1 760.5 256.2 761.8 256.5 763.2 256.6 764.5 256.8 765.9 256.8 767.2 256.7 768.5 256.9 769.9 256.9 771.2 257 772.6 257.1 773.9 257 775.3 257.1 776.6 257.1 778 257 779.3 257 780.6 257.1 782 257.2 783.3 257.1 784.7 257.1 786 257 787.4 256.7 788.7 256.7 790 256.8 792.7 256.8 794.1 256.9 795.4 256.8 796.8 256.7 798.1 256.8 799.4 256.8 800.8 256.7 802.1 256.7 803.5 256.6 806.2 256.6 807.5 256.5 808.8 256.6 810.2 256.8 811.5 256.9 812.9 256.8 814.2 256.9 815.6 256.8 816.9 256.8 818.2 256.9 819.6 256.9 820.9 256.8 822.3 256.7 823.6 256.8 825 256.7 826.3 256.7 827.6 256.8 829 256.8 830.3 256.7 831.7 256.9 833 257.1 834.4 257 835.7 256.8 837 256.8 838.4 256.7 839.7 256.9 841.1 256.9 842.4 256.8 843.8 256.8 845.1 256.7 846.4 256.5 847.8 256.5 849.1 256.6 850.5 256.6 851.8 256.7 853.2 256.7 854.5 256.8 855.8 256.6 857.2 256.6 858.5 256.7 859.9 256.8 861.2 256.6 862.6 256.5 863.9 256.3 865.2 256.5 866.6 256.5 867.9 256.6 869.3 256.8 870.6 256.7 873.3 256.7 874.6 256.9 876 256.7 877.3 256.8 878.7 256.6 880 256.6 881.4 256.5 882.7 256.5 884 256.3 885.4 256.3 886.7 256.6 888.1 256.3 889.4 256.2 890.8 256.2 892.1 256.1 893.4 255.8 894.8 255.6 898.8 255.6 900.2 255.5 901.5 255.6 902.8 255.5 905.5 255.5 906.9 255.4 909.6 255.4 910.9 255.2 912.2 255.1 913.6 255.2 914.9 255 916.3 254.8 917.6 254.9 919 255 920.3 254.8 921.6 254.8 923 254.7 924.3 254.6 928.4 254.6 929.7 254.5 931 254.6 932.4 254.6 933.7 254.7 935.1 254.8 936.4 254.7 937.8 254.7 939.1 254.6 940.4 254.7 941.8 254.5 943.1 254.5 944.5 254.7 948.5 254.7 949.8 254.6 951.2 254.5 952.5 254.5 953.9 254.6 955.2 254.5 956.6 254.9 957.9 254.9 959.2 255 960.6 255.1 961.9 255.3 963.3 255.3 964.6 255.4 966 255.5 967.3 255.3 968.6 255.4 970 255.3 971.3 255.4 972.7 255.5 974 255.5 975.4 255.6 976.7 255.8 978 255.8 979.4 255.9 980.7 255.8 982.1 256.1 983.4 256.1 984.8 256.3 986.1 256.2 987.4 256.3 988.8 256.3 990.1 256.2 991.5 256.4 992.8 256.8 994.2 256.8 995.5 256.9 996.8 256.9 998.2 257 999.5 257.1 1000.9 257.1 1002.2 257 1003.6 257.2 1004.9 257.2 1006.2 257.3 1007.6 257.4 1008.9 257.5 1010.3 257.4 1011.6 257.6 1013 257.4 1014.3 257.5 1015.6 257.8 1017 257.9 1018.3 258 1019.7 257.9 1021 258.1 1022.4 258.2 1023.7 258.3 1025 258.5 1026.4 258.4 1027.7 258.3 1029.1 258.5 1030.4 258.6 1031.8 258.7 1035.8 258.7 1037.1 258.9 1038.5 259.1 1041.2 259.1 1042.5 259.2 1043.8 259.2 1045.2 259.3 1046.5 259.4 1047.9 259.3 1049.2 259.4 1050.6 259.5 1051.9 259.5 1053.3 259.8 1054.6 259.9 1055.9 259.7 1057.3 259.8 1058.6 259.8 1060 259.9 1061.3 259.9 1062.7 260.2 1064 260.6 1065.3 260.7 1066.7 260.9 1068 261 1069.4 261.6 1070.7 262 1072.1 262.1 1073.4 262.1 1074.7 262.4 1076.1 262.5 1077.4 262.6 1078.8 262.6 1080.1 262.8 1081.5 262.8 1082.8 263.1 1084.1 263.2 1086.8 263.2 1088.2 263.4 1089.5 263.3 1090.9 263.3 1092.2 263.4 1093.5 263.5 1096.2 263.5 1097.6 263.7 1098.9 263.8 1100.3 263.9 1101.6 264 1102.9 264.2 1104.3 264.5 1107 264.5 1108.3 264.7 1109.7 264.6 1112.3 264.6 1113.7 265 1115 265.1 1116.4 265.3 1117.7 265.4 1119.1 265.4 1120.4 265.6 1121.7 265.8 1123.1 265.9 1124.4 266 1125.8 266.3 1127.1 266.4 1128.5 266.5 1129.8 266.5 1131.1 266.7 1132.5 267 1133.8 267.2 1135.2 267.7 1136.5 268.1 1137.9 268.5 1139.2 268.8 1140.5 269.4 1141.9 269.8 1143.2 270.4 1144.6 270.8 1145.9 271.1 1147.3 271.3 1148.6 271.8 1149.9 272.6 1151.3 272.5 1152.6 273.3 1154 274 1155.3 274.6 1156.7 275.3 1158 275.9 1159.3 276.4 1160.7 277.4 1162 277.9 1163.4 278.6 1164.7 279.3 1166.1 280.2 1167.4 280.9 1168.7 281.3 1170.1 281.9 1171.4 282.5 1172.8 283.2 1174.1 283.9 1175.5 284.4 1176.8 284.7 1178.1 285.5 1179.5 286.5 1180.8 287.1 1182.2 287.8 1183.5 288.2 1184.9 289 1186.2 289.7 1187.5 290.6 1188.9 291.3 1190.2 292.1 1191.6 292.8 1192.9 293.1 1194.3 293.8 1195.6 294.2 1196.9 294.6 1198.3 295.1 1199.6 295.4 1201 295.7 1202.3 296.1 1203.7 296.4 1205 297.1 1206.3 297.7 1207.7 298.3 1209 299 1210.4 299.6 1211.7 300.5 1213.1 301.3 1214.4 302.1 1215.7 303.4 1217.1 304.8 1218.4 305.9 1219.8 307.2 1221.1 309 1222.5 310.8 1223.8 311.9 1225.1 313.8 1226.5 315.1 1227.8 316.6 1229.2 317.6 1230.5 318.8 1231.9 321.1 1233.2 323.2 1234.5 324.4 1235.9 325.7 1237.2 327.8 1238.6 328.6 1239.9 330.3 1241.3 331.5 1242.6 332.4 1243.9 334 1245.3 334.5 1246.6 335.6 1248 337.1 1249.3 339.2 1250.7 340.7 1252 342.2 1253.3 344.7 1254.7 347.4 1256 349.3 1257.4 351.4 1258.7 354.1 1260.1 355.2 1261.4 356.9 1262.7 358.7 1264.1 361.2 1265.4 362.7 1266.8 363.9 1268.1 365 1269.5 366.5 1270.8 370.1 1272.1 372.7 1273.5 376.2 1274.8 379 1276.2 383.9 1277.5 389 1278.9 397.1 1280.2 402 1281.5 406.8 1282.9 410.6 1284.2 412.9 1285.6 422 1286.9 425.6 1288.3 431.6 1289.6 438.3 1290.9 444.9 1292.3 453 1293.6 457.3 1295 465.5 1296.3 468.6 1297.7 476.2 1299 485.4 1300.3 492.7 1301.7 500.9 1303 517.5 1304.4 529.3 1305.7 541.4 1307.1 554.5 1308.4 562.7 1309.7 572.5 1311.1 578.3 1312.4 589.7 1313.8 602.4 1315.1 615.2 1316.5 629.2 1317.8 643.2 1319.1 655.9 1320.5 670.6 1321.8 687 1323.2 700.2 1324.5 711.7 1325.9 727.2 1327.2 738.5 1328.6 754.3 1329.9 769.7 1331.2 788.2 1332.6 811 1333.9 832.8 1335.3 853.8 1336.6 871.1 1338 882.7 1339.3 896.8 1340.6 914.3 1342 929.6 1343.3 942 1344.7 955.2 1346 969.7 1347.4 981.1 1348.7 993 1350 1006.9 1351.4 1020.2 1352.7 1035.6 1354.1 1052.7 1355.4 1067 1356.8 1081.1 1358.1 1099.1 1359.4 1114.7 1360.8 1135.4 1362.1 1149.7 1363.5 1170.4 1364.8 1180.2 1366.2 1189.1 1367.5 1193.8 1368.8 1196.6 1370.2 1201.9 1371.5 1210.3 1372.9 1217.8 1374.2 1222.5 1375.6 1230 1376.9 1236.5 1378.2 1241.8 1379.6 1245.4 1380.9 1250 1382.3 1255.8 1383.6 1262.1 1385 1269.7 1386.3 1276.4 1387.6 1279 1389 1283.7 1390.3 1289.3 1391.7 1291.7 1393 1296.9 1394.4 1299.3 1395.7 1303.6 1397 1307.4 1398.4 1310.1 1399.7 1312.5 1401.1 1315.1 1402.4 1318.7 1403.8 1322.4 1405.1 1323.9 1406.4 1325.8 1407.8 1327.8 1409.1 1330.4 1410.5 1332.1 1411.8 1333.7 1413.2 1334.9 1414.5 1336.5 1415.8 1337.9 1417.2 1338.8 1418.5 1340.3 1419.9 1341.5 1421.2 1342.6 1422.6 1343.5 1423.9 1344.2 1425.2 1344.5 1426.6 1344.9 1427.9 1345.2 1429.3 1345.5 1430.6 1345.6 1432 1345.8 1433.3 1346 1434.6 1346.1 1436 1346.2 1437.3 1346.3 1438.7 1346.3 1440 1346.4 1441.4 1346.5 1442.7 1346.6 1444 1346.7 1445.4 1346.7 1446.7 1346.8 1448.1 1346.9 1450.8 1346.9 1452.1 1347 1472.2 1347 1473.6 1347.1 1474.9 1347 1476.3 1347.1 1477.6 1347.1 1479 1347 1484.3 1347 1485.7 1347.1 1497.8 1347.1 1499.1 1347 1500.4 1347.1 1501.8 1347 1504.5 1347 1505.8 1347.1 1507.2 1347 1508.5 1347 1509.8 1347.1 1516.6 1347.1 1517.9 1347"/>
<path stroke="#0000ff" stroke-width="10.417" d="M176.3 606 177.7 603.3 179 597.9 180.3 592.4 181.7 587 183 581.5 184.4 576.1 185.7 570.6 187.1 565.1 188.4 559.6 189.7 554.1 191.1 548.5 192.4 543 193.8 537.5 195.1 531.9 196.5 526.4 197.8 520.8 199.1 515.2 200.5 509.6 201.8 504 203.2 498.4 204.5 492.8 205.9 487.1 207.2 481.5 208.5 475.8 209.9 470.1 211.2 464.4 212.6 458.6 213.9 452.9 215.3 447.2 216.6 441.5 218 435.8 219.3 430.1 220.6 424.5 222 418.8 223.3 413.2 224.7 407.5 226 401.9 227.4 396.2 228.7 390.5 230 384.9 231.4 379.2 232.7 373.6 234.1 368 235.4 362.5 236.8 357 238.1 351.5 239.4 346.2 240.8 340.9 242.1 335.6 243.5 330.5 244.8 325.5 246.2 320.5 247.5 315.5 248.8 310.6 250.2 306.1 251.5 302.1 252.9 298.4 254.2 295.1 255.6 292.1 256.9 289.6 258.2 287.3 259.6 285.1 260.9 283 262.3 281 263.6 279.2 265 277.5 266.3 275.8 267.6 274.3 269 273 270.3 271.9 271.7 270.8 273 269.8 274.4 268.9 275.7 268 277 267.1 278.4 266.2 279.7 265.3 281.1 264.5 282.4 263.6 283.8 262.8 285.1 262 286.4 261.3 287.8 260.5 289.1 259.8 290.5 259.1 291.8 258.4 293.2 257.8 294.5 257.1 295.8 256.5 297.2 255.9 298.5 255.3 299.9 254.7 301.2 254.2 302.6 253.6 303.9 253.1 305.2 252.6 306.6 252.1 307.9 251.6 309.3 251.1 310.6 250.7 312 250.2 313.3 249.8 314.6 249.3 316 248.9 317.3 248.5 318.7 248 320 247.6 321.4 247.2 322.7 246.7 324 246.3 325.4 245.9 326.7 245.5 328.1 245.1 329.4 244.7 330.8 244.3 332.1 243.9 333.4 243.5 334.8 243.2 336.1 242.8 337.5 242.5 338.8 242.1 340.2 241.8 341.5 241.5 342.8 241.1 344.2 240.8 345.5 240.5 346.9 240.2 348.2 239.9 349.6 239.6 350.9 239.3 352.2 239 353.6 238.7 354.9 238.4 356.3 238.1 357.6 237.8 359 237.6 360.3 237.3 361.6 237 363 236.7 364.3 236.5 365.7 236.2 367 235.9 368.4 235.7 369.7 235.4 371 235.1 372.4 234.9 373.7 234.6 375.1 234.3 376.4 234.1 377.8 233.8 379.1 233.5 380.4 233.3 381.8 233 383.1 232.8 384.5 232.5 385.8 232.3 387.2 232 388.5 231.8 389.8 231.5 391.2 231.3 392.5 231.1 393.9 230.8 395.2 230.6 396.6 230.4 397.9 230.2 399.2 229.9 400.6 229.7 401.9 229.5 403.3 229.3 404.6 229.2 406 229 407.3 228.8 408.6 228.6 410 228.4 411.3 228.2 412.7 228.1 414 227.9 415.4 227.7 416.7 227.6 418 227.4 419.4 227.3 420.7 227.1 422.1 226.9 423.4 226.8 424.8 226.6 426.1 226.5 427.4 226.3 428.8 226.2 430.1 226 431.5 225.9 432.8 225.8 434.2 225.6 435.5 225.5 436.8 225.3 438.2 225.2 439.5 225 440.9 224.9 442.2 224.7 443.6 224.6 444.9 224.4 446.2 224.3 447.6 224.2 448.9 224 450.3 223.9 451.6 223.8 453 223.6 454.3 223.5 455.6 223.3 457 223.2 458.3 223.1 459.7 223 461 222.8 462.4 222.7 463.7 222.6 465 222.4 466.4 222.3 467.7 222.2 469.1 222.1 470.4 222 471.8 221.8 473.1 221.7 474.4 221.6 475.8 221.5 477.1 221.4 478.5 221.3 479.8 221.1 481.2 221 482.5 220.9 483.8 220.8 485.2 220.7 486.5 220.6 487.9 220.4 489.2 220.3 490.6 220.2 491.9 220.1 493.3 220 494.6 219.9 495.9 219.7 497.3 219.6 498.6 219.5 500 219.4 501.3 219.3 502.7 219.2 504 219.1 505.3 219 506.7 218.8 508 218.7 509.4 218.6 510.7 218.5 512.1 218.4 513.4 218.3 514.7 218.2 516.1 218.1 517.4 218 518.8 217.9 520.1 217.8 521.5 217.6 522.8 217.5 524.1 217.4 525.5 217.3 526.8 217.2 528.2 217.1 529.5 217 530.9 216.9 532.2 216.8 533.5 216.7 534.9 216.6 536.2 216.5 537.6 216.4 538.9 216.3 540.3 216.3 541.6 216.2 542.9 216.1 544.3 216 545.6 215.9 547 215.8 548.3 215.7 549.7 215.6 551 215.5 552.3 215.4 553.7 215.4 555 215.3 556.4 215.2 557.7 215.1 559.1 215 560.4 215 561.7 214.9 563.1 214.8 564.4 214.7 565.8 214.7 567.1 214.6 568.5 214.5 569.8 214.5 571.1 214.4 572.5 214.3 573.8 214.3 575.2 214.2 576.5 214.1 577.9 214.1 579.2 214 580.5 213.9 581.9 213.9 583.2 213.8 584.6 213.8 585.9 213.7 587.3 213.6 588.6 213.6 589.9 213.5 591.3 213.4 592.6 213.4 594 213.3 595.3 213.2 596.7 213.2 598 213.1 599.3 213.1 600.7 213 602 212.9 603.4 212.9 604.7 212.8 606.1 212.8 607.4 212.7 608.7 212.6 610.1 212.6 611.4 212.5 612.8 212.5 614.1 212.4 615.5 212.3 616.8 212.3 618.1 212.2 619.5 212.2 620.8 212.1 622.2 212.1 623.5 212 624.9 211.9 626.2 211.9 627.5 211.8 628.9 211.8 630.2 211.7 631.6 211.7 632.9 211.6 634.3 211.6 635.6 211.5 636.9 211.5 638.3 211.4 639.6 211.4 641 211.3 642.3 211.3 643.7 211.2 645 211.2 646.3 211.1 647.7 211.1 649 211 650.4 211 651.7 210.9 654.4 210.9 655.7 210.8 657.1 210.8 658.4 210.7 661.1 210.7 662.5 210.6 665.1 210.6 666.5 210.5 669.2 210.5 670.5 210.4 673.2 210.4 674.5 210.3 678.6 210.3 679.9 210.2 683.9 210.2 685.3 210.1 692 210.1 693.3 210 710.8 210 712.1 209.9 737.7 209.9 739 209.8 775.3 209.8 776.6 209.7 835.7 209.7 837 209.8 845.1 209.8 846.4 209.9 851.8 209.9 853.2 210 857.2 210 858.5 210.1 862.6 210.1 863.9 210.2 866.6 210.2 867.9 210.3 870.6 210.3 872 210.4 874.6 210.4 876 210.5 878.7 210.5 880 210.6 882.7 210.6 884 210.7 886.7 210.7 888.1 210.8 890.8 210.8 892.1 210.9 893.4 210.9 894.8 211 897.5 211 898.8 211.1 901.5 211.1 902.8 211.2 904.2 211.2 905.5 211.3 908.2 211.3 909.6 211.4 912.2 211.4 913.6 211.5 914.9 211.5 916.3 211.6 917.6 211.6 919 211.7 920.3 211.7 921.6 211.8 924.3 211.8 925.7 211.9 927 211.9 928.4 212 929.7 212.1 931 212.1 932.4 212.2 933.7 212.2 935.1 212.3 936.4 212.3 937.8 212.4 939.1 212.4 940.4 212.5 941.8 212.6 943.1 212.6 944.5 212.7 945.8 212.7 947.2 212.8 948.5 212.9 949.8 212.9 951.2 213 952.5 213.1 953.9 213.1 955.2 213.2 956.6 213.2 957.9 213.3 959.2 213.4 960.6 213.4 961.9 213.5 963.3 213.6 964.6 213.7 966 213.7 967.3 213.8 968.6 213.9 970 214 971.3 214 972.7 214.1 974 214.2 975.4 214.3 976.7 214.4 978 214.5 979.4 214.5 980.7 214.6 982.1 214.7 983.4 214.8 984.8 214.9 986.1 215 987.4 215.1 988.8 215.1 990.1 215.2 991.5 215.3 992.8 215.4 994.2 215.5 995.5 215.6 996.8 215.7 998.2 215.8 999.5 215.8 1000.9 215.9 1002.2 216 1003.6 216.1 1004.9 216.2 1006.2 216.3 1007.6 216.4 1008.9 216.5 1010.3 216.6 1011.6 216.6 1013 216.7 1014.3 216.8 1015.6 216.9 1017 217 1018.3 217.1 1019.7 217.2 1021 217.3 1022.4 217.4 1023.7 217.5 1025 217.6 1026.4 217.7 1027.7 217.9 1029.1 218 1030.4 218.1 1031.8 218.2 1033.1 218.3 1034.4 218.4 1035.8 218.6 1037.1 218.7 1038.5 218.8 1039.8 218.9 1041.2 219.1 1042.5 219.2 1043.8 219.3 1045.2 219.5 1046.5 219.6 1047.9 219.8 1049.2 219.9 1050.6 220 1051.9 220.2 1053.3 220.3 1054.6 220.5 1055.9 220.7 1057.3 220.8 1058.6 221 1060 221.2 1061.3 221.3 1062.7 221.5 1064 221.7 1065.3 221.9 1066.7 222.1 1068 222.3 1069.4 222.5 1070.7 222.7 1072.1 222.9 1073.4 223.1 1074.7 223.3 1076.1 223.5 1077.4 223.7 1078.8 224 1080.1 224.3 1081.5 224.5 1082.8 224.8 1084.1 225.1 1085.5 225.4 1086.8 225.7 1088.2 226 1089.5 226.4 1090.9 226.7 1092.2 227 1093.5 227.4 1094.9 227.7 1096.2 228.1 1097.6 228.5 1098.9 228.9 1100.3 229.2 1101.6 229.6 1102.9 230 1104.3 230.4 1105.6 230.9 1107 231.3 1108.3 231.8 1109.7 232.2 1111 232.7 1112.3 233.2 1113.7 233.7 1115 234.2 1116.4 234.7 1117.7 235.2 1119.1 235.8 1120.4 236.3 1121.7 236.9 1123.1 237.5 1124.4 238.1 1125.8 238.7 1127.1 239.3 1128.5 240 1129.8 240.7 1131.1 241.4 1132.5 242.1 1133.8 242.9 1135.2 243.7 1136.5 244.4 1137.9 245.2 1139.2 246 1140.5 246.8 1141.9 247.6 1143.2 248.4 1144.6 249.2 1145.9 250.1 1147.3 250.9 1148.6 251.8 1149.9 252.7 1151.3 253.6 1152.6 254.5 1154 255.4 1155.3 256.3 1156.7 257.3 1158 258.3 1159.3 259.3 1160.7 260.3 1162 261.3 1163.4 262.4 1164.7 263.5 1166.1 264.6 1167.4 265.8 1168.7 267.1 1170.1 268.3 1171.4 269.6 1172.8 271 1174.1 272.4 1175.5 273.8 1176.8 275.2 1178.1 276.7 1179.5 278.3 1180.8 279.9 1182.2 281.5 1183.5 283.1 1184.9 284.9 1186.2 286.6 1187.5 288.5 1188.9 290.4 1190.2 292.4 1191.6 294.4 1192.9 296.5 1194.3 298.6 1195.6 300.9 1196.9 303.2 1198.3 305.6 1199.6 308.2 1201 310.9 1202.3 313.6 1203.7 316.5 1205 319.4 1206.3 322.4 1207.7 325.4 1209 328.5 1210.4 331.7 1211.7 335 1213.1 338.3 1214.4 341.7 1215.7 345.2 1217.1 348.7 1218.4 352.3 1219.8 356 1221.1 359.8 1222.5 363.7 1223.8 367.7 1225.1 371.7 1226.5 375.9 1227.8 380.1 1229.2 384.5 1230.5 388.9 1231.9 393.5 1233.2 398.2 1234.5 403 1235.9 407.9 1237.2 412.9 1238.6 418 1239.9 423.3 1241.3 428.7 1242.6 434.2 1243.9 439.7 1245.3 445.4 1246.6 451.2 1248 457 1249.3 462.9 1250.7 468.9 1252 475 1253.3 481.2 1254.7 487.4 1256 493.8 1257.4 500.2 1258.7 506.7 1260.1 513.4 1261.4 520.1 1262.7 526.9 1264.1 533.8 1265.4 540.8 1266.8 547.9 1268.1 555.1 1269.5 562.4 1270.8 569.9 1272.1 577.4 1273.5 585 1274.8 592.7 1276.2 600.6 1277.5 608.5 1278.9 616.5 1280.2 624.7 1281.5 632.9 1282.9 641.2 1284.2 649.7 1285.6 658.2 1286.9 666.8 1288.3 675.4 1289.6 684.2 1290.9 693 1292.3 701.9 1293.6 710.8 1295 719.8 1296.3 728.8 1297.7 737.8 1299 746.9 1300.3 756 1301.7 765.1 1303 774.2 1304.4 783.3 1305.7 792.4 1307.1 801.4 1308.4 810.4 1309.7 819.4 1311.1 828.3 1312.4 837.2 1313.8 846 1315.1 854.8 1316.5 863.6 1317.8 872.3 1319.1 880.9 1320.5 889.5 1321.8 898.1 1323.2 906.6 1324.5 915.1 1325.9 923.5 1327.2 931.8 1328.6 940.1 1329.9 948.4 1331.2 956.6 1332.6 964.7 1333.9 972.8 1335.3 980.8 1336.6 988.8 1338 996.7 1339.3 1004.6 1340.6 1012.4 1342 1020.1 1343.3 1027.8 1344.7 1035.5 1346 1043.1 1347.4 1050.6 1348.7 1058 1350 1065.5 1351.4 1072.8 1352.7 1080.1 1354.1 1087.4 1355.4 1094.6 1356.8 1101.7 1358.1 1108.8 1359.4 1115.9 1360.8 1122.8 1362.1 1129.8 1363.5 1136.6 1364.8 1143.5 1366.2 1150.3 1367.5 1157 1368.8 1163.7 1370.2 1170.3 1371.5 1176.8 1372.9 1183.3 1374.2 1189.5 1375.6 1195.6 1376.9 1201.5 1378.2 1207.3 1379.6 1212.7 1380.9 1217.9 1382.3 1222.9 1383.6 1227.8 1385 1232.5 1386.3 1237.1 1387.6 1241.4 1389 1245.4 1390.3 1249.3 1391.7 1253.1 1393 1256.7 1394.4 1260.2 1395.7 1263.6 1397 1266.9 1398.4 1270.2 1399.7 1273.5 1401.1 1276.8 1402.4 1280.1 1403.8 1283.3 1405.1 1286.4 1406.4 1289.3 1407.8 1292 1409.1 1294.6 1410.5 1297.2 1411.8 1299.6 1413.2 1301.9 1414.5 1304.2 1415.8 1306.3 1417.2 1308.4 1418.5 1310.4 1419.9 1312.4 1421.2 1314.2 1422.6 1316.1 1423.9 1317.8 1425.2 1319.6 1426.6 1321.2 1427.9 1322.8 1429.3 1324.4 1430.6 1325.8 1432 1327.2 1433.3 1328.5 1434.6 1329.6 1436 1330.8 1437.3 1331.8 1438.7 1332.9 1440 1333.8 1441.4 1334.7 1442.7 1335.5 1444 1336.3 1445.4 1337.1 1446.7 1337.8 1448.1 1338.5 1449.4 1339.1 1450.8 1339.7 1452.1 1340.2 1453.4 1340.8 1454.8 1341.2 1456.1 1341.7 1457.5 1342.1 1458.8 1342.5 1460.2 1342.8 1461.5 1343.2 1462.8 1343.5 1464.2 1343.8 1465.5 1344.1 1466.9 1344.4 1468.2 1344.8 1469.6 1345.1 1470.9 1345.4 1472.2 1345.7 1473.6 1346 1474.9 1346.2 1476.3 1346.4 1477.6 1346.6 1479 1346.7 1480.3 1346.9 1481.6 1347 1483 1347.1 1484.3 1347.2 1485.7 1347.3 1487 1347.4 1488.4 1347.4 1489.7 1347.5 1491 1347.6 1492.4 1347.6 1493.7 1347.7 1496.4 1347.7 1497.8 1347.8 1499.1 1347.8 1500.4 1347.9 1504.5 1347.9 1505.8 1348 1509.8 1348 1511.2 1348.1 1517.9 1348.1"/>
</g>
<rect x="176.5" y="97.5" width="1342" height="1252" fill="none" stroke="#000000" stroke-width="3" stroke-linejoin="miter"/>
<rect x="1591.50" y="116.50" width="602.00" height="740.00" rx="7.64" ry="7.64" fill="#ffffff" fill-opacity="0.8" stroke="#cccccc" stroke-opacity="0.8" stroke-width="3.472"/>
<g fill="#000000" font-family="'DejaVu Sans', 'Liberation Sans', sans-serif" font-size="38.19px">
<text transform="translate(176.32 1399.86) scale(1 0.970)" text-anchor="middle">0.0</text>
<text transform="translate(444.64 1399.86) scale(1 0.970)" text-anchor="middle">0.2</text>
<text transform="translate(712.95 1399.86) scale(1 0.970)" text-anchor="middle">0.4</text>
<text transform="translate(981.27 1399.86) scale(1 0.970)" text-anchor="middle">0.6</text>
<text transform="translate(1249.59 1399.86) scale(1 0.970)" text-anchor="middle">0.8</text>
<text transform="translate(1517.90 1399.86) scale(1 0.970)" text-anchor="middle">1.0</text>
<text transform="translate(152.01 1362.56) scale(1 0.970)" text-anchor="end">0.0</text>
<text transform="translate(152.01 1112.26) scale(1 0.970)" text-anchor="end">0.2</text>
<text transform="translate(152.01 861.97) scale(1 0.970)" text-anchor="end">0.4</text>
<text transform="translate(152.01 611.67) scale(1 0.970)" text-anchor="end">0.6</text>
<text transform="translate(152.01 361.38) scale(1 0.970)" text-anchor="end">0.8</text>
<text transform="translate(152.01 111.08) scale(1 0.970)" text-anchor="end">1.0</text>
<text x="847.11" y="1450.75" text-anchor="middle">Confidence</text>
<text transform="translate(72.25 726.82) rotate(-90) scale(1 0.970)" text-anchor="middle">F1</text>
<text x="1712.89" y="159.46">w_pawn</text>
<text x="1712.89" y="215.56">w_knight</text>
<text x="1712.89" y="271.65">w_bishop</text>
<text x="1712.89" y="327.75">w_rook</text>
<text x="1712.89" y="383.85">w_queen</text>
<text x="1712.89" y="439.94">w_king</text>
<text x="1712.89" y="496.04">b_pawn</text>
<text x="1712.89" y="552.14">b_knight</text>
<text x="1712.89" y="608.24">b_bishop</text>
<text x="1712.89" y="664.33">b_rook</text>
<text x="1712.89" y="720.43">b_queen</text>
<text x="1712.89" y="776.53">b_king</text>
<text x="1712.89" y="832.62">all classes 0.91 at 0.436</text>
<text x="847.11" y="77.45" text-anchor="middle" font-size="45.83px">F1-Confidence Curve</text>
</g>
<g fill="none" stroke-linecap="square" stroke-width="3.472">
<path stroke="#1f77b4" d="M1606.74 146.5 H1682.26"/>
<path stroke="#ff7f0e" d="M1606.74 202.5 H1682.26"/>
<path stroke="#2ca02c" d="M1606.74 258.5 H1682.26"/>
<path stroke="#d62728" d="M1606.74 314.5 H1682.26"/>
<path stroke="#9467bd" d="M1606.74 370.5 H1682.26"/>
<path stroke="#8c564b" d="M1606.74 427.5 H1682.26"/>
<path stroke="#e377c2" d="M1606.74 483.5 H1682.26"/>
<path stroke="#7f7f7f" d="M1606.74 539.5 H1682.26"/>
<path stroke="#bcbd22" d="M1606.74 595.5 H1682.26"/>
<path stroke="#17becf" d="M1606.74 651.5 H1682.26"/>
<path stroke="#1f77b4" d="M1606.74 707.5 H1682.26"/>
<path stroke="#ff7f0e" d="M1606.74 763.5 H1682.26"/>
<path stroke="#0000ff" stroke-width="10.417" d="M1606.21 819.00 H1681.79"/>
</g>
</svg>
</body>
</html>
